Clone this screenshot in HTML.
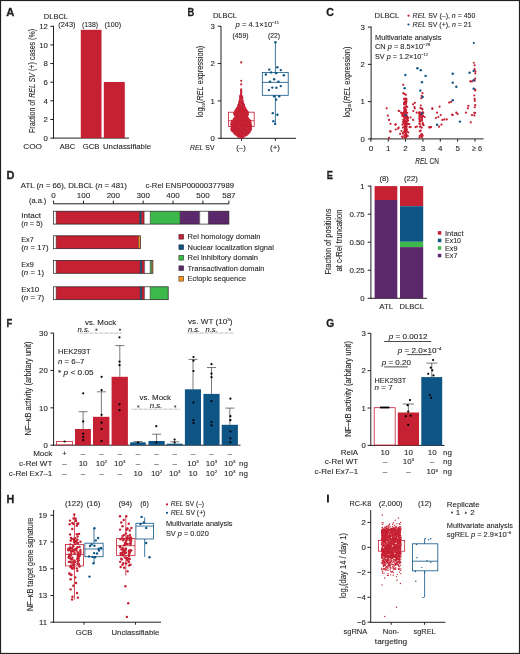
<!DOCTYPE html>
<html><head><meta charset="utf-8"><style>
html,body{margin:0;padding:0;background:#fff;}
svg{display:block;will-change:transform;font-family:"Liberation Sans",sans-serif;font-size:8.0px;}
text{stroke:#231f20;stroke-width:0.1px;}
</style></head><body>
<svg width="520" height="654" viewBox="0 0 520 654" fill="#231f20">
<rect x="0" y="0" width="520" height="654" fill="#fff"/>
<text transform="translate(6.21 16.10) scale(1.110 1)" font-size="10.1" font-weight="bold" style="stroke-width:0.3px">A</text>
<text x="43.80" y="18.50" textLength="24.20" lengthAdjust="spacingAndGlyphs">DLBCL</text>
<text x="58.20" y="27.20" textLength="17.30" lengthAdjust="spacingAndGlyphs">(243)</text>
<text x="82.00" y="27.20" textLength="16.00" lengthAdjust="spacingAndGlyphs">(138)</text>
<text x="104.50" y="27.20" textLength="16.60" lengthAdjust="spacingAndGlyphs">(100)</text>
<line x1="53.50" y1="25.80" x2="53.50" y2="138.60" stroke="#231f20" stroke-width="1.0"/>
<line x1="50.30" y1="138.10" x2="53.50" y2="138.10" stroke="#231f20" stroke-width="1.0"/>
<text x="47.90" y="140.80" font-size="7.8" text-anchor="end">0</text>
<line x1="50.30" y1="119.47" x2="53.50" y2="119.47" stroke="#231f20" stroke-width="1.0"/>
<text x="47.90" y="122.17" font-size="7.8" text-anchor="end">2</text>
<line x1="50.30" y1="100.83" x2="53.50" y2="100.83" stroke="#231f20" stroke-width="1.0"/>
<text x="47.90" y="103.53" font-size="7.8" text-anchor="end">4</text>
<line x1="50.30" y1="82.20" x2="53.50" y2="82.20" stroke="#231f20" stroke-width="1.0"/>
<text x="47.90" y="84.90" font-size="7.8" text-anchor="end">6</text>
<line x1="50.30" y1="63.56" x2="53.50" y2="63.56" stroke="#231f20" stroke-width="1.0"/>
<text x="47.90" y="66.26" font-size="7.8" text-anchor="end">8</text>
<line x1="50.30" y1="44.93" x2="53.50" y2="44.93" stroke="#231f20" stroke-width="1.0"/>
<text x="47.90" y="47.63" font-size="7.8" text-anchor="end">10</text>
<line x1="50.30" y1="26.30" x2="53.50" y2="26.30" stroke="#231f20" stroke-width="1.0"/>
<text x="47.90" y="29.00" font-size="7.8" text-anchor="end">12</text>
<line x1="53.00" y1="138.10" x2="129.00" y2="138.10" stroke="#231f20" stroke-width="1.0"/>
<rect x="80.80" y="29.80" width="20.70" height="108.30" fill="#c62033"/>
<rect x="103.80" y="82.00" width="21.00" height="56.10" fill="#c62033"/>
<text x="23.20" y="149.20" textLength="18.80" lengthAdjust="spacingAndGlyphs">COO</text>
<text x="59.80" y="149.20" textLength="15.40" lengthAdjust="spacingAndGlyphs">ABC</text>
<text x="82.70" y="149.20" textLength="16.70" lengthAdjust="spacingAndGlyphs">GCB</text>
<text x="103.00" y="149.20" textLength="48.00" lengthAdjust="spacingAndGlyphs">Unclassifiable</text>
<text x="35.30" y="81.00" font-size="8.6" text-anchor="middle" textLength="104.00" lengthAdjust="spacingAndGlyphs" transform="rotate(-90 35.30 81.00)">Fraction of <tspan font-style="italic">REL SV</tspan> (+) cases (%)</text>
<text transform="translate(187.60 16.10) scale(0.925 1)" font-size="10.1" font-weight="bold" style="stroke-width:0.3px">B</text>
<text x="213.00" y="17.80" textLength="24.00" lengthAdjust="spacingAndGlyphs">DLBCL</text>
<text x="235.50" y="27.00" textLength="43.50" lengthAdjust="spacingAndGlyphs"><tspan font-style="italic">p</tspan> = 4.1×10<tspan dy="-2.9" font-size="4.4">−11</tspan></text>
<text x="232.50" y="38.10" textLength="16.00" lengthAdjust="spacingAndGlyphs">(459)</text>
<text x="268.00" y="38.10" textLength="12.00" lengthAdjust="spacingAndGlyphs">(22)</text>
<line x1="221.00" y1="26.00" x2="221.00" y2="138.80" stroke="#231f20" stroke-width="1.0"/>
<line x1="217.80" y1="138.30" x2="221.00" y2="138.30" stroke="#231f20" stroke-width="1.0"/>
<text x="214.90" y="141.00" font-size="7.8" text-anchor="end">0</text>
<line x1="217.80" y1="100.93" x2="221.00" y2="100.93" stroke="#231f20" stroke-width="1.0"/>
<text x="214.90" y="103.63" font-size="7.8" text-anchor="end">1</text>
<line x1="217.80" y1="63.56" x2="221.00" y2="63.56" stroke="#231f20" stroke-width="1.0"/>
<text x="214.90" y="66.26" font-size="7.8" text-anchor="end">2</text>
<line x1="217.80" y1="26.19" x2="221.00" y2="26.19" stroke="#231f20" stroke-width="1.0"/>
<text x="214.90" y="28.89" font-size="7.8" text-anchor="end">3</text>
<line x1="220.50" y1="138.30" x2="296.00" y2="138.30" stroke="#231f20" stroke-width="1.0"/>
<line x1="241.50" y1="138.30" x2="241.50" y2="140.80" stroke="#231f20" stroke-width="1.0"/>
<line x1="275.40" y1="138.30" x2="275.40" y2="140.80" stroke="#231f20" stroke-width="1.0"/>
<text x="203.10" y="81.60" font-size="8.6" text-anchor="middle" textLength="71.60" lengthAdjust="spacingAndGlyphs" transform="rotate(-90 203.10 81.60)">log<tspan dy="1.7" font-size="4.4">10</tspan><tspan dy="-1.7">(<tspan font-style="italic">REL</tspan> expression)</text>
<text x="190.00" y="150.20" textLength="24.60" lengthAdjust="spacingAndGlyphs"><tspan font-style="italic">REL</tspan> SV</text>
<text x="241.00" y="150.20" text-anchor="middle" textLength="9.40" lengthAdjust="spacingAndGlyphs">(–)</text>
<text x="275.00" y="150.20" text-anchor="middle" textLength="10.00" lengthAdjust="spacingAndGlyphs">(+)</text>
<rect x="228.50" y="112.20" width="25.70" height="14.30" fill="none" stroke="#c62033" stroke-width="0.8"/>
<line x1="228.50" y1="120.70" x2="254.20" y2="120.70" stroke="#c62033" stroke-width="0.8"/>
<circle cx="241.09" cy="90.79" r="1.1" fill="#c62033"/>
<circle cx="241.29" cy="91.74" r="1.1" fill="#c62033"/>
<circle cx="241.22" cy="92.92" r="1.1" fill="#c62033"/>
<circle cx="240.93" cy="94.00" r="1.1" fill="#c62033"/>
<circle cx="240.92" cy="94.96" r="1.1" fill="#c62033"/>
<circle cx="240.24" cy="95.75" r="1.1" fill="#c62033"/>
<circle cx="241.85" cy="96.20" r="1.1" fill="#c62033"/>
<circle cx="240.17" cy="96.83" r="1.1" fill="#c62033"/>
<circle cx="242.08" cy="97.27" r="1.1" fill="#c62033"/>
<circle cx="240.30" cy="97.94" r="1.1" fill="#c62033"/>
<circle cx="242.43" cy="97.73" r="1.1" fill="#c62033"/>
<circle cx="240.32" cy="98.87" r="1.1" fill="#c62033"/>
<circle cx="242.08" cy="98.77" r="1.1" fill="#c62033"/>
<circle cx="239.84" cy="100.19" r="1.1" fill="#c62033"/>
<circle cx="242.26" cy="100.05" r="1.1" fill="#c62033"/>
<circle cx="239.89" cy="100.92" r="1.1" fill="#c62033"/>
<circle cx="242.62" cy="100.74" r="1.1" fill="#c62033"/>
<circle cx="239.33" cy="101.82" r="1.1" fill="#c62033"/>
<circle cx="241.31" cy="101.96" r="1.1" fill="#c62033"/>
<circle cx="242.69" cy="102.05" r="1.1" fill="#c62033"/>
<circle cx="239.23" cy="102.88" r="1.1" fill="#c62033"/>
<circle cx="241.38" cy="103.12" r="1.1" fill="#c62033"/>
<circle cx="242.99" cy="103.04" r="1.1" fill="#c62033"/>
<circle cx="238.93" cy="104.23" r="1.1" fill="#c62033"/>
<circle cx="240.58" cy="103.87" r="1.1" fill="#c62033"/>
<circle cx="242.25" cy="103.77" r="1.1" fill="#c62033"/>
<circle cx="243.43" cy="104.15" r="1.1" fill="#c62033"/>
<circle cx="238.37" cy="104.99" r="1.1" fill="#c62033"/>
<circle cx="240.05" cy="105.10" r="1.1" fill="#c62033"/>
<circle cx="242.23" cy="105.04" r="1.1" fill="#c62033"/>
<circle cx="244.05" cy="104.89" r="1.1" fill="#c62033"/>
<circle cx="238.35" cy="106.06" r="1.1" fill="#c62033"/>
<circle cx="239.77" cy="105.97" r="1.1" fill="#c62033"/>
<circle cx="241.40" cy="106.27" r="1.1" fill="#c62033"/>
<circle cx="242.67" cy="106.10" r="1.1" fill="#c62033"/>
<circle cx="243.90" cy="106.12" r="1.1" fill="#c62033"/>
<circle cx="237.89" cy="107.30" r="1.1" fill="#c62033"/>
<circle cx="239.69" cy="106.87" r="1.1" fill="#c62033"/>
<circle cx="241.13" cy="107.10" r="1.1" fill="#c62033"/>
<circle cx="242.61" cy="106.98" r="1.1" fill="#c62033"/>
<circle cx="244.40" cy="106.77" r="1.1" fill="#c62033"/>
<circle cx="237.04" cy="108.16" r="1.1" fill="#c62033"/>
<circle cx="238.64" cy="107.85" r="1.1" fill="#c62033"/>
<circle cx="240.35" cy="108.22" r="1.1" fill="#c62033"/>
<circle cx="241.73" cy="107.97" r="1.1" fill="#c62033"/>
<circle cx="243.57" cy="108.23" r="1.1" fill="#c62033"/>
<circle cx="245.29" cy="108.22" r="1.1" fill="#c62033"/>
<circle cx="236.67" cy="108.95" r="1.1" fill="#c62033"/>
<circle cx="238.18" cy="109.23" r="1.1" fill="#c62033"/>
<circle cx="240.01" cy="108.79" r="1.1" fill="#c62033"/>
<circle cx="241.01" cy="108.84" r="1.1" fill="#c62033"/>
<circle cx="242.51" cy="108.99" r="1.1" fill="#c62033"/>
<circle cx="244.19" cy="108.86" r="1.1" fill="#c62033"/>
<circle cx="245.30" cy="108.95" r="1.1" fill="#c62033"/>
<circle cx="236.04" cy="110.04" r="1.1" fill="#c62033"/>
<circle cx="237.84" cy="110.11" r="1.1" fill="#c62033"/>
<circle cx="239.03" cy="110.07" r="1.1" fill="#c62033"/>
<circle cx="240.58" cy="109.73" r="1.1" fill="#c62033"/>
<circle cx="242.17" cy="110.17" r="1.1" fill="#c62033"/>
<circle cx="243.60" cy="110.18" r="1.1" fill="#c62033"/>
<circle cx="244.76" cy="109.94" r="1.1" fill="#c62033"/>
<circle cx="246.04" cy="110.08" r="1.1" fill="#c62033"/>
<circle cx="235.18" cy="110.74" r="1.1" fill="#c62033"/>
<circle cx="236.71" cy="110.80" r="1.1" fill="#c62033"/>
<circle cx="238.22" cy="110.73" r="1.1" fill="#c62033"/>
<circle cx="239.46" cy="110.79" r="1.1" fill="#c62033"/>
<circle cx="240.96" cy="110.92" r="1.1" fill="#c62033"/>
<circle cx="242.36" cy="111.22" r="1.1" fill="#c62033"/>
<circle cx="244.15" cy="110.79" r="1.1" fill="#c62033"/>
<circle cx="245.37" cy="110.91" r="1.1" fill="#c62033"/>
<circle cx="246.88" cy="110.77" r="1.1" fill="#c62033"/>
<circle cx="235.06" cy="112.30" r="1.1" fill="#c62033"/>
<circle cx="236.24" cy="111.99" r="1.1" fill="#c62033"/>
<circle cx="237.42" cy="111.76" r="1.1" fill="#c62033"/>
<circle cx="238.99" cy="111.86" r="1.1" fill="#c62033"/>
<circle cx="240.69" cy="111.80" r="1.1" fill="#c62033"/>
<circle cx="241.62" cy="112.27" r="1.1" fill="#c62033"/>
<circle cx="243.33" cy="111.79" r="1.1" fill="#c62033"/>
<circle cx="244.75" cy="111.72" r="1.1" fill="#c62033"/>
<circle cx="246.16" cy="112.29" r="1.1" fill="#c62033"/>
<circle cx="247.77" cy="112.12" r="1.1" fill="#c62033"/>
<circle cx="234.21" cy="112.92" r="1.1" fill="#c62033"/>
<circle cx="235.67" cy="113.16" r="1.1" fill="#c62033"/>
<circle cx="237.41" cy="113.17" r="1.1" fill="#c62033"/>
<circle cx="238.81" cy="112.83" r="1.1" fill="#c62033"/>
<circle cx="240.63" cy="113.29" r="1.1" fill="#c62033"/>
<circle cx="242.17" cy="113.18" r="1.1" fill="#c62033"/>
<circle cx="243.67" cy="113.14" r="1.1" fill="#c62033"/>
<circle cx="244.84" cy="113.01" r="1.1" fill="#c62033"/>
<circle cx="246.44" cy="112.72" r="1.1" fill="#c62033"/>
<circle cx="247.77" cy="112.87" r="1.1" fill="#c62033"/>
<circle cx="234.12" cy="114.12" r="1.1" fill="#c62033"/>
<circle cx="236.08" cy="113.97" r="1.1" fill="#c62033"/>
<circle cx="237.61" cy="114.29" r="1.1" fill="#c62033"/>
<circle cx="239.16" cy="113.92" r="1.1" fill="#c62033"/>
<circle cx="240.26" cy="113.84" r="1.1" fill="#c62033"/>
<circle cx="241.79" cy="113.82" r="1.1" fill="#c62033"/>
<circle cx="243.59" cy="114.24" r="1.1" fill="#c62033"/>
<circle cx="245.26" cy="113.99" r="1.1" fill="#c62033"/>
<circle cx="246.68" cy="114.18" r="1.1" fill="#c62033"/>
<circle cx="247.88" cy="114.10" r="1.1" fill="#c62033"/>
<circle cx="234.85" cy="115.17" r="1.1" fill="#c62033"/>
<circle cx="236.22" cy="114.99" r="1.1" fill="#c62033"/>
<circle cx="237.34" cy="115.17" r="1.1" fill="#c62033"/>
<circle cx="238.90" cy="115.18" r="1.1" fill="#c62033"/>
<circle cx="240.75" cy="114.94" r="1.1" fill="#c62033"/>
<circle cx="241.87" cy="115.27" r="1.1" fill="#c62033"/>
<circle cx="243.53" cy="114.80" r="1.1" fill="#c62033"/>
<circle cx="244.64" cy="114.79" r="1.1" fill="#c62033"/>
<circle cx="246.58" cy="115.18" r="1.1" fill="#c62033"/>
<circle cx="247.59" cy="115.20" r="1.1" fill="#c62033"/>
<circle cx="235.54" cy="116.09" r="1.1" fill="#c62033"/>
<circle cx="236.65" cy="116.03" r="1.1" fill="#c62033"/>
<circle cx="238.00" cy="115.71" r="1.1" fill="#c62033"/>
<circle cx="240.00" cy="116.09" r="1.1" fill="#c62033"/>
<circle cx="241.22" cy="116.26" r="1.1" fill="#c62033"/>
<circle cx="242.65" cy="116.22" r="1.1" fill="#c62033"/>
<circle cx="244.37" cy="115.83" r="1.1" fill="#c62033"/>
<circle cx="245.51" cy="115.88" r="1.1" fill="#c62033"/>
<circle cx="246.99" cy="116.05" r="1.1" fill="#c62033"/>
<circle cx="235.76" cy="116.95" r="1.1" fill="#c62033"/>
<circle cx="237.19" cy="117.25" r="1.1" fill="#c62033"/>
<circle cx="238.84" cy="116.97" r="1.1" fill="#c62033"/>
<circle cx="240.49" cy="117.24" r="1.1" fill="#c62033"/>
<circle cx="241.91" cy="117.25" r="1.1" fill="#c62033"/>
<circle cx="243.47" cy="117.02" r="1.1" fill="#c62033"/>
<circle cx="245.00" cy="116.71" r="1.1" fill="#c62033"/>
<circle cx="246.46" cy="116.81" r="1.1" fill="#c62033"/>
<circle cx="234.55" cy="118.18" r="1.1" fill="#c62033"/>
<circle cx="236.06" cy="117.98" r="1.1" fill="#c62033"/>
<circle cx="237.81" cy="118.03" r="1.1" fill="#c62033"/>
<circle cx="238.98" cy="118.01" r="1.1" fill="#c62033"/>
<circle cx="240.53" cy="118.17" r="1.1" fill="#c62033"/>
<circle cx="241.67" cy="118.04" r="1.1" fill="#c62033"/>
<circle cx="243.17" cy="117.87" r="1.1" fill="#c62033"/>
<circle cx="244.89" cy="118.00" r="1.1" fill="#c62033"/>
<circle cx="246.18" cy="118.16" r="1.1" fill="#c62033"/>
<circle cx="247.80" cy="117.97" r="1.1" fill="#c62033"/>
<circle cx="233.87" cy="119.00" r="1.1" fill="#c62033"/>
<circle cx="235.29" cy="119.12" r="1.1" fill="#c62033"/>
<circle cx="236.73" cy="119.02" r="1.1" fill="#c62033"/>
<circle cx="238.23" cy="119.26" r="1.1" fill="#c62033"/>
<circle cx="239.84" cy="119.23" r="1.1" fill="#c62033"/>
<circle cx="241.47" cy="118.86" r="1.1" fill="#c62033"/>
<circle cx="242.72" cy="119.27" r="1.1" fill="#c62033"/>
<circle cx="244.36" cy="118.78" r="1.1" fill="#c62033"/>
<circle cx="245.41" cy="118.97" r="1.1" fill="#c62033"/>
<circle cx="246.86" cy="118.84" r="1.1" fill="#c62033"/>
<circle cx="248.34" cy="119.10" r="1.1" fill="#c62033"/>
<circle cx="233.22" cy="120.24" r="1.1" fill="#c62033"/>
<circle cx="234.32" cy="120.13" r="1.1" fill="#c62033"/>
<circle cx="236.11" cy="119.79" r="1.1" fill="#c62033"/>
<circle cx="237.73" cy="120.28" r="1.1" fill="#c62033"/>
<circle cx="238.81" cy="120.27" r="1.1" fill="#c62033"/>
<circle cx="240.40" cy="119.99" r="1.1" fill="#c62033"/>
<circle cx="242.23" cy="120.20" r="1.1" fill="#c62033"/>
<circle cx="243.22" cy="119.96" r="1.1" fill="#c62033"/>
<circle cx="244.91" cy="119.90" r="1.1" fill="#c62033"/>
<circle cx="246.20" cy="119.89" r="1.1" fill="#c62033"/>
<circle cx="248.00" cy="119.71" r="1.1" fill="#c62033"/>
<circle cx="249.38" cy="119.96" r="1.1" fill="#c62033"/>
<circle cx="232.01" cy="120.90" r="1.1" fill="#c62033"/>
<circle cx="233.86" cy="121.01" r="1.1" fill="#c62033"/>
<circle cx="235.01" cy="121.29" r="1.1" fill="#c62033"/>
<circle cx="236.92" cy="121.28" r="1.1" fill="#c62033"/>
<circle cx="238.00" cy="120.86" r="1.1" fill="#c62033"/>
<circle cx="239.44" cy="121.17" r="1.1" fill="#c62033"/>
<circle cx="241.06" cy="120.78" r="1.1" fill="#c62033"/>
<circle cx="242.64" cy="121.25" r="1.1" fill="#c62033"/>
<circle cx="244.36" cy="120.86" r="1.1" fill="#c62033"/>
<circle cx="245.44" cy="121.25" r="1.1" fill="#c62033"/>
<circle cx="247.18" cy="121.12" r="1.1" fill="#c62033"/>
<circle cx="248.37" cy="120.73" r="1.1" fill="#c62033"/>
<circle cx="250.21" cy="120.96" r="1.1" fill="#c62033"/>
<circle cx="231.81" cy="122.26" r="1.1" fill="#c62033"/>
<circle cx="233.55" cy="122.18" r="1.1" fill="#c62033"/>
<circle cx="234.63" cy="122.21" r="1.1" fill="#c62033"/>
<circle cx="236.02" cy="122.22" r="1.1" fill="#c62033"/>
<circle cx="237.66" cy="121.90" r="1.1" fill="#c62033"/>
<circle cx="239.12" cy="122.26" r="1.1" fill="#c62033"/>
<circle cx="240.36" cy="121.78" r="1.1" fill="#c62033"/>
<circle cx="241.92" cy="121.84" r="1.1" fill="#c62033"/>
<circle cx="243.07" cy="121.80" r="1.1" fill="#c62033"/>
<circle cx="244.44" cy="121.82" r="1.1" fill="#c62033"/>
<circle cx="246.01" cy="121.88" r="1.1" fill="#c62033"/>
<circle cx="247.68" cy="121.87" r="1.1" fill="#c62033"/>
<circle cx="248.93" cy="121.81" r="1.1" fill="#c62033"/>
<circle cx="250.24" cy="121.71" r="1.1" fill="#c62033"/>
<circle cx="231.68" cy="122.71" r="1.1" fill="#c62033"/>
<circle cx="233.41" cy="123.03" r="1.1" fill="#c62033"/>
<circle cx="234.53" cy="122.98" r="1.1" fill="#c62033"/>
<circle cx="236.42" cy="122.76" r="1.1" fill="#c62033"/>
<circle cx="237.79" cy="122.96" r="1.1" fill="#c62033"/>
<circle cx="239.04" cy="123.20" r="1.1" fill="#c62033"/>
<circle cx="240.42" cy="123.00" r="1.1" fill="#c62033"/>
<circle cx="242.03" cy="123.29" r="1.1" fill="#c62033"/>
<circle cx="243.27" cy="123.20" r="1.1" fill="#c62033"/>
<circle cx="244.93" cy="123.08" r="1.1" fill="#c62033"/>
<circle cx="246.19" cy="122.91" r="1.1" fill="#c62033"/>
<circle cx="247.42" cy="122.78" r="1.1" fill="#c62033"/>
<circle cx="248.87" cy="123.14" r="1.1" fill="#c62033"/>
<circle cx="250.42" cy="122.80" r="1.1" fill="#c62033"/>
<circle cx="231.35" cy="124.20" r="1.1" fill="#c62033"/>
<circle cx="233.30" cy="124.10" r="1.1" fill="#c62033"/>
<circle cx="234.42" cy="123.85" r="1.1" fill="#c62033"/>
<circle cx="235.91" cy="123.98" r="1.1" fill="#c62033"/>
<circle cx="237.30" cy="123.97" r="1.1" fill="#c62033"/>
<circle cx="238.84" cy="124.28" r="1.1" fill="#c62033"/>
<circle cx="240.75" cy="124.03" r="1.1" fill="#c62033"/>
<circle cx="241.79" cy="124.28" r="1.1" fill="#c62033"/>
<circle cx="243.30" cy="123.91" r="1.1" fill="#c62033"/>
<circle cx="244.59" cy="123.93" r="1.1" fill="#c62033"/>
<circle cx="246.35" cy="124.00" r="1.1" fill="#c62033"/>
<circle cx="247.67" cy="124.00" r="1.1" fill="#c62033"/>
<circle cx="249.03" cy="123.86" r="1.1" fill="#c62033"/>
<circle cx="250.55" cy="123.94" r="1.1" fill="#c62033"/>
<circle cx="231.33" cy="124.71" r="1.1" fill="#c62033"/>
<circle cx="232.96" cy="124.84" r="1.1" fill="#c62033"/>
<circle cx="234.61" cy="125.02" r="1.1" fill="#c62033"/>
<circle cx="236.18" cy="125.09" r="1.1" fill="#c62033"/>
<circle cx="237.64" cy="125.23" r="1.1" fill="#c62033"/>
<circle cx="238.92" cy="124.90" r="1.1" fill="#c62033"/>
<circle cx="240.75" cy="124.79" r="1.1" fill="#c62033"/>
<circle cx="242.07" cy="125.09" r="1.1" fill="#c62033"/>
<circle cx="243.14" cy="125.20" r="1.1" fill="#c62033"/>
<circle cx="245.13" cy="125.08" r="1.1" fill="#c62033"/>
<circle cx="246.51" cy="125.19" r="1.1" fill="#c62033"/>
<circle cx="247.63" cy="125.01" r="1.1" fill="#c62033"/>
<circle cx="249.33" cy="125.20" r="1.1" fill="#c62033"/>
<circle cx="250.98" cy="125.20" r="1.1" fill="#c62033"/>
<circle cx="231.65" cy="126.24" r="1.1" fill="#c62033"/>
<circle cx="233.19" cy="126.12" r="1.1" fill="#c62033"/>
<circle cx="234.39" cy="125.72" r="1.1" fill="#c62033"/>
<circle cx="235.81" cy="125.92" r="1.1" fill="#c62033"/>
<circle cx="237.27" cy="126.20" r="1.1" fill="#c62033"/>
<circle cx="239.02" cy="126.08" r="1.1" fill="#c62033"/>
<circle cx="240.54" cy="126.11" r="1.1" fill="#c62033"/>
<circle cx="241.93" cy="125.70" r="1.1" fill="#c62033"/>
<circle cx="243.59" cy="126.15" r="1.1" fill="#c62033"/>
<circle cx="244.89" cy="126.02" r="1.1" fill="#c62033"/>
<circle cx="246.46" cy="125.74" r="1.1" fill="#c62033"/>
<circle cx="247.99" cy="125.85" r="1.1" fill="#c62033"/>
<circle cx="249.07" cy="125.86" r="1.1" fill="#c62033"/>
<circle cx="250.94" cy="125.82" r="1.1" fill="#c62033"/>
<circle cx="231.74" cy="127.29" r="1.1" fill="#c62033"/>
<circle cx="233.07" cy="126.93" r="1.1" fill="#c62033"/>
<circle cx="234.54" cy="127.11" r="1.1" fill="#c62033"/>
<circle cx="236.19" cy="127.07" r="1.1" fill="#c62033"/>
<circle cx="237.59" cy="126.75" r="1.1" fill="#c62033"/>
<circle cx="238.77" cy="126.85" r="1.1" fill="#c62033"/>
<circle cx="240.61" cy="126.88" r="1.1" fill="#c62033"/>
<circle cx="241.98" cy="126.71" r="1.1" fill="#c62033"/>
<circle cx="243.15" cy="126.86" r="1.1" fill="#c62033"/>
<circle cx="245.00" cy="127.12" r="1.1" fill="#c62033"/>
<circle cx="246.47" cy="126.87" r="1.1" fill="#c62033"/>
<circle cx="247.86" cy="126.98" r="1.1" fill="#c62033"/>
<circle cx="249.30" cy="126.77" r="1.1" fill="#c62033"/>
<circle cx="251.04" cy="126.82" r="1.1" fill="#c62033"/>
<circle cx="231.89" cy="128.26" r="1.1" fill="#c62033"/>
<circle cx="232.79" cy="127.98" r="1.1" fill="#c62033"/>
<circle cx="234.75" cy="128.28" r="1.1" fill="#c62033"/>
<circle cx="236.00" cy="127.86" r="1.1" fill="#c62033"/>
<circle cx="237.33" cy="128.27" r="1.1" fill="#c62033"/>
<circle cx="238.81" cy="128.05" r="1.1" fill="#c62033"/>
<circle cx="240.25" cy="128.01" r="1.1" fill="#c62033"/>
<circle cx="242.21" cy="127.78" r="1.1" fill="#c62033"/>
<circle cx="243.61" cy="128.01" r="1.1" fill="#c62033"/>
<circle cx="245.12" cy="128.12" r="1.1" fill="#c62033"/>
<circle cx="246.21" cy="128.24" r="1.1" fill="#c62033"/>
<circle cx="247.84" cy="127.71" r="1.1" fill="#c62033"/>
<circle cx="249.03" cy="128.00" r="1.1" fill="#c62033"/>
<circle cx="250.77" cy="127.88" r="1.1" fill="#c62033"/>
<circle cx="231.38" cy="128.91" r="1.1" fill="#c62033"/>
<circle cx="232.97" cy="129.20" r="1.1" fill="#c62033"/>
<circle cx="234.25" cy="129.15" r="1.1" fill="#c62033"/>
<circle cx="236.23" cy="128.77" r="1.1" fill="#c62033"/>
<circle cx="237.76" cy="129.13" r="1.1" fill="#c62033"/>
<circle cx="239.23" cy="128.87" r="1.1" fill="#c62033"/>
<circle cx="240.38" cy="128.94" r="1.1" fill="#c62033"/>
<circle cx="242.24" cy="129.05" r="1.1" fill="#c62033"/>
<circle cx="243.33" cy="128.96" r="1.1" fill="#c62033"/>
<circle cx="244.76" cy="128.73" r="1.1" fill="#c62033"/>
<circle cx="246.13" cy="129.20" r="1.1" fill="#c62033"/>
<circle cx="247.72" cy="129.26" r="1.1" fill="#c62033"/>
<circle cx="249.17" cy="128.86" r="1.1" fill="#c62033"/>
<circle cx="250.81" cy="128.81" r="1.1" fill="#c62033"/>
<circle cx="231.52" cy="130.27" r="1.1" fill="#c62033"/>
<circle cx="233.31" cy="130.19" r="1.1" fill="#c62033"/>
<circle cx="234.63" cy="130.25" r="1.1" fill="#c62033"/>
<circle cx="236.30" cy="130.03" r="1.1" fill="#c62033"/>
<circle cx="237.64" cy="129.73" r="1.1" fill="#c62033"/>
<circle cx="239.12" cy="129.97" r="1.1" fill="#c62033"/>
<circle cx="240.61" cy="130.09" r="1.1" fill="#c62033"/>
<circle cx="241.81" cy="129.73" r="1.1" fill="#c62033"/>
<circle cx="243.67" cy="129.78" r="1.1" fill="#c62033"/>
<circle cx="244.88" cy="129.91" r="1.1" fill="#c62033"/>
<circle cx="246.25" cy="130.14" r="1.1" fill="#c62033"/>
<circle cx="248.13" cy="129.86" r="1.1" fill="#c62033"/>
<circle cx="249.42" cy="129.88" r="1.1" fill="#c62033"/>
<circle cx="250.83" cy="129.94" r="1.1" fill="#c62033"/>
<circle cx="232.08" cy="130.80" r="1.1" fill="#c62033"/>
<circle cx="233.59" cy="131.24" r="1.1" fill="#c62033"/>
<circle cx="235.25" cy="130.83" r="1.1" fill="#c62033"/>
<circle cx="236.98" cy="131.30" r="1.1" fill="#c62033"/>
<circle cx="238.20" cy="130.78" r="1.1" fill="#c62033"/>
<circle cx="239.53" cy="130.75" r="1.1" fill="#c62033"/>
<circle cx="241.11" cy="130.75" r="1.1" fill="#c62033"/>
<circle cx="242.53" cy="130.86" r="1.1" fill="#c62033"/>
<circle cx="244.22" cy="131.23" r="1.1" fill="#c62033"/>
<circle cx="245.81" cy="130.95" r="1.1" fill="#c62033"/>
<circle cx="247.09" cy="131.01" r="1.1" fill="#c62033"/>
<circle cx="248.56" cy="130.90" r="1.1" fill="#c62033"/>
<circle cx="249.86" cy="130.87" r="1.1" fill="#c62033"/>
<circle cx="233.24" cy="131.78" r="1.1" fill="#c62033"/>
<circle cx="234.46" cy="132.08" r="1.1" fill="#c62033"/>
<circle cx="236.17" cy="131.83" r="1.1" fill="#c62033"/>
<circle cx="237.32" cy="131.85" r="1.1" fill="#c62033"/>
<circle cx="238.89" cy="131.97" r="1.1" fill="#c62033"/>
<circle cx="240.72" cy="132.21" r="1.1" fill="#c62033"/>
<circle cx="242.17" cy="131.71" r="1.1" fill="#c62033"/>
<circle cx="243.17" cy="132.13" r="1.1" fill="#c62033"/>
<circle cx="245.18" cy="131.98" r="1.1" fill="#c62033"/>
<circle cx="246.50" cy="131.70" r="1.1" fill="#c62033"/>
<circle cx="247.88" cy="132.26" r="1.1" fill="#c62033"/>
<circle cx="249.64" cy="132.21" r="1.1" fill="#c62033"/>
<circle cx="234.14" cy="132.85" r="1.1" fill="#c62033"/>
<circle cx="235.09" cy="132.79" r="1.1" fill="#c62033"/>
<circle cx="236.81" cy="133.11" r="1.1" fill="#c62033"/>
<circle cx="238.53" cy="133.13" r="1.1" fill="#c62033"/>
<circle cx="239.82" cy="133.16" r="1.1" fill="#c62033"/>
<circle cx="241.17" cy="133.03" r="1.1" fill="#c62033"/>
<circle cx="242.39" cy="133.17" r="1.1" fill="#c62033"/>
<circle cx="243.98" cy="133.25" r="1.1" fill="#c62033"/>
<circle cx="245.69" cy="132.88" r="1.1" fill="#c62033"/>
<circle cx="246.85" cy="132.85" r="1.1" fill="#c62033"/>
<circle cx="248.62" cy="133.12" r="1.1" fill="#c62033"/>
<circle cx="234.75" cy="133.74" r="1.1" fill="#c62033"/>
<circle cx="236.55" cy="134.05" r="1.1" fill="#c62033"/>
<circle cx="238.02" cy="133.83" r="1.1" fill="#c62033"/>
<circle cx="239.71" cy="133.71" r="1.1" fill="#c62033"/>
<circle cx="241.08" cy="133.98" r="1.1" fill="#c62033"/>
<circle cx="243.03" cy="134.09" r="1.1" fill="#c62033"/>
<circle cx="244.54" cy="133.99" r="1.1" fill="#c62033"/>
<circle cx="245.71" cy="133.85" r="1.1" fill="#c62033"/>
<circle cx="247.70" cy="134.12" r="1.1" fill="#c62033"/>
<circle cx="235.98" cy="134.71" r="1.1" fill="#c62033"/>
<circle cx="237.56" cy="135.10" r="1.1" fill="#c62033"/>
<circle cx="238.97" cy="134.85" r="1.1" fill="#c62033"/>
<circle cx="240.57" cy="135.26" r="1.1" fill="#c62033"/>
<circle cx="241.76" cy="134.72" r="1.1" fill="#c62033"/>
<circle cx="243.29" cy="134.95" r="1.1" fill="#c62033"/>
<circle cx="244.95" cy="134.82" r="1.1" fill="#c62033"/>
<circle cx="246.48" cy="135.14" r="1.1" fill="#c62033"/>
<circle cx="237.50" cy="135.82" r="1.1" fill="#c62033"/>
<circle cx="239.26" cy="135.89" r="1.1" fill="#c62033"/>
<circle cx="240.65" cy="135.84" r="1.1" fill="#c62033"/>
<circle cx="241.77" cy="136.16" r="1.1" fill="#c62033"/>
<circle cx="243.30" cy="136.27" r="1.1" fill="#c62033"/>
<circle cx="244.90" cy="135.81" r="1.1" fill="#c62033"/>
<circle cx="238.73" cy="136.95" r="1.1" fill="#c62033"/>
<circle cx="240.53" cy="137.27" r="1.1" fill="#c62033"/>
<circle cx="241.75" cy="136.94" r="1.1" fill="#c62033"/>
<circle cx="243.33" cy="137.28" r="1.1" fill="#c62033"/>
<circle cx="240.99" cy="137.73" r="1.1" fill="#c62033"/>
<circle cx="241.20" cy="62.40" r="1.05" fill="#c62033"/>
<circle cx="241.20" cy="80.80" r="1.05" fill="#c62033"/>
<circle cx="241.20" cy="84.40" r="1.05" fill="#c62033"/>
<circle cx="241.20" cy="89.40" r="1.05" fill="#c62033"/>
<rect x="262.30" y="72.40" width="25.90" height="22.90" fill="none" stroke="#0e5485" stroke-width="0.8"/>
<line x1="262.30" y1="82.40" x2="288.20" y2="82.40" stroke="#0e5485" stroke-width="0.8"/>
<line x1="275.40" y1="42.20" x2="275.40" y2="72.40" stroke="#0e5485" stroke-width="0.8"/>
<line x1="275.40" y1="95.30" x2="275.40" y2="124.20" stroke="#0e5485" stroke-width="0.8"/>
<circle cx="269.23" cy="69.62" r="1.2" fill="#0e5485"/>
<circle cx="277.38" cy="67.31" r="1.2" fill="#0e5485"/>
<circle cx="280.77" cy="70.08" r="1.2" fill="#0e5485"/>
<circle cx="265.85" cy="74.54" r="1.2" fill="#0e5485"/>
<circle cx="271.08" cy="72.38" r="1.2" fill="#0e5485"/>
<circle cx="276.15" cy="73.15" r="1.2" fill="#0e5485"/>
<circle cx="283.85" cy="75.31" r="1.2" fill="#0e5485"/>
<circle cx="274.15" cy="79.31" r="1.2" fill="#0e5485"/>
<circle cx="270.00" cy="81.62" r="1.2" fill="#0e5485"/>
<circle cx="278.46" cy="81.62" r="1.2" fill="#0e5485"/>
<circle cx="272.31" cy="87.62" r="1.2" fill="#0e5485"/>
<circle cx="276.46" cy="87.77" r="1.2" fill="#0e5485"/>
<circle cx="280.77" cy="86.08" r="1.2" fill="#0e5485"/>
<circle cx="268.92" cy="90.08" r="1.2" fill="#0e5485"/>
<circle cx="274.15" cy="96.23" r="1.2" fill="#0e5485"/>
<circle cx="279.23" cy="96.23" r="1.2" fill="#0e5485"/>
<circle cx="276.15" cy="99.62" r="1.2" fill="#0e5485"/>
<circle cx="272.77" cy="113.15" r="1.2" fill="#0e5485"/>
<circle cx="277.38" cy="114.69" r="1.2" fill="#0e5485"/>
<circle cx="273.38" cy="121.15" r="1.2" fill="#0e5485"/>
<circle cx="275.08" cy="123.92" r="1.2" fill="#0e5485"/>
<circle cx="275.40" cy="42.20" r="1.2" fill="#0e5485"/>
<text transform="translate(326.33 16.00) scale(1.051 1)" font-size="10.1" font-weight="bold" style="stroke-width:0.3px">C</text>
<text x="374.60" y="18.20" textLength="24.80" lengthAdjust="spacingAndGlyphs">DLBCL</text>
<circle cx="408.50" cy="15.70" r="1.1" fill="#c62033"/>
<text x="412.60" y="18.20" textLength="62.80" lengthAdjust="spacingAndGlyphs"><tspan font-style="italic">REL</tspan> SV (–), <tspan font-style="italic">n</tspan> = 450</text>
<circle cx="408.50" cy="24.50" r="1.1" fill="#0e5485"/>
<text x="412.60" y="27.00" textLength="59.00" lengthAdjust="spacingAndGlyphs"><tspan font-style="italic">REL</tspan> SV (+), <tspan font-style="italic">n</tspan> = 21</text>
<line x1="371.10" y1="26.50" x2="371.10" y2="139.40" stroke="#231f20" stroke-width="1.0"/>
<line x1="367.90" y1="138.90" x2="371.10" y2="138.90" stroke="#231f20" stroke-width="1.0"/>
<text x="364.90" y="141.60" font-size="7.8" text-anchor="end">0</text>
<line x1="367.90" y1="101.63" x2="371.10" y2="101.63" stroke="#231f20" stroke-width="1.0"/>
<text x="364.90" y="104.33" font-size="7.8" text-anchor="end">1</text>
<line x1="367.90" y1="64.36" x2="371.10" y2="64.36" stroke="#231f20" stroke-width="1.0"/>
<text x="364.90" y="67.06" font-size="7.8" text-anchor="end">2</text>
<line x1="367.90" y1="27.09" x2="371.10" y2="27.09" stroke="#231f20" stroke-width="1.0"/>
<text x="364.90" y="29.79" font-size="7.8" text-anchor="end">3</text>
<line x1="370.60" y1="138.90" x2="483.50" y2="138.90" stroke="#231f20" stroke-width="1.0"/>
<line x1="370.90" y1="138.90" x2="370.90" y2="141.70" stroke="#231f20" stroke-width="1.0"/>
<text x="370.90" y="150.90" text-anchor="middle">0</text>
<line x1="388.25" y1="138.90" x2="388.25" y2="141.70" stroke="#231f20" stroke-width="1.0"/>
<text x="388.25" y="150.90" text-anchor="middle">1</text>
<line x1="405.60" y1="138.90" x2="405.60" y2="141.70" stroke="#231f20" stroke-width="1.0"/>
<text x="405.60" y="150.90" text-anchor="middle">2</text>
<line x1="422.95" y1="138.90" x2="422.95" y2="141.70" stroke="#231f20" stroke-width="1.0"/>
<text x="422.95" y="150.90" text-anchor="middle">3</text>
<line x1="440.30" y1="138.90" x2="440.30" y2="141.70" stroke="#231f20" stroke-width="1.0"/>
<text x="440.30" y="150.90" text-anchor="middle">4</text>
<line x1="457.65" y1="138.90" x2="457.65" y2="141.70" stroke="#231f20" stroke-width="1.0"/>
<text x="457.65" y="150.90" text-anchor="middle">5</text>
<line x1="475.00" y1="138.90" x2="475.00" y2="141.70" stroke="#231f20" stroke-width="1.0"/>
<text x="477.00" y="150.90" text-anchor="middle" textLength="10.00" lengthAdjust="spacingAndGlyphs">≥ 6</text>
<text x="427.10" y="164.10" font-size="8.6" text-anchor="middle" textLength="23.60" lengthAdjust="spacingAndGlyphs"><tspan font-style="italic">REL</tspan> CN</text>
<text x="375.00" y="40.10" textLength="66.40" lengthAdjust="spacingAndGlyphs">Multivariate analysis</text>
<text x="375.00" y="49.30" textLength="55.00" lengthAdjust="spacingAndGlyphs">CN <tspan font-style="italic">p</tspan> = 8.5×10<tspan dy="-2.9" font-size="4.4">−29</tspan></text>
<text x="375.00" y="59.10" textLength="53.00" lengthAdjust="spacingAndGlyphs">SV <tspan font-style="italic">p</tspan> = 1.2×10<tspan dy="-2.9" font-size="4.4">−12</tspan></text>
<text x="349.80" y="82.10" font-size="8.6" text-anchor="middle" textLength="71.00" lengthAdjust="spacingAndGlyphs" transform="rotate(-90 349.80 82.10)">log<tspan dy="1.7" font-size="4.4">10</tspan><tspan dy="-1.7">(<tspan font-style="italic">REL</tspan> expression)</text>
<circle cx="404.14" cy="103.42" r="1.1" fill="#c62033"/>
<circle cx="406.16" cy="109.54" r="1.1" fill="#c62033"/>
<circle cx="405.76" cy="110.97" r="1.1" fill="#c62033"/>
<circle cx="406.24" cy="102.62" r="1.1" fill="#c62033"/>
<circle cx="404.45" cy="110.20" r="1.1" fill="#c62033"/>
<circle cx="405.79" cy="98.90" r="1.1" fill="#c62033"/>
<circle cx="405.59" cy="103.23" r="1.1" fill="#c62033"/>
<circle cx="404.90" cy="102.65" r="1.1" fill="#c62033"/>
<circle cx="404.41" cy="98.54" r="1.1" fill="#c62033"/>
<circle cx="404.67" cy="102.89" r="1.1" fill="#c62033"/>
<circle cx="406.29" cy="100.05" r="1.1" fill="#c62033"/>
<circle cx="406.31" cy="101.09" r="1.1" fill="#c62033"/>
<circle cx="404.86" cy="108.77" r="1.1" fill="#c62033"/>
<circle cx="405.97" cy="103.91" r="1.1" fill="#c62033"/>
<circle cx="404.12" cy="104.42" r="1.1" fill="#c62033"/>
<circle cx="404.89" cy="109.99" r="1.1" fill="#c62033"/>
<circle cx="404.46" cy="103.05" r="1.1" fill="#c62033"/>
<circle cx="406.15" cy="98.88" r="1.1" fill="#c62033"/>
<circle cx="404.99" cy="108.65" r="1.1" fill="#c62033"/>
<circle cx="405.84" cy="99.01" r="1.1" fill="#c62033"/>
<circle cx="404.08" cy="99.28" r="1.1" fill="#c62033"/>
<circle cx="406.21" cy="101.71" r="1.1" fill="#c62033"/>
<circle cx="405.79" cy="109.73" r="1.1" fill="#c62033"/>
<circle cx="404.81" cy="101.90" r="1.1" fill="#c62033"/>
<circle cx="406.30" cy="106.21" r="1.1" fill="#c62033"/>
<circle cx="404.63" cy="107.46" r="1.1" fill="#c62033"/>
<circle cx="404.76" cy="101.95" r="1.1" fill="#c62033"/>
<circle cx="404.01" cy="107.95" r="1.1" fill="#c62033"/>
<circle cx="406.20" cy="106.42" r="1.1" fill="#c62033"/>
<circle cx="406.26" cy="98.80" r="1.1" fill="#c62033"/>
<circle cx="405.35" cy="136.55" r="1.1" fill="#c62033"/>
<circle cx="406.67" cy="136.47" r="1.1" fill="#c62033"/>
<circle cx="404.45" cy="122.48" r="1.1" fill="#c62033"/>
<circle cx="405.85" cy="124.18" r="1.1" fill="#c62033"/>
<circle cx="405.94" cy="132.43" r="1.1" fill="#c62033"/>
<circle cx="404.84" cy="130.72" r="1.1" fill="#c62033"/>
<circle cx="406.19" cy="127.21" r="1.1" fill="#c62033"/>
<circle cx="403.19" cy="119.75" r="1.1" fill="#c62033"/>
<circle cx="404.68" cy="131.89" r="1.1" fill="#c62033"/>
<circle cx="406.32" cy="113.11" r="1.1" fill="#c62033"/>
<circle cx="405.91" cy="117.60" r="1.1" fill="#c62033"/>
<circle cx="407.26" cy="112.73" r="1.1" fill="#c62033"/>
<circle cx="406.81" cy="119.70" r="1.1" fill="#c62033"/>
<circle cx="405.55" cy="137.17" r="1.1" fill="#c62033"/>
<circle cx="408.00" cy="118.07" r="1.1" fill="#c62033"/>
<circle cx="402.62" cy="113.25" r="1.1" fill="#c62033"/>
<circle cx="406.46" cy="129.95" r="1.1" fill="#c62033"/>
<circle cx="406.07" cy="122.93" r="1.1" fill="#c62033"/>
<circle cx="405.33" cy="127.56" r="1.1" fill="#c62033"/>
<circle cx="406.54" cy="129.00" r="1.1" fill="#c62033"/>
<circle cx="405.17" cy="128.74" r="1.1" fill="#c62033"/>
<circle cx="402.68" cy="114.24" r="1.1" fill="#c62033"/>
<circle cx="405.79" cy="126.14" r="1.1" fill="#c62033"/>
<circle cx="404.29" cy="120.96" r="1.1" fill="#c62033"/>
<circle cx="405.14" cy="117.61" r="1.1" fill="#c62033"/>
<circle cx="404.34" cy="117.55" r="1.1" fill="#c62033"/>
<circle cx="406.74" cy="126.44" r="1.1" fill="#c62033"/>
<circle cx="407.42" cy="119.71" r="1.1" fill="#c62033"/>
<circle cx="402.40" cy="124.55" r="1.1" fill="#c62033"/>
<circle cx="407.67" cy="117.18" r="1.1" fill="#c62033"/>
<circle cx="405.88" cy="137.46" r="1.1" fill="#c62033"/>
<circle cx="403.43" cy="113.73" r="1.1" fill="#c62033"/>
<circle cx="402.83" cy="133.44" r="1.1" fill="#c62033"/>
<circle cx="405.58" cy="135.41" r="1.1" fill="#c62033"/>
<circle cx="406.25" cy="114.18" r="1.1" fill="#c62033"/>
<circle cx="405.47" cy="116.06" r="1.1" fill="#c62033"/>
<circle cx="406.90" cy="135.84" r="1.1" fill="#c62033"/>
<circle cx="404.91" cy="120.94" r="1.1" fill="#c62033"/>
<circle cx="406.15" cy="117.94" r="1.1" fill="#c62033"/>
<circle cx="404.14" cy="131.77" r="1.1" fill="#c62033"/>
<circle cx="405.78" cy="126.92" r="1.1" fill="#c62033"/>
<circle cx="404.99" cy="127.55" r="1.1" fill="#c62033"/>
<circle cx="405.45" cy="114.77" r="1.1" fill="#c62033"/>
<circle cx="406.42" cy="116.45" r="1.1" fill="#c62033"/>
<circle cx="405.15" cy="128.40" r="1.1" fill="#c62033"/>
<circle cx="406.96" cy="116.43" r="1.1" fill="#c62033"/>
<circle cx="406.35" cy="129.11" r="1.1" fill="#c62033"/>
<circle cx="405.28" cy="115.94" r="1.1" fill="#c62033"/>
<circle cx="404.87" cy="132.23" r="1.1" fill="#c62033"/>
<circle cx="406.01" cy="125.63" r="1.1" fill="#c62033"/>
<circle cx="405.75" cy="121.55" r="1.1" fill="#c62033"/>
<circle cx="405.43" cy="125.69" r="1.1" fill="#c62033"/>
<circle cx="404.84" cy="115.37" r="1.1" fill="#c62033"/>
<circle cx="404.76" cy="129.57" r="1.1" fill="#c62033"/>
<circle cx="404.30" cy="119.21" r="1.1" fill="#c62033"/>
<circle cx="405.77" cy="136.45" r="1.1" fill="#c62033"/>
<circle cx="404.56" cy="120.54" r="1.1" fill="#c62033"/>
<circle cx="406.75" cy="122.12" r="1.1" fill="#c62033"/>
<circle cx="408.00" cy="120.71" r="1.1" fill="#c62033"/>
<circle cx="402.40" cy="116.27" r="1.1" fill="#c62033"/>
<circle cx="405.08" cy="111.16" r="1.1" fill="#c62033"/>
<circle cx="404.33" cy="135.07" r="1.1" fill="#c62033"/>
<circle cx="403.06" cy="121.85" r="1.1" fill="#c62033"/>
<circle cx="406.31" cy="134.57" r="1.1" fill="#c62033"/>
<circle cx="404.45" cy="111.40" r="1.1" fill="#c62033"/>
<circle cx="405.39" cy="125.73" r="1.1" fill="#c62033"/>
<circle cx="403.39" cy="113.38" r="1.1" fill="#c62033"/>
<circle cx="403.00" cy="127.61" r="1.1" fill="#c62033"/>
<circle cx="404.14" cy="114.90" r="1.1" fill="#c62033"/>
<circle cx="406.32" cy="118.56" r="1.1" fill="#c62033"/>
<circle cx="402.40" cy="113.90" r="1.1" fill="#c62033"/>
<circle cx="404.81" cy="124.10" r="1.1" fill="#c62033"/>
<circle cx="406.35" cy="116.27" r="1.1" fill="#c62033"/>
<circle cx="402.40" cy="114.38" r="1.1" fill="#c62033"/>
<circle cx="408.00" cy="123.89" r="1.1" fill="#c62033"/>
<circle cx="403.96" cy="112.43" r="1.1" fill="#c62033"/>
<circle cx="406.35" cy="135.14" r="1.1" fill="#c62033"/>
<circle cx="404.62" cy="127.56" r="1.1" fill="#c62033"/>
<circle cx="405.55" cy="131.98" r="1.1" fill="#c62033"/>
<circle cx="404.51" cy="116.93" r="1.1" fill="#c62033"/>
<circle cx="403.12" cy="133.14" r="1.1" fill="#c62033"/>
<circle cx="406.62" cy="115.89" r="1.1" fill="#c62033"/>
<circle cx="405.46" cy="124.83" r="1.1" fill="#c62033"/>
<circle cx="406.49" cy="121.24" r="1.1" fill="#c62033"/>
<circle cx="405.90" cy="130.35" r="1.1" fill="#c62033"/>
<circle cx="405.88" cy="134.96" r="1.1" fill="#c62033"/>
<circle cx="406.82" cy="131.22" r="1.1" fill="#c62033"/>
<circle cx="405.63" cy="112.02" r="1.1" fill="#c62033"/>
<circle cx="405.54" cy="127.01" r="1.1" fill="#c62033"/>
<circle cx="404.65" cy="125.69" r="1.1" fill="#c62033"/>
<circle cx="404.42" cy="122.22" r="1.1" fill="#c62033"/>
<circle cx="404.40" cy="126.56" r="1.1" fill="#c62033"/>
<circle cx="403.50" cy="122.93" r="1.1" fill="#c62033"/>
<circle cx="406.06" cy="122.70" r="1.1" fill="#c62033"/>
<circle cx="406.99" cy="124.07" r="1.1" fill="#c62033"/>
<circle cx="405.46" cy="117.28" r="1.1" fill="#c62033"/>
<circle cx="405.39" cy="123.24" r="1.1" fill="#c62033"/>
<circle cx="402.95" cy="115.79" r="1.1" fill="#c62033"/>
<circle cx="404.59" cy="114.43" r="1.1" fill="#c62033"/>
<circle cx="405.30" cy="122.50" r="1.1" fill="#c62033"/>
<circle cx="406.38" cy="124.62" r="1.1" fill="#c62033"/>
<circle cx="405.97" cy="112.09" r="1.1" fill="#c62033"/>
<circle cx="404.85" cy="130.58" r="1.1" fill="#c62033"/>
<circle cx="404.79" cy="131.76" r="1.1" fill="#c62033"/>
<circle cx="404.77" cy="124.45" r="1.1" fill="#c62033"/>
<circle cx="405.17" cy="121.09" r="1.1" fill="#c62033"/>
<circle cx="405.87" cy="133.88" r="1.1" fill="#c62033"/>
<circle cx="404.99" cy="137.60" r="1.1" fill="#c62033"/>
<circle cx="404.93" cy="116.17" r="1.1" fill="#c62033"/>
<circle cx="402.83" cy="137.21" r="1.1" fill="#c62033"/>
<circle cx="403.20" cy="84.80" r="1.1" fill="#c62033"/>
<circle cx="403.30" cy="93.20" r="1.1" fill="#c62033"/>
<circle cx="404.60" cy="94.00" r="1.1" fill="#c62033"/>
<circle cx="405.80" cy="94.80" r="1.1" fill="#c62033"/>
<circle cx="399.30" cy="111.00" r="1.1" fill="#c62033"/>
<circle cx="407.30" cy="107.00" r="1.1" fill="#c62033"/>
<circle cx="410.70" cy="127.10" r="1.1" fill="#c62033"/>
<circle cx="409.20" cy="124.20" r="1.1" fill="#c62033"/>
<circle cx="400.10" cy="133.80" r="1.1" fill="#c62033"/>
<circle cx="408.30" cy="132.40" r="1.1" fill="#c62033"/>
<circle cx="401.50" cy="131.00" r="1.1" fill="#c62033"/>
<circle cx="407.80" cy="136.00" r="1.1" fill="#c62033"/>
<circle cx="402.00" cy="136.50" r="1.1" fill="#c62033"/>
<circle cx="421.26" cy="136.41" r="1.1" fill="#c62033"/>
<circle cx="423.21" cy="112.90" r="1.1" fill="#c62033"/>
<circle cx="422.63" cy="135.64" r="1.1" fill="#c62033"/>
<circle cx="419.30" cy="118.42" r="1.1" fill="#c62033"/>
<circle cx="422.48" cy="112.72" r="1.1" fill="#c62033"/>
<circle cx="423.12" cy="116.17" r="1.1" fill="#c62033"/>
<circle cx="422.75" cy="112.26" r="1.1" fill="#c62033"/>
<circle cx="421.31" cy="135.32" r="1.1" fill="#c62033"/>
<circle cx="419.96" cy="115.81" r="1.1" fill="#c62033"/>
<circle cx="421.33" cy="117.48" r="1.1" fill="#c62033"/>
<circle cx="419.17" cy="113.41" r="1.1" fill="#c62033"/>
<circle cx="419.74" cy="135.81" r="1.1" fill="#c62033"/>
<circle cx="422.13" cy="134.59" r="1.1" fill="#c62033"/>
<circle cx="419.78" cy="131.31" r="1.1" fill="#c62033"/>
<circle cx="419.53" cy="123.76" r="1.1" fill="#c62033"/>
<circle cx="421.93" cy="118.69" r="1.1" fill="#c62033"/>
<circle cx="423.02" cy="124.49" r="1.1" fill="#c62033"/>
<circle cx="421.67" cy="134.21" r="1.1" fill="#c62033"/>
<circle cx="419.48" cy="137.49" r="1.1" fill="#c62033"/>
<circle cx="421.90" cy="119.71" r="1.1" fill="#c62033"/>
<circle cx="422.67" cy="115.86" r="1.1" fill="#c62033"/>
<circle cx="423.56" cy="125.15" r="1.1" fill="#c62033"/>
<circle cx="420.66" cy="130.71" r="1.1" fill="#c62033"/>
<circle cx="421.03" cy="113.25" r="1.1" fill="#c62033"/>
<circle cx="422.42" cy="109.43" r="1.1" fill="#c62033"/>
<circle cx="422.77" cy="115.53" r="1.1" fill="#c62033"/>
<circle cx="421.94" cy="137.23" r="1.1" fill="#c62033"/>
<circle cx="421.70" cy="127.71" r="1.1" fill="#c62033"/>
<circle cx="420.44" cy="108.05" r="1.1" fill="#c62033"/>
<circle cx="419.16" cy="112.44" r="1.1" fill="#c62033"/>
<circle cx="421.83" cy="120.84" r="1.1" fill="#c62033"/>
<circle cx="421.36" cy="134.60" r="1.1" fill="#c62033"/>
<circle cx="419.61" cy="114.75" r="1.1" fill="#c62033"/>
<circle cx="422.00" cy="108.66" r="1.1" fill="#c62033"/>
<circle cx="419.51" cy="116.39" r="1.1" fill="#c62033"/>
<circle cx="419.88" cy="116.43" r="1.1" fill="#c62033"/>
<circle cx="420.31" cy="120.50" r="1.1" fill="#c62033"/>
<circle cx="421.62" cy="113.68" r="1.1" fill="#c62033"/>
<circle cx="421.75" cy="118.55" r="1.1" fill="#c62033"/>
<circle cx="419.99" cy="126.86" r="1.1" fill="#c62033"/>
<circle cx="420.38" cy="112.69" r="1.1" fill="#c62033"/>
<circle cx="419.84" cy="121.49" r="1.1" fill="#c62033"/>
<circle cx="422.64" cy="124.08" r="1.1" fill="#c62033"/>
<circle cx="420.95" cy="114.76" r="1.1" fill="#c62033"/>
<circle cx="419.54" cy="121.61" r="1.1" fill="#c62033"/>
<circle cx="421.52" cy="116.31" r="1.1" fill="#c62033"/>
<circle cx="421.82" cy="117.99" r="1.1" fill="#c62033"/>
<circle cx="422.87" cy="123.20" r="1.1" fill="#c62033"/>
<circle cx="420.39" cy="126.26" r="1.1" fill="#c62033"/>
<circle cx="419.66" cy="119.57" r="1.1" fill="#c62033"/>
<circle cx="420.96" cy="114.28" r="1.1" fill="#c62033"/>
<circle cx="419.71" cy="124.02" r="1.1" fill="#c62033"/>
<circle cx="422.50" cy="93.00" r="1.1" fill="#c62033"/>
<circle cx="421.70" cy="95.90" r="1.1" fill="#c62033"/>
<circle cx="421.25" cy="98.30" r="1.1" fill="#c62033"/>
<circle cx="420.80" cy="105.50" r="1.1" fill="#c62033"/>
<circle cx="424.60" cy="117.00" r="1.1" fill="#c62033"/>
<circle cx="414.80" cy="102.80" r="1.1" fill="#c62033"/>
<circle cx="414.50" cy="107.10" r="1.1" fill="#c62033"/>
<circle cx="413.30" cy="111.00" r="1.1" fill="#c62033"/>
<circle cx="416.90" cy="126.60" r="1.1" fill="#c62033"/>
<circle cx="429.40" cy="127.60" r="1.1" fill="#c62033"/>
<circle cx="430.40" cy="127.10" r="1.1" fill="#c62033"/>
<circle cx="432.30" cy="108.80" r="1.1" fill="#c62033"/>
<circle cx="395.30" cy="124.70" r="1.1" fill="#c62033"/>
<circle cx="390.50" cy="123.80" r="1.1" fill="#c62033"/>
<circle cx="390.50" cy="131.40" r="1.1" fill="#c62033"/>
<circle cx="395.80" cy="129.50" r="1.1" fill="#c62033"/>
<circle cx="398.20" cy="128.60" r="1.1" fill="#c62033"/>
<circle cx="474.31" cy="95.50" r="1.1" fill="#c62033"/>
<circle cx="475.43" cy="71.39" r="1.1" fill="#c62033"/>
<circle cx="474.54" cy="98.88" r="1.1" fill="#c62033"/>
<circle cx="474.91" cy="100.85" r="1.1" fill="#c62033"/>
<circle cx="475.28" cy="73.30" r="1.1" fill="#c62033"/>
<circle cx="474.67" cy="80.72" r="1.1" fill="#c62033"/>
<circle cx="474.36" cy="115.47" r="1.1" fill="#c62033"/>
<circle cx="475.24" cy="105.21" r="1.1" fill="#c62033"/>
<circle cx="474.31" cy="112.82" r="1.1" fill="#c62033"/>
<circle cx="475.19" cy="90.45" r="1.1" fill="#c62033"/>
<circle cx="475.19" cy="89.70" r="1.1" fill="#c62033"/>
<circle cx="474.57" cy="69.21" r="1.1" fill="#c62033"/>
<circle cx="474.58" cy="65.29" r="1.1" fill="#c62033"/>
<circle cx="474.70" cy="107.23" r="1.1" fill="#c62033"/>
<circle cx="475.13" cy="112.87" r="1.1" fill="#c62033"/>
<circle cx="475.15" cy="78.69" r="1.1" fill="#c62033"/>
<circle cx="386.63" cy="108.37" r="1.1" fill="#c62033"/>
<circle cx="387.84" cy="115.58" r="1.1" fill="#c62033"/>
<circle cx="389.04" cy="119.90" r="1.1" fill="#c62033"/>
<circle cx="390.24" cy="131.44" r="1.1" fill="#c62033"/>
<circle cx="389.04" cy="137.93" r="1.1" fill="#c62033"/>
<circle cx="395.77" cy="124.23" r="1.1" fill="#c62033"/>
<circle cx="398.65" cy="127.60" r="1.1" fill="#c62033"/>
<circle cx="398.65" cy="110.77" r="1.1" fill="#c62033"/>
<circle cx="401.06" cy="112.69" r="1.1" fill="#c62033"/>
<circle cx="409.47" cy="127.12" r="1.1" fill="#c62033"/>
<circle cx="413.08" cy="104.28" r="1.1" fill="#c62033"/>
<circle cx="414.76" cy="108.37" r="1.1" fill="#c62033"/>
<circle cx="413.08" cy="119.90" r="1.1" fill="#c62033"/>
<circle cx="415.48" cy="127.12" r="1.1" fill="#c62033"/>
<circle cx="410.67" cy="117.50" r="1.1" fill="#c62033"/>
<circle cx="416.68" cy="112.69" r="1.1" fill="#c62033"/>
<circle cx="429.42" cy="127.12" r="1.1" fill="#c62033"/>
<circle cx="431.11" cy="127.12" r="1.1" fill="#c62033"/>
<circle cx="432.31" cy="108.37" r="1.1" fill="#c62033"/>
<circle cx="435.91" cy="117.98" r="1.1" fill="#c62033"/>
<circle cx="437.12" cy="112.69" r="1.1" fill="#c62033"/>
<circle cx="438.32" cy="117.02" r="1.1" fill="#c62033"/>
<circle cx="439.52" cy="106.68" r="1.1" fill="#c62033"/>
<circle cx="440.72" cy="115.10" r="1.1" fill="#c62033"/>
<circle cx="441.44" cy="124.71" r="1.1" fill="#c62033"/>
<circle cx="442.40" cy="119.90" r="1.1" fill="#c62033"/>
<circle cx="439.04" cy="126.63" r="1.1" fill="#c62033"/>
<circle cx="444.33" cy="119.42" r="1.1" fill="#c62033"/>
<circle cx="446.73" cy="119.42" r="1.1" fill="#c62033"/>
<circle cx="449.13" cy="102.60" r="1.1" fill="#c62033"/>
<circle cx="451.06" cy="101.88" r="1.1" fill="#c62033"/>
<circle cx="452.02" cy="114.62" r="1.1" fill="#c62033"/>
<circle cx="456.35" cy="112.69" r="1.1" fill="#c62033"/>
<circle cx="457.55" cy="113.89" r="1.1" fill="#c62033"/>
<circle cx="452.74" cy="115.10" r="1.1" fill="#c62033"/>
<circle cx="465.96" cy="112.69" r="1.1" fill="#c62033"/>
<circle cx="467.88" cy="108.37" r="1.1" fill="#c62033"/>
<circle cx="470.77" cy="122.31" r="1.1" fill="#c62033"/>
<circle cx="471.97" cy="115.10" r="1.1" fill="#c62033"/>
<circle cx="468.37" cy="105.96" r="1.1" fill="#c62033"/>
<circle cx="470.29" cy="81.44" r="1.1" fill="#c62033"/>
<circle cx="471.97" cy="81.44" r="1.1" fill="#c62033"/>
<circle cx="405.38" cy="74.95" r="1.2" fill="#0e5485"/>
<circle cx="417.40" cy="68.22" r="1.2" fill="#0e5485"/>
<circle cx="420.77" cy="70.14" r="1.2" fill="#0e5485"/>
<circle cx="425.58" cy="75.91" r="1.2" fill="#0e5485"/>
<circle cx="421.97" cy="82.16" r="1.2" fill="#0e5485"/>
<circle cx="404.66" cy="88.17" r="1.2" fill="#0e5485"/>
<circle cx="420.29" cy="90.58" r="1.2" fill="#0e5485"/>
<circle cx="422.69" cy="97.07" r="1.2" fill="#0e5485"/>
<circle cx="421.97" cy="113.41" r="1.2" fill="#0e5485"/>
<circle cx="405.87" cy="115.10" r="1.2" fill="#0e5485"/>
<circle cx="452.74" cy="73.75" r="1.2" fill="#0e5485"/>
<circle cx="452.74" cy="82.64" r="1.2" fill="#0e5485"/>
<circle cx="456.35" cy="86.73" r="1.2" fill="#0e5485"/>
<circle cx="452.74" cy="100.19" r="1.2" fill="#0e5485"/>
<circle cx="437.12" cy="124.71" r="1.2" fill="#0e5485"/>
<circle cx="459.95" cy="121.59" r="1.2" fill="#0e5485"/>
<circle cx="469.57" cy="72.79" r="1.2" fill="#0e5485"/>
<circle cx="473.65" cy="70.87" r="1.2" fill="#0e5485"/>
<circle cx="473.65" cy="80.24" r="1.2" fill="#0e5485"/>
<circle cx="473.65" cy="88.65" r="1.2" fill="#0e5485"/>
<circle cx="473.80" cy="43.10" r="1.05" fill="#0e5485"/>
<circle cx="473.80" cy="62.80" r="1.0" fill="#c62033"/>
<text transform="translate(6.48 179.00) scale(1.087 1)" font-size="10.1" font-weight="bold" style="stroke-width:0.3px">D</text>
<text x="20.80" y="188.30" textLength="106.20" lengthAdjust="spacingAndGlyphs">ATL (<tspan font-style="italic">n</tspan> = 66), DLBCL (<tspan font-style="italic">n</tspan> = 481)</text>
<text x="145.40" y="188.30" textLength="88.60" lengthAdjust="spacingAndGlyphs">c-Rel ENSP00000377989</text>
<text x="29.00" y="203.00" textLength="17.30" lengthAdjust="spacingAndGlyphs">(a.a.)</text>
<line x1="53.60" y1="203.80" x2="228.90" y2="203.80" stroke="#231f20" stroke-width="1.0"/>
<line x1="53.60" y1="203.80" x2="53.60" y2="200.60" stroke="#231f20" stroke-width="1.0"/>
<text x="53.60" y="198.20" text-anchor="middle">0</text>
<line x1="83.46" y1="203.80" x2="83.46" y2="200.60" stroke="#231f20" stroke-width="1.0"/>
<text x="83.46" y="198.20" text-anchor="middle">100</text>
<line x1="113.33" y1="203.80" x2="113.33" y2="200.60" stroke="#231f20" stroke-width="1.0"/>
<text x="113.33" y="198.20" text-anchor="middle">200</text>
<line x1="143.19" y1="203.80" x2="143.19" y2="200.60" stroke="#231f20" stroke-width="1.0"/>
<text x="143.19" y="198.20" text-anchor="middle">300</text>
<line x1="173.05" y1="203.80" x2="173.05" y2="200.60" stroke="#231f20" stroke-width="1.0"/>
<text x="173.05" y="198.20" text-anchor="middle">400</text>
<line x1="202.92" y1="203.80" x2="202.92" y2="200.60" stroke="#231f20" stroke-width="1.0"/>
<text x="202.92" y="198.20" text-anchor="middle">500</text>
<line x1="228.90" y1="203.80" x2="228.90" y2="200.60" stroke="#231f20" stroke-width="1.0"/>
<text x="228.90" y="198.20" text-anchor="middle">587</text>
<rect x="53.60" y="211.20" width="2.60" height="12.90" fill="#fff"/>
<rect x="56.20" y="211.20" width="83.40" height="12.90" fill="#c62033"/>
<rect x="139.60" y="211.20" width="1.70" height="12.90" fill="#0e5485"/>
<rect x="141.30" y="211.20" width="2.90" height="12.90" fill="#c62033"/>
<rect x="144.20" y="211.20" width="6.10" height="12.90" fill="#fff"/>
<rect x="150.30" y="211.20" width="29.80" height="12.90" fill="#3db84b"/>
<rect x="180.10" y="211.20" width="19.60" height="12.90" fill="#5c286c"/>
<rect x="199.70" y="211.20" width="8.70" height="12.90" fill="#fff"/>
<rect x="208.40" y="211.20" width="20.50" height="12.90" fill="#5c286c"/>
<line x1="56.20" y1="211.20" x2="56.20" y2="224.10" stroke="#231f20" stroke-width="0.5"/>
<line x1="139.60" y1="211.20" x2="139.60" y2="224.10" stroke="#231f20" stroke-width="0.5"/>
<line x1="141.30" y1="211.20" x2="141.30" y2="224.10" stroke="#231f20" stroke-width="0.5"/>
<line x1="144.20" y1="211.20" x2="144.20" y2="224.10" stroke="#231f20" stroke-width="0.5"/>
<line x1="150.30" y1="211.20" x2="150.30" y2="224.10" stroke="#231f20" stroke-width="0.5"/>
<line x1="180.10" y1="211.20" x2="180.10" y2="224.10" stroke="#231f20" stroke-width="0.5"/>
<line x1="199.70" y1="211.20" x2="199.70" y2="224.10" stroke="#231f20" stroke-width="0.5"/>
<line x1="208.40" y1="211.20" x2="208.40" y2="224.10" stroke="#231f20" stroke-width="0.5"/>
<rect x="53.60" y="211.20" width="175.30" height="12.90" fill="none" stroke="#231f20" stroke-width="0.7"/>
<rect x="53.60" y="235.80" width="2.60" height="12.90" fill="#fff"/>
<rect x="56.20" y="235.80" width="82.30" height="12.90" fill="#c62033"/>
<rect x="138.50" y="235.80" width="2.00" height="12.90" fill="#f7941d"/>
<line x1="56.20" y1="235.80" x2="56.20" y2="248.70" stroke="#231f20" stroke-width="0.5"/>
<line x1="138.50" y1="235.80" x2="138.50" y2="248.70" stroke="#231f20" stroke-width="0.5"/>
<rect x="53.60" y="235.80" width="86.90" height="12.90" fill="none" stroke="#231f20" stroke-width="0.7"/>
<rect x="53.60" y="260.40" width="2.60" height="12.90" fill="#fff"/>
<rect x="56.20" y="260.40" width="84.00" height="12.90" fill="#c62033"/>
<rect x="140.20" y="260.40" width="1.70" height="12.90" fill="#0e5485"/>
<rect x="141.90" y="260.40" width="2.70" height="12.90" fill="#c62033"/>
<rect x="144.60" y="260.40" width="5.60" height="12.90" fill="#fff"/>
<rect x="150.20" y="260.40" width="1.50" height="12.90" fill="#3db84b"/>
<rect x="151.70" y="260.40" width="1.20" height="12.90" fill="#f7941d"/>
<line x1="56.20" y1="260.40" x2="56.20" y2="273.30" stroke="#231f20" stroke-width="0.5"/>
<line x1="140.20" y1="260.40" x2="140.20" y2="273.30" stroke="#231f20" stroke-width="0.5"/>
<line x1="141.90" y1="260.40" x2="141.90" y2="273.30" stroke="#231f20" stroke-width="0.5"/>
<line x1="144.60" y1="260.40" x2="144.60" y2="273.30" stroke="#231f20" stroke-width="0.5"/>
<line x1="150.20" y1="260.40" x2="150.20" y2="273.30" stroke="#231f20" stroke-width="0.5"/>
<line x1="151.70" y1="260.40" x2="151.70" y2="273.30" stroke="#231f20" stroke-width="0.5"/>
<rect x="53.60" y="260.40" width="99.30" height="12.90" fill="none" stroke="#231f20" stroke-width="0.7"/>
<rect x="53.60" y="286.80" width="2.60" height="12.90" fill="#fff"/>
<rect x="56.20" y="286.80" width="84.00" height="12.90" fill="#c62033"/>
<rect x="140.20" y="286.80" width="1.70" height="12.90" fill="#0e5485"/>
<rect x="141.90" y="286.80" width="2.70" height="12.90" fill="#c62033"/>
<rect x="144.60" y="286.80" width="5.60" height="12.90" fill="#fff"/>
<rect x="150.20" y="286.80" width="18.00" height="12.90" fill="#3db84b"/>
<line x1="56.20" y1="286.80" x2="56.20" y2="299.70" stroke="#231f20" stroke-width="0.5"/>
<line x1="140.20" y1="286.80" x2="140.20" y2="299.70" stroke="#231f20" stroke-width="0.5"/>
<line x1="141.90" y1="286.80" x2="141.90" y2="299.70" stroke="#231f20" stroke-width="0.5"/>
<line x1="144.60" y1="286.80" x2="144.60" y2="299.70" stroke="#231f20" stroke-width="0.5"/>
<line x1="150.20" y1="286.80" x2="150.20" y2="299.70" stroke="#231f20" stroke-width="0.5"/>
<rect x="53.60" y="286.80" width="114.60" height="12.90" fill="none" stroke="#231f20" stroke-width="0.7"/>
<text x="21.20" y="217.70" textLength="19.90" lengthAdjust="spacingAndGlyphs">Intact</text>
<text x="21.20" y="225.80" textLength="21.60" lengthAdjust="spacingAndGlyphs">(<tspan font-style="italic">n</tspan> = 5)</text>
<text x="21.20" y="242.10" textLength="12.60" lengthAdjust="spacingAndGlyphs">Ex7</text>
<text x="21.20" y="250.20" textLength="27.40" lengthAdjust="spacingAndGlyphs">(<tspan font-style="italic">n</tspan> = 17)</text>
<text x="21.20" y="266.70" textLength="12.60" lengthAdjust="spacingAndGlyphs">Ex9</text>
<text x="21.20" y="274.80" textLength="23.00" lengthAdjust="spacingAndGlyphs">(<tspan font-style="italic">n</tspan> = 1)</text>
<text x="21.20" y="291.70" textLength="18.00" lengthAdjust="spacingAndGlyphs">Ex10</text>
<text x="21.20" y="299.80" textLength="23.00" lengthAdjust="spacingAndGlyphs">(<tspan font-style="italic">n</tspan> = 7)</text>
<rect x="178.90" y="234.35" width="4.80" height="4.80" fill="#c62033" stroke="#231f20" stroke-width="0.5"/>
<text x="187.50" y="239.35" textLength="73.00" lengthAdjust="spacingAndGlyphs">Rel homology domain</text>
<rect x="178.90" y="244.85" width="4.80" height="4.80" fill="#0e5485" stroke="#231f20" stroke-width="0.5"/>
<text x="187.50" y="249.85" textLength="86.30" lengthAdjust="spacingAndGlyphs">Nuclear localization signal</text>
<rect x="178.90" y="255.35" width="4.80" height="4.80" fill="#3db84b" stroke="#231f20" stroke-width="0.5"/>
<text x="187.50" y="260.35" textLength="70.50" lengthAdjust="spacingAndGlyphs">Rel inhibitory domain</text>
<rect x="178.90" y="265.85" width="4.80" height="4.80" fill="#5c286c" stroke="#231f20" stroke-width="0.5"/>
<text x="187.50" y="270.85" textLength="77.00" lengthAdjust="spacingAndGlyphs">Transactivation domain</text>
<rect x="178.90" y="276.35" width="4.80" height="4.80" fill="#f7941d" stroke="#231f20" stroke-width="0.5"/>
<text x="187.50" y="281.35" textLength="58.50" lengthAdjust="spacingAndGlyphs">Ectopic sequence</text>
<text transform="translate(326.70 179.00) scale(0.919 1)" font-size="10.1" font-weight="bold" style="stroke-width:0.3px">E</text>
<text x="384.20" y="181.30" text-anchor="middle" textLength="9.20" lengthAdjust="spacingAndGlyphs">(8)</text>
<text x="411.00" y="181.30" text-anchor="middle" textLength="14.00" lengthAdjust="spacingAndGlyphs">(22)</text>
<line x1="370.90" y1="185.60" x2="370.90" y2="298.80" stroke="#231f20" stroke-width="1.0"/>
<line x1="367.70" y1="298.30" x2="370.90" y2="298.30" stroke="#231f20" stroke-width="1.0"/>
<text x="364.60" y="301.00" font-size="7.8" text-anchor="end">0</text>
<line x1="367.70" y1="270.25" x2="370.90" y2="270.25" stroke="#231f20" stroke-width="1.0"/>
<text x="364.60" y="272.95" font-size="7.8" text-anchor="end">0.25</text>
<line x1="367.70" y1="242.20" x2="370.90" y2="242.20" stroke="#231f20" stroke-width="1.0"/>
<text x="364.60" y="244.90" font-size="7.8" text-anchor="end">0.50</text>
<line x1="367.70" y1="214.15" x2="370.90" y2="214.15" stroke="#231f20" stroke-width="1.0"/>
<text x="364.60" y="216.85" font-size="7.8" text-anchor="end">0.75</text>
<line x1="367.70" y1="186.10" x2="370.90" y2="186.10" stroke="#231f20" stroke-width="1.0"/>
<text x="364.60" y="188.80" font-size="7.8" text-anchor="end">1</text>
<line x1="370.40" y1="298.30" x2="427.00" y2="298.30" stroke="#231f20" stroke-width="1.0"/>
<rect x="374.60" y="186.10" width="22.70" height="13.90" fill="#c62033"/>
<rect x="374.60" y="200.00" width="22.70" height="98.30" fill="#5c286c"/>
<rect x="400.00" y="186.10" width="23.20" height="20.10" fill="#c62033"/>
<rect x="400.00" y="206.20" width="23.20" height="35.60" fill="#0e5485"/>
<rect x="400.00" y="241.80" width="23.20" height="5.30" fill="#3db84b"/>
<rect x="400.00" y="247.10" width="23.20" height="51.20" fill="#5c286c"/>
<text x="386.20" y="309.20" text-anchor="middle" textLength="13.90" lengthAdjust="spacingAndGlyphs">ATL</text>
<text x="411.80" y="309.20" text-anchor="middle" textLength="24.50" lengthAdjust="spacingAndGlyphs">DLBCL</text>
<rect x="437.80" y="231.15" width="3.50" height="3.50" fill="#c62033"/>
<text x="445.00" y="235.50" textLength="18.50" lengthAdjust="spacingAndGlyphs">Intact</text>
<rect x="437.80" y="238.70" width="3.50" height="3.50" fill="#0e5485"/>
<text x="445.00" y="243.05" textLength="16.00" lengthAdjust="spacingAndGlyphs">Ex10</text>
<rect x="437.80" y="246.25" width="3.50" height="3.50" fill="#3db84b"/>
<text x="445.00" y="250.60" textLength="12.50" lengthAdjust="spacingAndGlyphs">Ex9</text>
<rect x="437.80" y="253.80" width="3.50" height="3.50" fill="#5c286c"/>
<text x="445.00" y="258.15" textLength="12.50" lengthAdjust="spacingAndGlyphs">Ex7</text>
<text x="331.40" y="241.60" font-size="8.6" text-anchor="middle" textLength="66.00" lengthAdjust="spacingAndGlyphs" transform="rotate(-90 331.40 241.60)">Fraction of positions</text>
<text x="342.50" y="240.60" font-size="8.6" text-anchor="middle" textLength="62.00" lengthAdjust="spacingAndGlyphs" transform="rotate(-90 342.50 240.60)">at c-Rel truncation</text>
<text transform="translate(6.59 326.70) scale(0.931 1)" font-size="10.1" font-weight="bold" style="stroke-width:0.3px">F</text>
<line x1="53.60" y1="332.80" x2="53.60" y2="445.70" stroke="#231f20" stroke-width="1.0"/>
<line x1="50.40" y1="445.20" x2="53.60" y2="445.20" stroke="#231f20" stroke-width="1.0"/>
<text x="47.80" y="447.90" font-size="7.8" text-anchor="end">0</text>
<line x1="50.40" y1="407.83" x2="53.60" y2="407.83" stroke="#231f20" stroke-width="1.0"/>
<text x="47.80" y="410.53" font-size="7.8" text-anchor="end">10</text>
<line x1="50.40" y1="370.46" x2="53.60" y2="370.46" stroke="#231f20" stroke-width="1.0"/>
<text x="47.80" y="373.16" font-size="7.8" text-anchor="end">20</text>
<line x1="50.40" y1="333.09" x2="53.60" y2="333.09" stroke="#231f20" stroke-width="1.0"/>
<text x="47.80" y="335.79" font-size="7.8" text-anchor="end">30</text>
<line x1="53.10" y1="445.20" x2="240.50" y2="445.20" stroke="#231f20" stroke-width="1.0"/>
<rect x="56.60" y="441.50" width="15.90" height="3.30" fill="#fff" stroke="#c62033" stroke-width="0.8"/>
<rect x="75.00" y="429.00" width="15.90" height="16.20" fill="#c62033"/>
<rect x="93.00" y="416.80" width="16.40" height="28.40" fill="#c62033"/>
<rect x="111.60" y="376.80" width="16.30" height="68.40" fill="#c62033"/>
<rect x="130.20" y="442.30" width="15.60" height="2.90" fill="#0e5485"/>
<rect x="148.50" y="441.00" width="16.20" height="4.20" fill="#0e5485"/>
<rect x="166.80" y="443.70" width="15.90" height="1.50" fill="#0e5485"/>
<rect x="184.90" y="389.30" width="16.10" height="55.90" fill="#0e5485"/>
<rect x="203.40" y="393.90" width="16.20" height="51.30" fill="#0e5485"/>
<rect x="221.70" y="424.80" width="16.20" height="20.40" fill="#0e5485"/>
<line x1="83.10" y1="411.70" x2="83.10" y2="429.00" stroke="#231f20" stroke-width="0.6"/>
<line x1="78.60" y1="411.70" x2="87.60" y2="411.70" stroke="#231f20" stroke-width="0.6"/>
<line x1="101.40" y1="391.80" x2="101.40" y2="416.80" stroke="#231f20" stroke-width="0.6"/>
<line x1="96.90" y1="391.80" x2="105.90" y2="391.80" stroke="#231f20" stroke-width="0.6"/>
<line x1="119.80" y1="345.60" x2="119.80" y2="376.80" stroke="#231f20" stroke-width="0.6"/>
<line x1="115.30" y1="345.60" x2="124.30" y2="345.60" stroke="#231f20" stroke-width="0.6"/>
<line x1="138.00" y1="441.50" x2="138.00" y2="442.30" stroke="#231f20" stroke-width="0.6"/>
<line x1="133.50" y1="441.50" x2="142.50" y2="441.50" stroke="#231f20" stroke-width="0.6"/>
<line x1="156.60" y1="434.20" x2="156.60" y2="441.00" stroke="#231f20" stroke-width="0.6"/>
<line x1="152.10" y1="434.20" x2="161.10" y2="434.20" stroke="#231f20" stroke-width="0.6"/>
<line x1="174.80" y1="441.80" x2="174.80" y2="443.70" stroke="#231f20" stroke-width="0.6"/>
<line x1="170.30" y1="441.80" x2="179.30" y2="441.80" stroke="#231f20" stroke-width="0.6"/>
<line x1="193.00" y1="359.40" x2="193.00" y2="389.30" stroke="#231f20" stroke-width="0.6"/>
<line x1="188.50" y1="359.40" x2="197.50" y2="359.40" stroke="#231f20" stroke-width="0.6"/>
<line x1="211.50" y1="367.50" x2="211.50" y2="393.90" stroke="#231f20" stroke-width="0.6"/>
<line x1="207.00" y1="367.50" x2="216.00" y2="367.50" stroke="#231f20" stroke-width="0.6"/>
<line x1="229.80" y1="408.10" x2="229.80" y2="424.80" stroke="#231f20" stroke-width="0.6"/>
<line x1="225.30" y1="408.10" x2="234.30" y2="408.10" stroke="#231f20" stroke-width="0.6"/>
<circle cx="64.60" cy="441.50" r="1.1" fill="#000"/>
<circle cx="83.20" cy="393.30" r="1.1" fill="#000"/>
<circle cx="83.20" cy="421.40" r="1.1" fill="#000"/>
<circle cx="83.20" cy="433.70" r="1.1" fill="#000"/>
<circle cx="83.20" cy="437.00" r="1.1" fill="#000"/>
<circle cx="83.20" cy="440.10" r="1.1" fill="#000"/>
<circle cx="101.60" cy="376.80" r="1.1" fill="#000"/>
<circle cx="101.60" cy="390.20" r="1.1" fill="#000"/>
<circle cx="101.60" cy="414.80" r="1.1" fill="#000"/>
<circle cx="101.60" cy="422.70" r="1.1" fill="#000"/>
<circle cx="101.60" cy="429.10" r="1.1" fill="#000"/>
<circle cx="101.60" cy="441.00" r="1.1" fill="#000"/>
<circle cx="119.50" cy="337.30" r="1.1" fill="#000"/>
<circle cx="119.50" cy="361.60" r="1.1" fill="#000"/>
<circle cx="119.50" cy="365.20" r="1.1" fill="#000"/>
<circle cx="119.50" cy="404.30" r="1.1" fill="#000"/>
<circle cx="119.50" cy="410.20" r="1.1" fill="#000"/>
<circle cx="138.00" cy="442.50" r="1.1" fill="#000"/>
<circle cx="156.30" cy="426.20" r="1.1" fill="#000"/>
<circle cx="156.30" cy="442.30" r="1.1" fill="#000"/>
<circle cx="174.60" cy="439.60" r="1.1" fill="#000"/>
<circle cx="174.60" cy="442.50" r="1.1" fill="#000"/>
<circle cx="193.50" cy="357.00" r="1.1" fill="#000"/>
<circle cx="193.50" cy="360.70" r="1.1" fill="#000"/>
<circle cx="193.50" cy="371.00" r="1.1" fill="#000"/>
<circle cx="193.50" cy="402.50" r="1.1" fill="#000"/>
<circle cx="193.50" cy="420.20" r="1.1" fill="#000"/>
<circle cx="193.50" cy="423.00" r="1.1" fill="#000"/>
<circle cx="211.50" cy="364.20" r="1.1" fill="#000"/>
<circle cx="211.50" cy="373.70" r="1.1" fill="#000"/>
<circle cx="211.50" cy="377.20" r="1.1" fill="#000"/>
<circle cx="211.50" cy="401.10" r="1.1" fill="#000"/>
<circle cx="211.50" cy="422.10" r="1.1" fill="#000"/>
<circle cx="211.50" cy="425.40" r="1.1" fill="#000"/>
<circle cx="230.40" cy="398.70" r="1.1" fill="#000"/>
<circle cx="230.40" cy="416.20" r="1.1" fill="#000"/>
<circle cx="230.40" cy="420.20" r="1.1" fill="#000"/>
<circle cx="230.40" cy="431.50" r="1.1" fill="#000"/>
<circle cx="230.40" cy="438.30" r="1.1" fill="#000"/>
<circle cx="230.40" cy="442.30" r="1.1" fill="#000"/>
<text x="85.00" y="325.00" textLength="31.25" lengthAdjust="spacingAndGlyphs">vs. Mock</text>
<text x="77.50" y="331.60" textLength="12.50" lengthAdjust="spacingAndGlyphs"><tspan font-style="italic">n.s.</tspan></text>
<path d="M96.40 328.45L96.40 330.95M97.48 329.07L95.32 330.32M97.48 330.32L95.32 329.07" stroke="#231f20" stroke-width="0.55" fill="none"/>
<path d="M120.00 328.45L120.00 330.95M121.08 329.07L118.92 330.32M121.08 330.32L118.92 329.07" stroke="#231f20" stroke-width="0.55" fill="none"/>
<line x1="78.80" y1="333.10" x2="122.60" y2="333.10" stroke="#231f20" stroke-width="0.6" stroke-dasharray="0.5 0.75"/>
<text x="139.60" y="400.40" textLength="31.50" lengthAdjust="spacingAndGlyphs">vs. Mock</text>
<path d="M138.30 405.25L138.30 407.75M139.38 405.88L137.22 407.12M139.38 407.12L137.22 405.88" stroke="#231f20" stroke-width="0.55" fill="none"/>
<text x="149.80" y="407.60" textLength="12.70" lengthAdjust="spacingAndGlyphs"><tspan font-style="italic">n.s.</tspan></text>
<path d="M175.20 405.25L175.20 407.75M176.28 405.88L174.12 407.12M176.28 407.12L174.12 405.88" stroke="#231f20" stroke-width="0.55" fill="none"/>
<line x1="131.50" y1="409.20" x2="179.50" y2="409.20" stroke="#231f20" stroke-width="0.6" stroke-dasharray="0.5 0.75"/>
<text x="188.00" y="323.70" textLength="44.50" lengthAdjust="spacingAndGlyphs">vs. WT (10<tspan dy="-2.9" font-size="4.4">3</tspan><tspan dy="2.9">)</tspan></text>
<text x="188.00" y="331.50" textLength="12.20" lengthAdjust="spacingAndGlyphs"><tspan font-style="italic">n.s.</tspan></text>
<text x="205.60" y="331.50" textLength="12.10" lengthAdjust="spacingAndGlyphs"><tspan font-style="italic">n.s.</tspan></text>
<path d="M229.80 328.25L229.80 330.75M230.88 328.88L228.72 330.12M230.88 330.12L228.72 328.88" stroke="#231f20" stroke-width="0.55" fill="none"/>
<line x1="187.50" y1="333.00" x2="233.90" y2="333.00" stroke="#231f20" stroke-width="0.6" stroke-dasharray="0.5 0.75"/>
<text x="58.10" y="354.40" textLength="32.50" lengthAdjust="spacingAndGlyphs">HEK293T</text>
<text x="58.10" y="364.20" textLength="26.30" lengthAdjust="spacingAndGlyphs"><tspan font-style="italic">n</tspan> = 6–7</text>
<text x="58.10" y="374.60" textLength="35.50" lengthAdjust="spacingAndGlyphs">* <tspan font-style="italic">p</tspan> &lt; 0.05</text>
<text x="30.60" y="388.50" font-size="9" text-anchor="middle" textLength="94.00" lengthAdjust="spacingAndGlyphs" transform="rotate(-90 30.60 388.50)">NF–κB activity (arbitary unit)</text>
<text x="52.30" y="455.50" text-anchor="end">Mock</text>
<text x="52.30" y="466.20" text-anchor="end">c-Rel WT</text>
<text x="52.30" y="475.50" text-anchor="end">c-Rel Ex7–1</text>
<text x="64.60" y="455.50" text-anchor="middle">+</text>
<text x="64.60" y="466.20" text-anchor="middle">–</text>
<text x="64.60" y="475.50" text-anchor="middle">–</text>
<text x="83.10" y="455.50" text-anchor="middle">–</text>
<text x="83.10" y="466.20" text-anchor="middle">10</text>
<text x="83.10" y="475.50" text-anchor="middle">–</text>
<text x="101.40" y="455.50" text-anchor="middle">–</text>
<text x="101.40" y="466.20" text-anchor="middle">10<tspan dy="-2.9" font-size="4.4">2</tspan></text>
<text x="101.40" y="475.50" text-anchor="middle">–</text>
<text x="119.80" y="455.50" text-anchor="middle">–</text>
<text x="119.80" y="466.20" text-anchor="middle">10<tspan dy="-2.9" font-size="4.4">3</tspan></text>
<text x="119.80" y="475.50" text-anchor="middle">–</text>
<text x="138.00" y="455.50" text-anchor="middle">–</text>
<text x="138.00" y="466.20" text-anchor="middle">–</text>
<text x="138.00" y="475.50" text-anchor="middle">10</text>
<text x="156.60" y="455.50" text-anchor="middle">–</text>
<text x="156.60" y="466.20" text-anchor="middle">–</text>
<text x="156.60" y="475.50" text-anchor="middle">10<tspan dy="-2.9" font-size="4.4">2</tspan></text>
<text x="174.80" y="455.50" text-anchor="middle">–</text>
<text x="174.80" y="466.20" text-anchor="middle">–</text>
<text x="174.80" y="475.50" text-anchor="middle">10<tspan dy="-2.9" font-size="4.4">3</tspan></text>
<text x="193.00" y="455.50" text-anchor="middle">–</text>
<text x="193.00" y="466.20" text-anchor="middle">10<tspan dy="-2.9" font-size="4.4">3</tspan></text>
<text x="193.00" y="475.50" text-anchor="middle">10</text>
<text x="211.50" y="455.50" text-anchor="middle">–</text>
<text x="211.50" y="466.20" text-anchor="middle">10<tspan dy="-2.9" font-size="4.4">3</tspan></text>
<text x="211.50" y="475.50" text-anchor="middle">10<tspan dy="-2.9" font-size="4.4">2</tspan></text>
<text x="229.80" y="455.50" text-anchor="middle">–</text>
<text x="229.80" y="466.20" text-anchor="middle">10<tspan dy="-2.9" font-size="4.4">3</tspan></text>
<text x="229.80" y="475.50" text-anchor="middle">10<tspan dy="-2.9" font-size="4.4">3</tspan></text>
<text x="239.00" y="466.20">ng</text>
<text x="239.00" y="475.50">ng</text>
<text transform="translate(326.34 326.80) scale(1.005 1)" font-size="10.1" font-weight="bold" style="stroke-width:0.3px">G</text>
<line x1="370.80" y1="333.00" x2="370.80" y2="445.90" stroke="#231f20" stroke-width="1.0"/>
<line x1="367.60" y1="445.40" x2="370.80" y2="445.40" stroke="#231f20" stroke-width="1.0"/>
<text x="365.80" y="448.10" font-size="7.8" text-anchor="end">0</text>
<line x1="367.60" y1="408.03" x2="370.80" y2="408.03" stroke="#231f20" stroke-width="1.0"/>
<text x="365.80" y="410.73" font-size="7.8" text-anchor="end">1</text>
<line x1="367.60" y1="370.66" x2="370.80" y2="370.66" stroke="#231f20" stroke-width="1.0"/>
<text x="365.80" y="373.36" font-size="7.8" text-anchor="end">2</text>
<line x1="367.60" y1="333.29" x2="370.80" y2="333.29" stroke="#231f20" stroke-width="1.0"/>
<text x="365.80" y="335.99" font-size="7.8" text-anchor="end">3</text>
<line x1="370.30" y1="445.40" x2="444.50" y2="445.40" stroke="#231f20" stroke-width="1.0"/>
<rect x="374.20" y="407.70" width="21.00" height="37.30" fill="#fff" stroke="#c62033" stroke-width="0.8"/>
<rect x="397.80" y="412.50" width="21.20" height="32.90" fill="#c62033"/>
<rect x="421.30" y="377.10" width="20.90" height="68.30" fill="#0e5485"/>
<line x1="408.40" y1="404.00" x2="408.40" y2="412.50" stroke="#231f20" stroke-width="0.6"/>
<line x1="402.80" y1="404.00" x2="414.00" y2="404.00" stroke="#231f20" stroke-width="0.6"/>
<line x1="431.75" y1="363.00" x2="431.75" y2="377.10" stroke="#231f20" stroke-width="0.6"/>
<line x1="426.30" y1="363.10" x2="437.40" y2="363.10" stroke="#231f20" stroke-width="0.6"/>
<circle cx="381.00" cy="407.50" r="1.1" fill="#000"/>
<circle cx="382.50" cy="407.50" r="1.1" fill="#000"/>
<circle cx="384.00" cy="407.50" r="1.1" fill="#000"/>
<circle cx="385.50" cy="407.50" r="1.1" fill="#000"/>
<circle cx="387.00" cy="407.50" r="1.1" fill="#000"/>
<circle cx="388.50" cy="407.50" r="1.1" fill="#000"/>
<circle cx="410.00" cy="400.10" r="1.1" fill="#000"/>
<circle cx="407.60" cy="405.20" r="1.1" fill="#000"/>
<circle cx="408.20" cy="411.70" r="1.1" fill="#000"/>
<circle cx="405.80" cy="416.20" r="1.1" fill="#000"/>
<circle cx="410.70" cy="415.70" r="1.1" fill="#000"/>
<circle cx="408.20" cy="424.90" r="1.1" fill="#000"/>
<circle cx="433.10" cy="360.00" r="1.1" fill="#000"/>
<circle cx="430.80" cy="367.70" r="1.1" fill="#000"/>
<circle cx="432.30" cy="370.30" r="1.1" fill="#000"/>
<circle cx="428.20" cy="373.80" r="1.1" fill="#000"/>
<circle cx="433.50" cy="375.40" r="1.1" fill="#000"/>
<circle cx="429.80" cy="395.00" r="1.1" fill="#000"/>
<circle cx="431.20" cy="397.80" r="1.1" fill="#000"/>
<text x="388.70" y="338.60" textLength="38.80" lengthAdjust="spacingAndGlyphs"><tspan font-style="italic">p</tspan> = 0.0012</text>
<line x1="384.20" y1="341.50" x2="431.30" y2="341.50" stroke="#231f20" stroke-width="0.8"/>
<text x="397.80" y="352.80" textLength="43.80" lengthAdjust="spacingAndGlyphs"><tspan font-style="italic">p</tspan> = 2.0×10<tspan dy="-2.9" font-size="4.4">−4</tspan></text>
<line x1="407.20" y1="354.60" x2="431.30" y2="354.60" stroke="#231f20" stroke-width="0.8"/>
<text x="381.70" y="365.00" textLength="29.30" lengthAdjust="spacingAndGlyphs"><tspan font-style="italic">p</tspan> = 0.20</text>
<line x1="384.20" y1="366.90" x2="407.80" y2="366.90" stroke="#231f20" stroke-width="0.8"/>
<text x="374.60" y="382.50" textLength="31.70" lengthAdjust="spacingAndGlyphs">HEK293T</text>
<text x="374.60" y="389.50"><tspan font-style="italic">n</tspan> = 7</text>
<text x="351.40" y="388.90" font-size="9" text-anchor="middle" textLength="95.90" lengthAdjust="spacingAndGlyphs" transform="rotate(-90 351.40 388.90)">NF–κB activity (arbitary unit)</text>
<text x="358.20" y="455.20" text-anchor="end">RelA</text>
<text x="358.20" y="463.90" text-anchor="end">c-Rel WT</text>
<text x="358.20" y="474.40" text-anchor="end">c-Rel Ex7–1</text>
<text x="385.00" y="455.20" text-anchor="middle">10</text>
<text x="385.00" y="463.90" text-anchor="middle">–</text>
<text x="385.00" y="474.40" text-anchor="middle">–</text>
<text x="408.50" y="455.20" text-anchor="middle">10</text>
<text x="408.50" y="463.90" text-anchor="middle">10<tspan dy="-2.9" font-size="4.4">3</tspan></text>
<text x="408.50" y="474.40" text-anchor="middle">–</text>
<text x="432.30" y="455.20" text-anchor="middle">10</text>
<text x="432.30" y="463.90" text-anchor="middle">–</text>
<text x="432.30" y="474.40" text-anchor="middle">10<tspan dy="-2.9" font-size="4.4">3</tspan></text>
<text x="443.00" y="455.20">ng</text>
<text x="443.00" y="463.90">ng</text>
<text x="443.00" y="474.40">ng</text>
<text transform="translate(6.49 502.80) scale(1.075 1)" font-size="10.1" font-weight="bold" style="stroke-width:0.3px">H</text>
<text x="65.00" y="505.90" textLength="18.00" lengthAdjust="spacingAndGlyphs">(122)</text>
<text x="86.50" y="505.90" textLength="13.90" lengthAdjust="spacingAndGlyphs">(16)</text>
<text x="118.40" y="505.90" textLength="13.80" lengthAdjust="spacingAndGlyphs">(94)</text>
<text x="140.20" y="505.90" textLength="8.60" lengthAdjust="spacingAndGlyphs">(6)</text>
<line x1="53.60" y1="510.00" x2="53.60" y2="622.70" stroke="#231f20" stroke-width="1.0"/>
<line x1="50.40" y1="622.20" x2="53.60" y2="622.20" stroke="#231f20" stroke-width="1.0"/>
<text x="47.20" y="624.90" font-size="7.8" text-anchor="end">11</text>
<line x1="50.40" y1="595.48" x2="53.60" y2="595.48" stroke="#231f20" stroke-width="1.0"/>
<text x="47.20" y="598.18" font-size="7.8" text-anchor="end">13</text>
<line x1="50.40" y1="568.76" x2="53.60" y2="568.76" stroke="#231f20" stroke-width="1.0"/>
<text x="47.20" y="571.46" font-size="7.8" text-anchor="end">15</text>
<line x1="50.40" y1="542.04" x2="53.60" y2="542.04" stroke="#231f20" stroke-width="1.0"/>
<text x="47.20" y="544.74" font-size="7.8" text-anchor="end">17</text>
<line x1="50.40" y1="515.32" x2="53.60" y2="515.32" stroke="#231f20" stroke-width="1.0"/>
<text x="47.20" y="518.02" font-size="7.8" text-anchor="end">19</text>
<line x1="53.10" y1="622.20" x2="161.00" y2="622.20" stroke="#231f20" stroke-width="1.0"/>
<line x1="84.00" y1="622.20" x2="84.00" y2="624.70" stroke="#231f20" stroke-width="1.0"/>
<line x1="135.50" y1="622.20" x2="135.50" y2="624.70" stroke="#231f20" stroke-width="1.0"/>
<rect x="65.50" y="544.40" width="17.90" height="21.50" fill="none" stroke="#c62033" stroke-width="0.8"/>
<line x1="65.50" y1="554.50" x2="83.40" y2="554.50" stroke="#c62033" stroke-width="0.8"/>
<line x1="74.45" y1="514.50" x2="74.45" y2="544.40" stroke="#c62033" stroke-width="0.8"/>
<line x1="74.45" y1="565.90" x2="74.45" y2="599.50" stroke="#c62033" stroke-width="0.8"/>
<rect x="84.90" y="543.20" width="18.20" height="13.50" fill="none" stroke="#0e5485" stroke-width="0.8"/>
<line x1="84.90" y1="549.00" x2="103.10" y2="549.00" stroke="#0e5485" stroke-width="0.8"/>
<line x1="94.00" y1="528.30" x2="94.00" y2="543.20" stroke="#0e5485" stroke-width="0.8"/>
<line x1="94.00" y1="556.70" x2="94.00" y2="563.30" stroke="#0e5485" stroke-width="0.8"/>
<rect x="116.60" y="538.60" width="18.40" height="16.90" fill="none" stroke="#c62033" stroke-width="0.8"/>
<line x1="116.60" y1="545.70" x2="135.00" y2="545.70" stroke="#c62033" stroke-width="0.8"/>
<line x1="125.80" y1="516.00" x2="125.80" y2="538.60" stroke="#c62033" stroke-width="0.8"/>
<line x1="125.80" y1="555.50" x2="125.80" y2="575.60" stroke="#c62033" stroke-width="0.8"/>
<rect x="135.90" y="523.30" width="17.60" height="15.70" fill="none" stroke="#0e5485" stroke-width="0.8"/>
<line x1="135.90" y1="526.10" x2="153.50" y2="526.10" stroke="#0e5485" stroke-width="0.8"/>
<line x1="144.70" y1="517.50" x2="144.70" y2="523.30" stroke="#0e5485" stroke-width="0.8"/>
<line x1="144.70" y1="539.00" x2="144.70" y2="556.90" stroke="#0e5485" stroke-width="0.8"/>
<circle cx="78.03" cy="542.90" r="1.2" fill="#c62033"/>
<circle cx="74.69" cy="549.45" r="1.2" fill="#c62033"/>
<circle cx="80.26" cy="551.62" r="1.2" fill="#c62033"/>
<circle cx="70.83" cy="567.27" r="1.2" fill="#c62033"/>
<circle cx="71.38" cy="554.28" r="1.2" fill="#c62033"/>
<circle cx="71.07" cy="551.80" r="1.2" fill="#c62033"/>
<circle cx="77.50" cy="552.07" r="1.2" fill="#c62033"/>
<circle cx="72.22" cy="528.96" r="1.2" fill="#c62033"/>
<circle cx="71.11" cy="559.51" r="1.2" fill="#c62033"/>
<circle cx="79.54" cy="546.90" r="1.2" fill="#c62033"/>
<circle cx="76.48" cy="542.53" r="1.2" fill="#c62033"/>
<circle cx="80.44" cy="541.75" r="1.2" fill="#c62033"/>
<circle cx="76.89" cy="534.22" r="1.2" fill="#c62033"/>
<circle cx="78.90" cy="556.65" r="1.2" fill="#c62033"/>
<circle cx="75.29" cy="538.17" r="1.2" fill="#c62033"/>
<circle cx="71.98" cy="559.17" r="1.2" fill="#c62033"/>
<circle cx="69.08" cy="556.30" r="1.2" fill="#c62033"/>
<circle cx="79.58" cy="566.56" r="1.2" fill="#c62033"/>
<circle cx="69.44" cy="554.44" r="1.2" fill="#c62033"/>
<circle cx="79.80" cy="554.84" r="1.2" fill="#c62033"/>
<circle cx="68.46" cy="549.89" r="1.2" fill="#c62033"/>
<circle cx="68.62" cy="557.58" r="1.2" fill="#c62033"/>
<circle cx="76.88" cy="548.00" r="1.2" fill="#c62033"/>
<circle cx="77.38" cy="539.74" r="1.2" fill="#c62033"/>
<circle cx="72.68" cy="565.24" r="1.2" fill="#c62033"/>
<circle cx="78.40" cy="558.37" r="1.2" fill="#c62033"/>
<circle cx="68.93" cy="561.92" r="1.2" fill="#c62033"/>
<circle cx="79.03" cy="533.91" r="1.2" fill="#c62033"/>
<circle cx="69.45" cy="573.64" r="1.2" fill="#c62033"/>
<circle cx="70.69" cy="540.69" r="1.2" fill="#c62033"/>
<circle cx="78.78" cy="555.02" r="1.2" fill="#c62033"/>
<circle cx="78.33" cy="554.71" r="1.2" fill="#c62033"/>
<circle cx="76.06" cy="540.58" r="1.2" fill="#c62033"/>
<circle cx="71.72" cy="539.06" r="1.2" fill="#c62033"/>
<circle cx="77.64" cy="556.67" r="1.2" fill="#c62033"/>
<circle cx="70.68" cy="555.66" r="1.2" fill="#c62033"/>
<circle cx="68.36" cy="548.58" r="1.2" fill="#c62033"/>
<circle cx="71.33" cy="562.52" r="1.2" fill="#c62033"/>
<circle cx="72.74" cy="549.77" r="1.2" fill="#c62033"/>
<circle cx="72.14" cy="568.53" r="1.2" fill="#c62033"/>
<circle cx="78.83" cy="564.54" r="1.2" fill="#c62033"/>
<circle cx="75.89" cy="550.35" r="1.2" fill="#c62033"/>
<circle cx="73.60" cy="563.13" r="1.2" fill="#c62033"/>
<circle cx="77.84" cy="555.00" r="1.2" fill="#c62033"/>
<circle cx="74.88" cy="544.08" r="1.2" fill="#c62033"/>
<circle cx="70.83" cy="565.82" r="1.2" fill="#c62033"/>
<circle cx="78.43" cy="555.83" r="1.2" fill="#c62033"/>
<circle cx="70.25" cy="549.68" r="1.2" fill="#c62033"/>
<circle cx="77.70" cy="559.72" r="1.2" fill="#c62033"/>
<circle cx="80.42" cy="553.05" r="1.2" fill="#c62033"/>
<circle cx="74.29" cy="564.61" r="1.2" fill="#c62033"/>
<circle cx="78.14" cy="553.32" r="1.2" fill="#c62033"/>
<circle cx="72.47" cy="557.67" r="1.2" fill="#c62033"/>
<circle cx="78.58" cy="563.71" r="1.2" fill="#c62033"/>
<circle cx="71.67" cy="551.41" r="1.2" fill="#c62033"/>
<circle cx="70.81" cy="575.00" r="1.2" fill="#c62033"/>
<circle cx="69.49" cy="549.33" r="1.2" fill="#c62033"/>
<circle cx="76.12" cy="541.84" r="1.2" fill="#c62033"/>
<circle cx="76.88" cy="568.39" r="1.2" fill="#c62033"/>
<circle cx="78.02" cy="561.57" r="1.2" fill="#c62033"/>
<circle cx="73.16" cy="546.49" r="1.2" fill="#c62033"/>
<circle cx="73.07" cy="546.25" r="1.2" fill="#c62033"/>
<circle cx="79.29" cy="556.28" r="1.2" fill="#c62033"/>
<circle cx="68.42" cy="550.30" r="1.2" fill="#c62033"/>
<circle cx="79.46" cy="555.13" r="1.2" fill="#c62033"/>
<circle cx="74.41" cy="560.52" r="1.2" fill="#c62033"/>
<circle cx="71.04" cy="537.93" r="1.2" fill="#c62033"/>
<circle cx="73.91" cy="567.27" r="1.2" fill="#c62033"/>
<circle cx="77.59" cy="536.57" r="1.2" fill="#c62033"/>
<circle cx="76.24" cy="549.70" r="1.2" fill="#c62033"/>
<circle cx="70.06" cy="547.84" r="1.2" fill="#c62033"/>
<circle cx="78.72" cy="560.24" r="1.2" fill="#c62033"/>
<circle cx="70.24" cy="544.36" r="1.2" fill="#c62033"/>
<circle cx="73.63" cy="538.99" r="1.2" fill="#c62033"/>
<circle cx="69.69" cy="554.93" r="1.2" fill="#c62033"/>
<circle cx="73.92" cy="539.99" r="1.2" fill="#c62033"/>
<circle cx="70.51" cy="558.53" r="1.2" fill="#c62033"/>
<circle cx="71.90" cy="548.13" r="1.2" fill="#c62033"/>
<circle cx="70.05" cy="547.41" r="1.2" fill="#c62033"/>
<circle cx="70.07" cy="534.56" r="1.2" fill="#c62033"/>
<circle cx="74.68" cy="553.14" r="1.2" fill="#c62033"/>
<circle cx="70.13" cy="561.89" r="1.2" fill="#c62033"/>
<circle cx="80.39" cy="549.95" r="1.2" fill="#c62033"/>
<circle cx="77.28" cy="558.71" r="1.2" fill="#c62033"/>
<circle cx="69.38" cy="573.55" r="1.2" fill="#c62033"/>
<circle cx="72.94" cy="568.29" r="1.2" fill="#c62033"/>
<circle cx="77.34" cy="570.71" r="1.2" fill="#c62033"/>
<circle cx="73.58" cy="551.19" r="1.2" fill="#c62033"/>
<circle cx="69.45" cy="557.73" r="1.2" fill="#c62033"/>
<circle cx="70.70" cy="566.45" r="1.2" fill="#c62033"/>
<circle cx="73.13" cy="550.99" r="1.2" fill="#c62033"/>
<circle cx="78.07" cy="554.70" r="1.2" fill="#c62033"/>
<circle cx="76.07" cy="548.90" r="1.2" fill="#c62033"/>
<circle cx="73.94" cy="541.95" r="1.2" fill="#c62033"/>
<circle cx="73.20" cy="561.55" r="1.2" fill="#c62033"/>
<circle cx="77.44" cy="563.58" r="1.2" fill="#c62033"/>
<circle cx="75.33" cy="561.88" r="1.2" fill="#c62033"/>
<circle cx="77.54" cy="547.21" r="1.2" fill="#c62033"/>
<circle cx="73.53" cy="518.51" r="1.2" fill="#c62033"/>
<circle cx="76.84" cy="525.68" r="1.2" fill="#c62033"/>
<circle cx="77.41" cy="523.70" r="1.2" fill="#c62033"/>
<circle cx="78.28" cy="523.48" r="1.2" fill="#c62033"/>
<circle cx="75.96" cy="520.99" r="1.2" fill="#c62033"/>
<circle cx="72.34" cy="522.91" r="1.2" fill="#c62033"/>
<circle cx="69.98" cy="520.62" r="1.2" fill="#c62033"/>
<circle cx="77.51" cy="523.84" r="1.2" fill="#c62033"/>
<circle cx="75.83" cy="518.75" r="1.2" fill="#c62033"/>
<circle cx="71.51" cy="574.72" r="1.2" fill="#c62033"/>
<circle cx="75.18" cy="577.48" r="1.2" fill="#c62033"/>
<circle cx="70.60" cy="579.31" r="1.2" fill="#c62033"/>
<circle cx="76.10" cy="582.98" r="1.2" fill="#c62033"/>
<circle cx="73.35" cy="585.73" r="1.2" fill="#c62033"/>
<circle cx="70.60" cy="589.40" r="1.2" fill="#c62033"/>
<circle cx="77.02" cy="593.07" r="1.2" fill="#c62033"/>
<circle cx="72.43" cy="596.74" r="1.2" fill="#c62033"/>
<circle cx="77.94" cy="597.66" r="1.2" fill="#c62033"/>
<circle cx="72.06" cy="599.50" r="1.2" fill="#c62033"/>
<circle cx="74.27" cy="514.54" r="1.2" fill="#c62033"/>
<circle cx="69.68" cy="524.27" r="1.2" fill="#c62033"/>
<circle cx="73.35" cy="523.90" r="1.2" fill="#c62033"/>
<circle cx="120.00" cy="516.25" r="1.2" fill="#c62033"/>
<circle cx="126.25" cy="516.25" r="1.2" fill="#c62033"/>
<circle cx="123.75" cy="520.00" r="1.2" fill="#c62033"/>
<circle cx="121.25" cy="522.50" r="1.2" fill="#c62033"/>
<circle cx="128.75" cy="523.75" r="1.2" fill="#c62033"/>
<circle cx="122.50" cy="526.25" r="1.2" fill="#c62033"/>
<circle cx="127.00" cy="528.75" r="1.2" fill="#c62033"/>
<circle cx="127.21" cy="538.71" r="1.2" fill="#c62033"/>
<circle cx="124.75" cy="552.84" r="1.2" fill="#c62033"/>
<circle cx="122.12" cy="538.08" r="1.2" fill="#c62033"/>
<circle cx="127.59" cy="528.45" r="1.2" fill="#c62033"/>
<circle cx="125.68" cy="549.66" r="1.2" fill="#c62033"/>
<circle cx="131.31" cy="538.72" r="1.2" fill="#c62033"/>
<circle cx="121.87" cy="559.55" r="1.2" fill="#c62033"/>
<circle cx="129.07" cy="550.82" r="1.2" fill="#c62033"/>
<circle cx="121.17" cy="558.71" r="1.2" fill="#c62033"/>
<circle cx="126.66" cy="543.81" r="1.2" fill="#c62033"/>
<circle cx="125.94" cy="533.40" r="1.2" fill="#c62033"/>
<circle cx="127.42" cy="544.15" r="1.2" fill="#c62033"/>
<circle cx="124.76" cy="553.49" r="1.2" fill="#c62033"/>
<circle cx="131.00" cy="537.85" r="1.2" fill="#c62033"/>
<circle cx="124.55" cy="551.58" r="1.2" fill="#c62033"/>
<circle cx="128.85" cy="561.98" r="1.2" fill="#c62033"/>
<circle cx="124.12" cy="567.70" r="1.2" fill="#c62033"/>
<circle cx="120.66" cy="567.07" r="1.2" fill="#c62033"/>
<circle cx="120.15" cy="546.54" r="1.2" fill="#c62033"/>
<circle cx="124.86" cy="557.49" r="1.2" fill="#c62033"/>
<circle cx="124.08" cy="535.09" r="1.2" fill="#c62033"/>
<circle cx="123.08" cy="555.04" r="1.2" fill="#c62033"/>
<circle cx="130.90" cy="550.50" r="1.2" fill="#c62033"/>
<circle cx="126.11" cy="563.42" r="1.2" fill="#c62033"/>
<circle cx="124.55" cy="551.32" r="1.2" fill="#c62033"/>
<circle cx="122.46" cy="564.76" r="1.2" fill="#c62033"/>
<circle cx="129.39" cy="559.31" r="1.2" fill="#c62033"/>
<circle cx="127.36" cy="559.94" r="1.2" fill="#c62033"/>
<circle cx="122.62" cy="536.02" r="1.2" fill="#c62033"/>
<circle cx="131.18" cy="550.35" r="1.2" fill="#c62033"/>
<circle cx="129.50" cy="539.82" r="1.2" fill="#c62033"/>
<circle cx="129.47" cy="558.81" r="1.2" fill="#c62033"/>
<circle cx="126.36" cy="540.23" r="1.2" fill="#c62033"/>
<circle cx="121.45" cy="549.58" r="1.2" fill="#c62033"/>
<circle cx="129.87" cy="552.47" r="1.2" fill="#c62033"/>
<circle cx="123.10" cy="540.31" r="1.2" fill="#c62033"/>
<circle cx="124.94" cy="542.83" r="1.2" fill="#c62033"/>
<circle cx="122.16" cy="553.10" r="1.2" fill="#c62033"/>
<circle cx="123.26" cy="563.19" r="1.2" fill="#c62033"/>
<circle cx="122.84" cy="548.26" r="1.2" fill="#c62033"/>
<circle cx="124.97" cy="544.53" r="1.2" fill="#c62033"/>
<circle cx="127.39" cy="558.29" r="1.2" fill="#c62033"/>
<circle cx="130.77" cy="543.14" r="1.2" fill="#c62033"/>
<circle cx="129.91" cy="540.41" r="1.2" fill="#c62033"/>
<circle cx="130.51" cy="564.69" r="1.2" fill="#c62033"/>
<circle cx="129.09" cy="554.25" r="1.2" fill="#c62033"/>
<circle cx="127.34" cy="559.39" r="1.2" fill="#c62033"/>
<circle cx="120.17" cy="561.84" r="1.2" fill="#c62033"/>
<circle cx="127.61" cy="571.33" r="1.2" fill="#c62033"/>
<circle cx="122.90" cy="549.69" r="1.2" fill="#c62033"/>
<circle cx="122.71" cy="552.24" r="1.2" fill="#c62033"/>
<circle cx="129.01" cy="551.14" r="1.2" fill="#c62033"/>
<circle cx="130.49" cy="544.89" r="1.2" fill="#c62033"/>
<circle cx="129.18" cy="552.49" r="1.2" fill="#c62033"/>
<circle cx="127.06" cy="557.87" r="1.2" fill="#c62033"/>
<circle cx="129.06" cy="565.40" r="1.2" fill="#c62033"/>
<circle cx="129.14" cy="538.14" r="1.2" fill="#c62033"/>
<circle cx="129.73" cy="530.46" r="1.2" fill="#c62033"/>
<circle cx="126.16" cy="552.74" r="1.2" fill="#c62033"/>
<circle cx="128.61" cy="561.80" r="1.2" fill="#c62033"/>
<circle cx="126.44" cy="529.78" r="1.2" fill="#c62033"/>
<circle cx="123.07" cy="555.40" r="1.2" fill="#c62033"/>
<circle cx="125.72" cy="548.52" r="1.2" fill="#c62033"/>
<circle cx="120.68" cy="553.18" r="1.2" fill="#c62033"/>
<circle cx="125.70" cy="542.81" r="1.2" fill="#c62033"/>
<circle cx="125.78" cy="549.09" r="1.2" fill="#c62033"/>
<circle cx="120.08" cy="529.64" r="1.2" fill="#c62033"/>
<circle cx="129.75" cy="543.34" r="1.2" fill="#c62033"/>
<circle cx="127.72" cy="536.03" r="1.2" fill="#c62033"/>
<circle cx="129.75" cy="550.44" r="1.2" fill="#c62033"/>
<circle cx="131.14" cy="541.00" r="1.2" fill="#c62033"/>
<circle cx="120.87" cy="555.00" r="1.2" fill="#c62033"/>
<circle cx="120.33" cy="539.20" r="1.2" fill="#c62033"/>
<circle cx="127.07" cy="537.75" r="1.2" fill="#c62033"/>
<circle cx="123.83" cy="538.96" r="1.2" fill="#c62033"/>
<circle cx="131.39" cy="528.00" r="1.2" fill="#c62033"/>
<circle cx="130.41" cy="537.09" r="1.2" fill="#c62033"/>
<circle cx="120.39" cy="547.27" r="1.2" fill="#c62033"/>
<circle cx="123.93" cy="545.36" r="1.2" fill="#c62033"/>
<circle cx="130.00" cy="534.95" r="1.2" fill="#c62033"/>
<circle cx="126.10" cy="540.81" r="1.2" fill="#c62033"/>
<circle cx="128.94" cy="556.03" r="1.2" fill="#c62033"/>
<circle cx="124.90" cy="550.48" r="1.2" fill="#c62033"/>
<circle cx="126.43" cy="557.85" r="1.2" fill="#c62033"/>
<circle cx="125.40" cy="586.30" r="1.2" fill="#c62033"/>
<circle cx="128.20" cy="603.20" r="1.2" fill="#c62033"/>
<circle cx="126.90" cy="616.90" r="1.2" fill="#c62033"/>
<circle cx="94.40" cy="528.30" r="1.2" fill="#0e5485"/>
<circle cx="98.10" cy="538.00" r="1.2" fill="#0e5485"/>
<circle cx="95.70" cy="540.40" r="1.2" fill="#0e5485"/>
<circle cx="91.70" cy="544.40" r="1.2" fill="#0e5485"/>
<circle cx="94.40" cy="545.70" r="1.2" fill="#0e5485"/>
<circle cx="98.70" cy="548.70" r="1.2" fill="#0e5485"/>
<circle cx="99.00" cy="550.50" r="1.2" fill="#0e5485"/>
<circle cx="94.10" cy="553.10" r="1.2" fill="#0e5485"/>
<circle cx="89.00" cy="556.40" r="1.2" fill="#0e5485"/>
<circle cx="92.60" cy="556.90" r="1.2" fill="#0e5485"/>
<circle cx="95.00" cy="557.30" r="1.2" fill="#0e5485"/>
<circle cx="93.50" cy="563.30" r="1.2" fill="#0e5485"/>
<circle cx="89.50" cy="576.60" r="1.2" fill="#0e5485"/>
<circle cx="90.00" cy="546.00" r="1.2" fill="#0e5485"/>
<circle cx="97.00" cy="553.50" r="1.2" fill="#0e5485"/>
<circle cx="101.00" cy="548.00" r="1.2" fill="#0e5485"/>
<circle cx="141.60" cy="516.90" r="1.2" fill="#0e5485"/>
<circle cx="143.80" cy="522.40" r="1.2" fill="#0e5485"/>
<circle cx="146.20" cy="527.90" r="1.2" fill="#0e5485"/>
<circle cx="146.20" cy="543.00" r="1.2" fill="#0e5485"/>
<circle cx="149.50" cy="557.30" r="1.2" fill="#0e5485"/>
<circle cx="140.50" cy="524.00" r="1.2" fill="#0e5485"/>
<circle cx="167.00" cy="504.40" r="1.1" fill="#c62033"/>
<text x="170.70" y="506.00" textLength="33.30" lengthAdjust="spacingAndGlyphs"><tspan font-style="italic">REL</tspan> SV (–)</text>
<circle cx="167.00" cy="512.80" r="1.1" fill="#0e5485"/>
<text x="170.70" y="515.10" textLength="34.70" lengthAdjust="spacingAndGlyphs"><tspan font-style="italic">REL</tspan> SV (+)</text>
<text x="165.90" y="525.90" textLength="66.60" lengthAdjust="spacingAndGlyphs">Multivariate analysis</text>
<text x="165.90" y="535.90" textLength="42.90" lengthAdjust="spacingAndGlyphs">SV <tspan font-style="italic">p</tspan> = 0.020</text>
<text x="84.00" y="634.80" text-anchor="middle" textLength="16.50" lengthAdjust="spacingAndGlyphs">GCB</text>
<text x="111.50" y="634.80" textLength="47.70" lengthAdjust="spacingAndGlyphs">Unclassifiable</text>
<text x="32.60" y="564.30" font-size="9" text-anchor="middle" textLength="93.40" lengthAdjust="spacingAndGlyphs" transform="rotate(-90 32.60 564.30)">NF–κB target gene signature</text>
<rect x="327" y="494.6" width="1.9" height="7.9" fill="#231f20"/>
<text x="349.50" y="506.00" textLength="21.70" lengthAdjust="spacingAndGlyphs">RC-K8</text>
<text x="378.80" y="506.00" textLength="23.80" lengthAdjust="spacingAndGlyphs">(2,000)</text>
<text x="418.00" y="506.00" textLength="13.50" lengthAdjust="spacingAndGlyphs">(12)</text>
<line x1="370.70" y1="510.10" x2="370.70" y2="622.80" stroke="#231f20" stroke-width="1.0"/>
<line x1="367.50" y1="522.40" x2="370.70" y2="522.40" stroke="#231f20" stroke-width="1.0"/>
<text x="365.80" y="525.10" font-size="7.8" text-anchor="end">2</text>
<line x1="367.50" y1="547.35" x2="370.70" y2="547.35" stroke="#231f20" stroke-width="1.0"/>
<text x="365.80" y="550.05" font-size="7.8" text-anchor="end">0</text>
<line x1="367.50" y1="572.30" x2="370.70" y2="572.30" stroke="#231f20" stroke-width="1.0"/>
<text x="365.80" y="575.00" font-size="7.8" text-anchor="end">−2</text>
<line x1="367.50" y1="597.25" x2="370.70" y2="597.25" stroke="#231f20" stroke-width="1.0"/>
<text x="365.80" y="599.95" font-size="7.8" text-anchor="end">−4</text>
<line x1="367.50" y1="622.20" x2="370.70" y2="622.20" stroke="#231f20" stroke-width="1.0"/>
<text x="365.80" y="624.90" font-size="7.8" text-anchor="end">−6</text>
<line x1="370.30" y1="622.30" x2="445.40" y2="622.30" stroke="#231f20" stroke-width="1.0"/>
<line x1="391.20" y1="622.30" x2="391.20" y2="624.80" stroke="#231f20" stroke-width="1.0"/>
<line x1="424.60" y1="622.30" x2="424.60" y2="624.80" stroke="#231f20" stroke-width="1.0"/>
<rect x="378.40" y="540.40" width="26.30" height="10.80" fill="none" stroke="#c62033" stroke-width="0.8"/>
<circle cx="387.14" cy="552.89" r="0.65" fill="#c62033"/>
<circle cx="389.31" cy="552.92" r="0.65" fill="#c62033"/>
<circle cx="386.73" cy="543.36" r="0.65" fill="#c62033"/>
<circle cx="400.51" cy="543.44" r="0.65" fill="#c62033"/>
<circle cx="396.92" cy="547.81" r="0.65" fill="#c62033"/>
<circle cx="387.62" cy="538.26" r="0.65" fill="#c62033"/>
<circle cx="392.89" cy="537.33" r="0.65" fill="#c62033"/>
<circle cx="396.77" cy="547.23" r="0.65" fill="#c62033"/>
<circle cx="395.56" cy="529.68" r="0.65" fill="#c62033"/>
<circle cx="392.09" cy="554.63" r="0.65" fill="#c62033"/>
<circle cx="387.29" cy="529.97" r="0.65" fill="#c62033"/>
<circle cx="385.12" cy="528.68" r="0.65" fill="#c62033"/>
<circle cx="393.33" cy="555.68" r="0.65" fill="#c62033"/>
<circle cx="396.86" cy="547.91" r="0.65" fill="#c62033"/>
<circle cx="393.39" cy="555.34" r="0.65" fill="#c62033"/>
<circle cx="393.69" cy="546.69" r="0.65" fill="#c62033"/>
<circle cx="393.09" cy="549.04" r="0.65" fill="#c62033"/>
<circle cx="385.57" cy="548.59" r="0.65" fill="#c62033"/>
<circle cx="390.37" cy="548.18" r="0.65" fill="#c62033"/>
<circle cx="383.39" cy="551.00" r="0.65" fill="#c62033"/>
<circle cx="382.12" cy="533.85" r="0.65" fill="#c62033"/>
<circle cx="399.32" cy="551.35" r="0.65" fill="#c62033"/>
<circle cx="388.63" cy="547.84" r="0.65" fill="#c62033"/>
<circle cx="396.82" cy="552.77" r="0.65" fill="#c62033"/>
<circle cx="386.46" cy="545.08" r="0.65" fill="#c62033"/>
<circle cx="389.67" cy="537.41" r="0.65" fill="#c62033"/>
<circle cx="389.84" cy="537.90" r="0.65" fill="#c62033"/>
<circle cx="399.70" cy="547.43" r="0.65" fill="#c62033"/>
<circle cx="392.52" cy="530.11" r="0.65" fill="#c62033"/>
<circle cx="383.73" cy="529.66" r="0.65" fill="#c62033"/>
<circle cx="392.68" cy="552.40" r="0.65" fill="#c62033"/>
<circle cx="390.15" cy="555.60" r="0.65" fill="#c62033"/>
<circle cx="388.99" cy="528.92" r="0.65" fill="#c62033"/>
<circle cx="399.78" cy="545.96" r="0.65" fill="#c62033"/>
<circle cx="390.72" cy="557.43" r="0.65" fill="#c62033"/>
<circle cx="383.40" cy="540.67" r="0.65" fill="#c62033"/>
<circle cx="385.56" cy="547.51" r="0.65" fill="#c62033"/>
<circle cx="381.70" cy="532.98" r="0.65" fill="#c62033"/>
<circle cx="394.80" cy="528.64" r="0.65" fill="#c62033"/>
<circle cx="400.34" cy="532.09" r="0.65" fill="#c62033"/>
<circle cx="398.44" cy="531.10" r="0.65" fill="#c62033"/>
<circle cx="381.75" cy="532.30" r="0.65" fill="#c62033"/>
<circle cx="386.15" cy="549.72" r="0.65" fill="#c62033"/>
<circle cx="385.07" cy="550.14" r="0.65" fill="#c62033"/>
<circle cx="396.57" cy="529.98" r="0.65" fill="#c62033"/>
<circle cx="398.17" cy="549.55" r="0.65" fill="#c62033"/>
<circle cx="383.05" cy="550.03" r="0.65" fill="#c62033"/>
<circle cx="395.30" cy="547.04" r="0.65" fill="#c62033"/>
<circle cx="399.67" cy="542.09" r="0.65" fill="#c62033"/>
<circle cx="400.30" cy="535.99" r="0.65" fill="#c62033"/>
<circle cx="381.62" cy="549.66" r="0.65" fill="#c62033"/>
<circle cx="394.15" cy="528.93" r="0.65" fill="#c62033"/>
<circle cx="382.96" cy="552.61" r="0.65" fill="#c62033"/>
<circle cx="395.70" cy="537.68" r="0.65" fill="#c62033"/>
<circle cx="398.27" cy="533.40" r="0.65" fill="#c62033"/>
<circle cx="382.57" cy="542.85" r="0.65" fill="#c62033"/>
<circle cx="392.67" cy="539.34" r="0.65" fill="#c62033"/>
<circle cx="394.67" cy="541.44" r="0.65" fill="#c62033"/>
<circle cx="397.03" cy="532.77" r="0.65" fill="#c62033"/>
<circle cx="394.04" cy="539.22" r="0.65" fill="#c62033"/>
<circle cx="389.59" cy="547.08" r="0.65" fill="#c62033"/>
<circle cx="396.81" cy="539.88" r="0.65" fill="#c62033"/>
<circle cx="396.78" cy="556.38" r="0.65" fill="#c62033"/>
<circle cx="387.13" cy="545.22" r="0.65" fill="#c62033"/>
<circle cx="400.49" cy="530.29" r="0.65" fill="#c62033"/>
<circle cx="397.62" cy="549.25" r="0.65" fill="#c62033"/>
<circle cx="393.27" cy="538.30" r="0.65" fill="#c62033"/>
<circle cx="397.69" cy="557.33" r="0.65" fill="#c62033"/>
<circle cx="387.45" cy="546.23" r="0.65" fill="#c62033"/>
<circle cx="398.81" cy="541.14" r="0.65" fill="#c62033"/>
<circle cx="394.82" cy="539.61" r="0.65" fill="#c62033"/>
<circle cx="398.96" cy="546.25" r="0.65" fill="#c62033"/>
<circle cx="386.95" cy="552.32" r="0.65" fill="#c62033"/>
<circle cx="386.56" cy="528.55" r="0.65" fill="#c62033"/>
<circle cx="392.90" cy="540.96" r="0.65" fill="#c62033"/>
<circle cx="398.79" cy="552.57" r="0.65" fill="#c62033"/>
<circle cx="397.73" cy="529.75" r="0.65" fill="#c62033"/>
<circle cx="398.40" cy="552.45" r="0.65" fill="#c62033"/>
<circle cx="386.77" cy="545.37" r="0.65" fill="#c62033"/>
<circle cx="397.22" cy="553.61" r="0.65" fill="#c62033"/>
<circle cx="399.31" cy="548.70" r="0.65" fill="#c62033"/>
<circle cx="383.07" cy="538.73" r="0.65" fill="#c62033"/>
<circle cx="397.03" cy="544.83" r="0.65" fill="#c62033"/>
<circle cx="396.10" cy="534.41" r="0.65" fill="#c62033"/>
<circle cx="385.99" cy="555.99" r="0.65" fill="#c62033"/>
<circle cx="394.68" cy="546.40" r="0.65" fill="#c62033"/>
<circle cx="385.45" cy="542.23" r="0.65" fill="#c62033"/>
<circle cx="396.12" cy="536.01" r="0.65" fill="#c62033"/>
<circle cx="390.41" cy="551.85" r="0.65" fill="#c62033"/>
<circle cx="397.21" cy="531.09" r="0.65" fill="#c62033"/>
<circle cx="385.96" cy="551.28" r="0.65" fill="#c62033"/>
<circle cx="398.98" cy="545.60" r="0.65" fill="#c62033"/>
<circle cx="391.63" cy="554.61" r="0.65" fill="#c62033"/>
<circle cx="392.95" cy="542.56" r="0.65" fill="#c62033"/>
<circle cx="385.17" cy="534.08" r="0.65" fill="#c62033"/>
<circle cx="395.14" cy="533.83" r="0.65" fill="#c62033"/>
<circle cx="392.46" cy="539.20" r="0.65" fill="#c62033"/>
<circle cx="391.54" cy="540.37" r="0.65" fill="#c62033"/>
<circle cx="382.27" cy="532.90" r="0.65" fill="#c62033"/>
<circle cx="388.73" cy="557.92" r="0.65" fill="#c62033"/>
<circle cx="393.80" cy="531.63" r="0.65" fill="#c62033"/>
<circle cx="384.46" cy="551.73" r="0.65" fill="#c62033"/>
<circle cx="388.16" cy="546.12" r="0.65" fill="#c62033"/>
<circle cx="381.80" cy="543.82" r="0.65" fill="#c62033"/>
<circle cx="400.81" cy="529.49" r="0.65" fill="#c62033"/>
<circle cx="390.93" cy="554.05" r="0.65" fill="#c62033"/>
<circle cx="386.53" cy="545.23" r="0.65" fill="#c62033"/>
<circle cx="389.75" cy="551.49" r="0.65" fill="#c62033"/>
<circle cx="396.44" cy="556.42" r="0.65" fill="#c62033"/>
<circle cx="400.28" cy="552.66" r="0.65" fill="#c62033"/>
<circle cx="382.14" cy="535.99" r="0.65" fill="#c62033"/>
<circle cx="384.94" cy="534.43" r="0.65" fill="#c62033"/>
<circle cx="382.40" cy="530.97" r="0.65" fill="#c62033"/>
<circle cx="398.47" cy="544.94" r="0.65" fill="#c62033"/>
<circle cx="399.97" cy="542.02" r="0.65" fill="#c62033"/>
<circle cx="382.66" cy="555.34" r="0.65" fill="#c62033"/>
<circle cx="389.19" cy="546.14" r="0.65" fill="#c62033"/>
<circle cx="400.20" cy="532.04" r="0.65" fill="#c62033"/>
<circle cx="392.46" cy="536.09" r="0.65" fill="#c62033"/>
<circle cx="400.15" cy="547.40" r="0.65" fill="#c62033"/>
<circle cx="389.11" cy="548.26" r="0.65" fill="#c62033"/>
<circle cx="384.53" cy="541.73" r="0.65" fill="#c62033"/>
<circle cx="400.84" cy="556.99" r="0.65" fill="#c62033"/>
<circle cx="382.16" cy="535.04" r="0.65" fill="#c62033"/>
<circle cx="388.30" cy="536.05" r="0.65" fill="#c62033"/>
<circle cx="399.13" cy="555.13" r="0.65" fill="#c62033"/>
<circle cx="382.32" cy="553.20" r="0.65" fill="#c62033"/>
<circle cx="395.31" cy="551.70" r="0.65" fill="#c62033"/>
<circle cx="400.71" cy="547.58" r="0.65" fill="#c62033"/>
<circle cx="384.24" cy="530.15" r="0.65" fill="#c62033"/>
<circle cx="399.81" cy="550.77" r="0.65" fill="#c62033"/>
<circle cx="387.26" cy="548.47" r="0.65" fill="#c62033"/>
<circle cx="396.25" cy="545.95" r="0.65" fill="#c62033"/>
<circle cx="387.75" cy="531.61" r="0.65" fill="#c62033"/>
<circle cx="383.83" cy="536.08" r="0.65" fill="#c62033"/>
<circle cx="384.70" cy="542.70" r="0.65" fill="#c62033"/>
<circle cx="384.21" cy="535.53" r="0.65" fill="#c62033"/>
<circle cx="381.65" cy="548.49" r="0.65" fill="#c62033"/>
<circle cx="385.22" cy="549.66" r="0.65" fill="#c62033"/>
<circle cx="399.58" cy="529.56" r="0.65" fill="#c62033"/>
<circle cx="399.71" cy="535.01" r="0.65" fill="#c62033"/>
<circle cx="398.82" cy="554.07" r="0.65" fill="#c62033"/>
<circle cx="390.17" cy="532.62" r="0.65" fill="#c62033"/>
<circle cx="399.60" cy="531.36" r="0.65" fill="#c62033"/>
<circle cx="393.72" cy="553.35" r="0.65" fill="#c62033"/>
<circle cx="388.06" cy="541.84" r="0.65" fill="#c62033"/>
<circle cx="390.76" cy="552.78" r="0.65" fill="#c62033"/>
<circle cx="384.20" cy="547.03" r="0.65" fill="#c62033"/>
<circle cx="382.51" cy="535.04" r="0.65" fill="#c62033"/>
<circle cx="392.25" cy="549.55" r="0.65" fill="#c62033"/>
<circle cx="398.47" cy="532.77" r="0.65" fill="#c62033"/>
<circle cx="389.47" cy="536.36" r="0.65" fill="#c62033"/>
<circle cx="386.71" cy="533.09" r="0.65" fill="#c62033"/>
<circle cx="387.96" cy="553.27" r="0.65" fill="#c62033"/>
<circle cx="391.02" cy="533.45" r="0.65" fill="#c62033"/>
<circle cx="399.10" cy="537.88" r="0.65" fill="#c62033"/>
<circle cx="400.58" cy="531.87" r="0.65" fill="#c62033"/>
<circle cx="398.94" cy="530.18" r="0.65" fill="#c62033"/>
<circle cx="385.54" cy="548.21" r="0.65" fill="#c62033"/>
<circle cx="387.01" cy="542.58" r="0.65" fill="#c62033"/>
<circle cx="385.35" cy="536.10" r="0.65" fill="#c62033"/>
<circle cx="400.82" cy="539.25" r="0.65" fill="#c62033"/>
<circle cx="399.53" cy="557.94" r="0.65" fill="#c62033"/>
<circle cx="387.07" cy="531.38" r="0.65" fill="#c62033"/>
<circle cx="382.53" cy="554.94" r="0.65" fill="#c62033"/>
<circle cx="387.15" cy="549.93" r="0.65" fill="#c62033"/>
<circle cx="381.71" cy="557.37" r="0.65" fill="#c62033"/>
<circle cx="388.08" cy="552.31" r="0.65" fill="#c62033"/>
<circle cx="381.44" cy="532.63" r="0.65" fill="#c62033"/>
<circle cx="391.72" cy="553.05" r="0.65" fill="#c62033"/>
<circle cx="389.93" cy="533.98" r="0.65" fill="#c62033"/>
<circle cx="385.68" cy="555.40" r="0.65" fill="#c62033"/>
<circle cx="384.11" cy="545.35" r="0.65" fill="#c62033"/>
<circle cx="396.50" cy="533.81" r="0.65" fill="#c62033"/>
<circle cx="385.26" cy="549.49" r="0.65" fill="#c62033"/>
<circle cx="383.11" cy="530.84" r="0.65" fill="#c62033"/>
<circle cx="391.11" cy="546.45" r="0.65" fill="#c62033"/>
<circle cx="385.44" cy="536.58" r="0.65" fill="#c62033"/>
<circle cx="395.27" cy="546.57" r="0.65" fill="#c62033"/>
<circle cx="392.83" cy="552.44" r="0.65" fill="#c62033"/>
<circle cx="382.69" cy="534.47" r="0.65" fill="#c62033"/>
<circle cx="389.40" cy="550.12" r="0.65" fill="#c62033"/>
<circle cx="382.49" cy="549.79" r="0.65" fill="#c62033"/>
<circle cx="387.97" cy="552.41" r="0.65" fill="#c62033"/>
<circle cx="398.34" cy="553.34" r="0.65" fill="#c62033"/>
<circle cx="381.70" cy="543.04" r="0.65" fill="#c62033"/>
<circle cx="390.74" cy="555.35" r="0.65" fill="#c62033"/>
<circle cx="386.62" cy="554.22" r="0.65" fill="#c62033"/>
<circle cx="397.70" cy="533.99" r="0.65" fill="#c62033"/>
<circle cx="384.60" cy="539.33" r="0.65" fill="#c62033"/>
<circle cx="393.06" cy="539.45" r="0.65" fill="#c62033"/>
<circle cx="391.59" cy="528.64" r="0.65" fill="#c62033"/>
<circle cx="391.51" cy="541.65" r="0.65" fill="#c62033"/>
<circle cx="395.41" cy="532.06" r="0.65" fill="#c62033"/>
<circle cx="398.36" cy="552.59" r="0.65" fill="#c62033"/>
<circle cx="395.34" cy="537.97" r="0.65" fill="#c62033"/>
<circle cx="396.13" cy="539.75" r="0.65" fill="#c62033"/>
<circle cx="398.51" cy="530.31" r="0.65" fill="#c62033"/>
<circle cx="391.10" cy="556.64" r="0.65" fill="#c62033"/>
<circle cx="391.80" cy="543.64" r="0.65" fill="#c62033"/>
<circle cx="381.81" cy="544.35" r="0.65" fill="#c62033"/>
<circle cx="385.78" cy="557.04" r="0.65" fill="#c62033"/>
<circle cx="383.41" cy="533.88" r="0.65" fill="#c62033"/>
<circle cx="397.42" cy="535.89" r="0.65" fill="#c62033"/>
<circle cx="383.29" cy="529.39" r="0.65" fill="#c62033"/>
<circle cx="385.22" cy="549.12" r="0.65" fill="#c62033"/>
<circle cx="393.15" cy="529.02" r="0.65" fill="#c62033"/>
<circle cx="391.65" cy="545.51" r="0.65" fill="#c62033"/>
<circle cx="383.42" cy="549.23" r="0.65" fill="#c62033"/>
<circle cx="395.46" cy="554.15" r="0.65" fill="#c62033"/>
<circle cx="383.81" cy="529.83" r="0.65" fill="#c62033"/>
<circle cx="391.21" cy="543.06" r="0.65" fill="#c62033"/>
<circle cx="383.79" cy="536.75" r="0.65" fill="#c62033"/>
<circle cx="384.08" cy="540.47" r="0.65" fill="#c62033"/>
<circle cx="398.28" cy="545.96" r="0.65" fill="#c62033"/>
<circle cx="392.63" cy="532.84" r="0.65" fill="#c62033"/>
<circle cx="384.62" cy="550.52" r="0.65" fill="#c62033"/>
<circle cx="399.78" cy="552.87" r="0.65" fill="#c62033"/>
<circle cx="389.64" cy="539.97" r="0.65" fill="#c62033"/>
<circle cx="391.70" cy="553.27" r="0.65" fill="#c62033"/>
<circle cx="399.85" cy="540.17" r="0.65" fill="#c62033"/>
<circle cx="388.04" cy="551.42" r="0.65" fill="#c62033"/>
<circle cx="387.97" cy="535.59" r="0.65" fill="#c62033"/>
<circle cx="400.63" cy="541.35" r="0.65" fill="#c62033"/>
<circle cx="399.29" cy="552.23" r="0.65" fill="#c62033"/>
<circle cx="398.01" cy="552.54" r="0.65" fill="#c62033"/>
<circle cx="391.54" cy="530.08" r="0.65" fill="#c62033"/>
<circle cx="399.71" cy="556.76" r="0.65" fill="#c62033"/>
<circle cx="389.67" cy="535.85" r="0.65" fill="#c62033"/>
<circle cx="388.54" cy="547.16" r="0.65" fill="#c62033"/>
<circle cx="382.76" cy="544.16" r="0.65" fill="#c62033"/>
<circle cx="391.29" cy="541.27" r="0.65" fill="#c62033"/>
<circle cx="384.13" cy="529.11" r="0.65" fill="#c62033"/>
<circle cx="396.62" cy="557.11" r="0.65" fill="#c62033"/>
<circle cx="393.81" cy="556.14" r="0.65" fill="#c62033"/>
<circle cx="398.73" cy="552.37" r="0.65" fill="#c62033"/>
<circle cx="382.07" cy="554.60" r="0.65" fill="#c62033"/>
<circle cx="386.61" cy="547.43" r="0.65" fill="#c62033"/>
<circle cx="386.76" cy="548.51" r="0.65" fill="#c62033"/>
<circle cx="399.52" cy="544.50" r="0.65" fill="#c62033"/>
<circle cx="386.31" cy="546.83" r="0.65" fill="#c62033"/>
<circle cx="389.90" cy="543.85" r="0.65" fill="#c62033"/>
<circle cx="387.04" cy="556.55" r="0.65" fill="#c62033"/>
<circle cx="394.09" cy="537.51" r="0.65" fill="#c62033"/>
<circle cx="393.05" cy="532.05" r="0.65" fill="#c62033"/>
<circle cx="391.47" cy="556.70" r="0.65" fill="#c62033"/>
<circle cx="390.54" cy="536.42" r="0.65" fill="#c62033"/>
<circle cx="384.31" cy="544.25" r="0.65" fill="#c62033"/>
<circle cx="383.97" cy="532.16" r="0.65" fill="#c62033"/>
<circle cx="389.37" cy="537.16" r="0.65" fill="#c62033"/>
<circle cx="386.17" cy="537.01" r="0.65" fill="#c62033"/>
<circle cx="392.11" cy="531.09" r="0.65" fill="#c62033"/>
<circle cx="393.36" cy="553.27" r="0.65" fill="#c62033"/>
<circle cx="394.15" cy="545.32" r="0.65" fill="#c62033"/>
<circle cx="395.32" cy="534.44" r="0.65" fill="#c62033"/>
<circle cx="392.14" cy="542.10" r="0.65" fill="#c62033"/>
<circle cx="390.59" cy="546.58" r="0.65" fill="#c62033"/>
<circle cx="386.15" cy="537.66" r="0.65" fill="#c62033"/>
<circle cx="391.44" cy="535.04" r="0.65" fill="#c62033"/>
<circle cx="392.88" cy="539.80" r="0.65" fill="#c62033"/>
<circle cx="388.31" cy="528.85" r="0.65" fill="#c62033"/>
<circle cx="386.08" cy="553.93" r="0.65" fill="#c62033"/>
<circle cx="391.03" cy="544.92" r="0.65" fill="#c62033"/>
<circle cx="400.76" cy="536.90" r="0.65" fill="#c62033"/>
<circle cx="396.53" cy="537.22" r="0.65" fill="#c62033"/>
<circle cx="382.71" cy="533.18" r="0.65" fill="#c62033"/>
<circle cx="390.02" cy="554.20" r="0.65" fill="#c62033"/>
<circle cx="389.00" cy="530.33" r="0.65" fill="#c62033"/>
<circle cx="395.81" cy="541.48" r="0.65" fill="#c62033"/>
<circle cx="385.81" cy="531.72" r="0.65" fill="#c62033"/>
<circle cx="395.88" cy="556.80" r="0.65" fill="#c62033"/>
<circle cx="388.01" cy="533.06" r="0.65" fill="#c62033"/>
<circle cx="394.64" cy="538.90" r="0.65" fill="#c62033"/>
<circle cx="398.06" cy="546.68" r="0.65" fill="#c62033"/>
<circle cx="391.55" cy="552.73" r="0.65" fill="#c62033"/>
<circle cx="395.97" cy="550.29" r="0.65" fill="#c62033"/>
<circle cx="390.71" cy="550.91" r="0.65" fill="#c62033"/>
<circle cx="395.29" cy="551.66" r="0.65" fill="#c62033"/>
<circle cx="383.89" cy="555.48" r="0.65" fill="#c62033"/>
<circle cx="381.48" cy="554.19" r="0.65" fill="#c62033"/>
<circle cx="392.88" cy="551.09" r="0.65" fill="#c62033"/>
<circle cx="400.27" cy="543.19" r="0.65" fill="#c62033"/>
<circle cx="389.59" cy="545.37" r="0.65" fill="#c62033"/>
<circle cx="398.51" cy="551.62" r="0.65" fill="#c62033"/>
<circle cx="388.84" cy="546.42" r="0.65" fill="#c62033"/>
<circle cx="390.37" cy="541.84" r="0.65" fill="#c62033"/>
<circle cx="387.14" cy="549.83" r="0.65" fill="#c62033"/>
<circle cx="392.28" cy="540.03" r="0.65" fill="#c62033"/>
<circle cx="387.71" cy="539.84" r="0.65" fill="#c62033"/>
<circle cx="398.05" cy="551.72" r="0.65" fill="#c62033"/>
<circle cx="390.10" cy="543.24" r="0.65" fill="#c62033"/>
<circle cx="387.36" cy="533.93" r="0.65" fill="#c62033"/>
<circle cx="392.68" cy="532.78" r="0.65" fill="#c62033"/>
<circle cx="383.12" cy="545.66" r="0.65" fill="#c62033"/>
<circle cx="387.75" cy="555.64" r="0.65" fill="#c62033"/>
<circle cx="397.83" cy="553.38" r="0.65" fill="#c62033"/>
<circle cx="385.40" cy="556.78" r="0.65" fill="#c62033"/>
<circle cx="399.25" cy="541.08" r="0.65" fill="#c62033"/>
<circle cx="382.33" cy="528.82" r="0.65" fill="#c62033"/>
<circle cx="391.15" cy="545.17" r="0.65" fill="#c62033"/>
<circle cx="396.56" cy="555.65" r="0.65" fill="#c62033"/>
<circle cx="400.97" cy="544.39" r="0.65" fill="#c62033"/>
<circle cx="391.54" cy="543.76" r="0.65" fill="#c62033"/>
<circle cx="389.03" cy="548.71" r="0.65" fill="#c62033"/>
<circle cx="393.06" cy="539.05" r="0.65" fill="#c62033"/>
<circle cx="399.98" cy="538.86" r="0.65" fill="#c62033"/>
<circle cx="391.69" cy="548.46" r="0.65" fill="#c62033"/>
<circle cx="388.74" cy="531.42" r="0.65" fill="#c62033"/>
<circle cx="392.40" cy="540.33" r="0.65" fill="#c62033"/>
<circle cx="398.64" cy="545.43" r="0.65" fill="#c62033"/>
<circle cx="390.94" cy="556.95" r="0.65" fill="#c62033"/>
<circle cx="393.64" cy="541.48" r="0.65" fill="#c62033"/>
<circle cx="388.13" cy="557.89" r="0.65" fill="#c62033"/>
<circle cx="397.39" cy="544.14" r="0.65" fill="#c62033"/>
<circle cx="387.63" cy="533.54" r="0.65" fill="#c62033"/>
<circle cx="397.59" cy="557.36" r="0.65" fill="#c62033"/>
<circle cx="383.57" cy="543.62" r="0.65" fill="#c62033"/>
<circle cx="394.92" cy="554.89" r="0.65" fill="#c62033"/>
<circle cx="400.81" cy="552.71" r="0.65" fill="#c62033"/>
<circle cx="389.65" cy="554.70" r="0.65" fill="#c62033"/>
<circle cx="387.08" cy="533.11" r="0.65" fill="#c62033"/>
<circle cx="391.30" cy="543.59" r="0.65" fill="#c62033"/>
<circle cx="384.98" cy="534.05" r="0.65" fill="#c62033"/>
<circle cx="393.22" cy="547.09" r="0.65" fill="#c62033"/>
<circle cx="400.88" cy="538.92" r="0.65" fill="#c62033"/>
<circle cx="382.23" cy="547.28" r="0.65" fill="#c62033"/>
<circle cx="396.84" cy="540.64" r="0.65" fill="#c62033"/>
<circle cx="394.94" cy="537.55" r="0.65" fill="#c62033"/>
<circle cx="387.37" cy="528.62" r="0.65" fill="#c62033"/>
<circle cx="392.89" cy="553.34" r="0.65" fill="#c62033"/>
<circle cx="385.25" cy="548.21" r="0.65" fill="#c62033"/>
<circle cx="392.24" cy="543.19" r="0.65" fill="#c62033"/>
<circle cx="394.08" cy="536.35" r="0.65" fill="#c62033"/>
<circle cx="400.94" cy="544.18" r="0.65" fill="#c62033"/>
<circle cx="389.46" cy="545.45" r="0.65" fill="#c62033"/>
<circle cx="384.47" cy="532.08" r="0.65" fill="#c62033"/>
<circle cx="383.49" cy="550.91" r="0.65" fill="#c62033"/>
<circle cx="384.74" cy="531.45" r="0.65" fill="#c62033"/>
<circle cx="397.53" cy="543.91" r="0.65" fill="#c62033"/>
<circle cx="397.21" cy="546.58" r="0.65" fill="#c62033"/>
<circle cx="381.64" cy="530.33" r="0.65" fill="#c62033"/>
<circle cx="387.73" cy="551.23" r="0.65" fill="#c62033"/>
<circle cx="388.34" cy="549.61" r="0.65" fill="#c62033"/>
<circle cx="386.63" cy="533.50" r="0.65" fill="#c62033"/>
<circle cx="399.12" cy="531.43" r="0.65" fill="#c62033"/>
<circle cx="388.24" cy="545.68" r="0.65" fill="#c62033"/>
<circle cx="388.96" cy="541.77" r="0.65" fill="#c62033"/>
<circle cx="398.85" cy="530.11" r="0.65" fill="#c62033"/>
<circle cx="400.21" cy="545.69" r="0.65" fill="#c62033"/>
<circle cx="393.56" cy="541.47" r="0.65" fill="#c62033"/>
<circle cx="382.26" cy="535.86" r="0.65" fill="#c62033"/>
<circle cx="398.15" cy="555.96" r="0.65" fill="#c62033"/>
<circle cx="399.02" cy="537.79" r="0.65" fill="#c62033"/>
<circle cx="387.35" cy="552.57" r="0.65" fill="#c62033"/>
<circle cx="400.22" cy="546.28" r="0.65" fill="#c62033"/>
<circle cx="400.01" cy="543.12" r="0.65" fill="#c62033"/>
<circle cx="389.04" cy="535.67" r="0.65" fill="#c62033"/>
<circle cx="385.74" cy="549.69" r="0.65" fill="#c62033"/>
<circle cx="398.56" cy="537.62" r="0.65" fill="#c62033"/>
<circle cx="396.94" cy="542.79" r="0.65" fill="#c62033"/>
<circle cx="384.80" cy="535.68" r="0.65" fill="#c62033"/>
<circle cx="385.06" cy="539.07" r="0.65" fill="#c62033"/>
<circle cx="387.10" cy="557.16" r="0.65" fill="#c62033"/>
<circle cx="383.65" cy="545.07" r="0.65" fill="#c62033"/>
<circle cx="388.96" cy="544.25" r="0.65" fill="#c62033"/>
<circle cx="382.68" cy="540.39" r="0.65" fill="#c62033"/>
<circle cx="397.59" cy="532.14" r="0.65" fill="#c62033"/>
<circle cx="386.20" cy="538.86" r="0.65" fill="#c62033"/>
<circle cx="386.96" cy="534.14" r="0.65" fill="#c62033"/>
<circle cx="382.08" cy="535.50" r="0.65" fill="#c62033"/>
<circle cx="388.09" cy="548.10" r="0.65" fill="#c62033"/>
<circle cx="395.24" cy="533.10" r="0.65" fill="#c62033"/>
<circle cx="386.69" cy="531.23" r="0.65" fill="#c62033"/>
<circle cx="383.90" cy="553.13" r="0.65" fill="#c62033"/>
<circle cx="397.79" cy="541.58" r="0.65" fill="#c62033"/>
<circle cx="384.52" cy="552.25" r="0.65" fill="#c62033"/>
<circle cx="395.56" cy="538.91" r="0.65" fill="#c62033"/>
<circle cx="400.18" cy="539.62" r="0.65" fill="#c62033"/>
<circle cx="400.04" cy="534.64" r="0.65" fill="#c62033"/>
<circle cx="385.85" cy="543.39" r="0.65" fill="#c62033"/>
<circle cx="383.97" cy="541.85" r="0.65" fill="#c62033"/>
<circle cx="386.51" cy="549.34" r="0.65" fill="#c62033"/>
<circle cx="392.92" cy="555.04" r="0.65" fill="#c62033"/>
<circle cx="386.23" cy="539.36" r="0.65" fill="#c62033"/>
<circle cx="385.57" cy="546.44" r="0.65" fill="#c62033"/>
<circle cx="383.81" cy="554.24" r="0.65" fill="#c62033"/>
<circle cx="392.03" cy="543.63" r="0.65" fill="#c62033"/>
<circle cx="396.53" cy="536.48" r="0.65" fill="#c62033"/>
<circle cx="394.29" cy="539.85" r="0.65" fill="#c62033"/>
<circle cx="387.49" cy="545.25" r="0.65" fill="#c62033"/>
<circle cx="383.09" cy="540.00" r="0.65" fill="#c62033"/>
<circle cx="398.08" cy="533.72" r="0.65" fill="#c62033"/>
<circle cx="394.39" cy="537.97" r="0.65" fill="#c62033"/>
<circle cx="392.42" cy="531.71" r="0.65" fill="#c62033"/>
<circle cx="391.21" cy="539.16" r="0.65" fill="#c62033"/>
<circle cx="382.69" cy="537.26" r="0.65" fill="#c62033"/>
<circle cx="385.84" cy="537.68" r="0.65" fill="#c62033"/>
<circle cx="395.45" cy="532.22" r="0.65" fill="#c62033"/>
<circle cx="389.31" cy="536.83" r="0.65" fill="#c62033"/>
<circle cx="396.59" cy="555.31" r="0.65" fill="#c62033"/>
<circle cx="398.28" cy="554.54" r="0.65" fill="#c62033"/>
<circle cx="386.82" cy="532.40" r="0.65" fill="#c62033"/>
<circle cx="394.72" cy="529.37" r="0.65" fill="#c62033"/>
<circle cx="388.29" cy="548.08" r="0.65" fill="#c62033"/>
<circle cx="394.32" cy="540.67" r="0.65" fill="#c62033"/>
<circle cx="386.27" cy="549.13" r="0.65" fill="#c62033"/>
<circle cx="388.30" cy="553.48" r="0.65" fill="#c62033"/>
<circle cx="384.96" cy="547.05" r="0.65" fill="#c62033"/>
<circle cx="399.29" cy="531.90" r="0.65" fill="#c62033"/>
<circle cx="395.37" cy="550.15" r="0.65" fill="#c62033"/>
<circle cx="382.18" cy="529.69" r="0.65" fill="#c62033"/>
<circle cx="385.28" cy="533.28" r="0.65" fill="#c62033"/>
<circle cx="388.86" cy="537.44" r="0.65" fill="#c62033"/>
<circle cx="387.49" cy="529.66" r="0.65" fill="#c62033"/>
<circle cx="384.92" cy="547.33" r="0.65" fill="#c62033"/>
<circle cx="392.58" cy="553.26" r="0.65" fill="#c62033"/>
<circle cx="386.39" cy="549.64" r="0.65" fill="#c62033"/>
<circle cx="394.81" cy="541.33" r="0.65" fill="#c62033"/>
<circle cx="381.42" cy="538.80" r="0.65" fill="#c62033"/>
<circle cx="396.62" cy="553.11" r="0.65" fill="#c62033"/>
<circle cx="382.24" cy="536.95" r="0.65" fill="#c62033"/>
<circle cx="393.30" cy="553.70" r="0.65" fill="#c62033"/>
<circle cx="386.19" cy="529.90" r="0.65" fill="#c62033"/>
<circle cx="396.91" cy="531.78" r="0.65" fill="#c62033"/>
<circle cx="399.32" cy="534.70" r="0.65" fill="#c62033"/>
<circle cx="383.09" cy="550.61" r="0.65" fill="#c62033"/>
<circle cx="389.12" cy="548.99" r="0.65" fill="#c62033"/>
<circle cx="397.64" cy="550.55" r="0.65" fill="#c62033"/>
<circle cx="383.16" cy="536.79" r="0.65" fill="#c62033"/>
<circle cx="389.71" cy="556.42" r="0.65" fill="#c62033"/>
<circle cx="394.96" cy="555.94" r="0.65" fill="#c62033"/>
<circle cx="397.67" cy="550.29" r="0.65" fill="#c62033"/>
<circle cx="390.27" cy="547.03" r="0.65" fill="#c62033"/>
<circle cx="395.09" cy="530.10" r="0.65" fill="#c62033"/>
<circle cx="391.43" cy="541.14" r="0.65" fill="#c62033"/>
<circle cx="383.90" cy="555.88" r="0.65" fill="#c62033"/>
<circle cx="382.26" cy="550.98" r="0.65" fill="#c62033"/>
<circle cx="397.19" cy="549.23" r="0.65" fill="#c62033"/>
<circle cx="392.11" cy="536.21" r="0.65" fill="#c62033"/>
<circle cx="393.90" cy="557.10" r="0.65" fill="#c62033"/>
<circle cx="386.29" cy="544.55" r="0.65" fill="#c62033"/>
<circle cx="388.41" cy="530.25" r="0.65" fill="#c62033"/>
<circle cx="385.35" cy="540.64" r="0.65" fill="#c62033"/>
<circle cx="384.08" cy="537.66" r="0.65" fill="#c62033"/>
<circle cx="394.54" cy="549.36" r="0.65" fill="#c62033"/>
<circle cx="386.14" cy="535.52" r="0.65" fill="#c62033"/>
<circle cx="390.12" cy="543.70" r="0.65" fill="#c62033"/>
<circle cx="388.29" cy="556.11" r="0.65" fill="#c62033"/>
<circle cx="398.74" cy="537.33" r="0.65" fill="#c62033"/>
<circle cx="392.44" cy="532.69" r="0.65" fill="#c62033"/>
<circle cx="397.38" cy="538.34" r="0.65" fill="#c62033"/>
<circle cx="396.31" cy="544.67" r="0.65" fill="#c62033"/>
<circle cx="394.46" cy="533.49" r="0.65" fill="#c62033"/>
<circle cx="390.44" cy="546.16" r="0.65" fill="#c62033"/>
<circle cx="397.69" cy="551.10" r="0.65" fill="#c62033"/>
<circle cx="387.07" cy="531.88" r="0.65" fill="#c62033"/>
<circle cx="385.45" cy="539.13" r="0.65" fill="#c62033"/>
<circle cx="386.91" cy="530.28" r="0.65" fill="#c62033"/>
<circle cx="395.15" cy="534.31" r="0.65" fill="#c62033"/>
<circle cx="383.61" cy="541.72" r="0.65" fill="#c62033"/>
<circle cx="390.59" cy="538.07" r="0.65" fill="#c62033"/>
<circle cx="384.69" cy="539.21" r="0.65" fill="#c62033"/>
<circle cx="381.61" cy="530.62" r="0.65" fill="#c62033"/>
<circle cx="396.11" cy="557.77" r="0.65" fill="#c62033"/>
<circle cx="395.46" cy="530.98" r="0.65" fill="#c62033"/>
<circle cx="392.45" cy="557.42" r="0.65" fill="#c62033"/>
<circle cx="390.98" cy="531.71" r="0.65" fill="#c62033"/>
<circle cx="385.12" cy="541.31" r="0.65" fill="#c62033"/>
<circle cx="381.56" cy="544.52" r="0.65" fill="#c62033"/>
<circle cx="394.03" cy="555.63" r="0.65" fill="#c62033"/>
<circle cx="399.73" cy="547.02" r="0.65" fill="#c62033"/>
<circle cx="386.33" cy="547.75" r="0.65" fill="#c62033"/>
<circle cx="384.12" cy="535.76" r="0.65" fill="#c62033"/>
<circle cx="396.58" cy="529.32" r="0.65" fill="#c62033"/>
<circle cx="387.21" cy="553.27" r="0.65" fill="#c62033"/>
<circle cx="393.91" cy="533.98" r="0.65" fill="#c62033"/>
<circle cx="399.56" cy="553.45" r="0.65" fill="#c62033"/>
<circle cx="396.78" cy="533.47" r="0.65" fill="#c62033"/>
<circle cx="395.95" cy="553.00" r="0.65" fill="#c62033"/>
<circle cx="385.02" cy="538.14" r="0.65" fill="#c62033"/>
<circle cx="387.68" cy="552.85" r="0.65" fill="#c62033"/>
<circle cx="392.20" cy="539.37" r="0.65" fill="#c62033"/>
<circle cx="397.70" cy="539.39" r="0.65" fill="#c62033"/>
<circle cx="382.21" cy="535.56" r="0.65" fill="#c62033"/>
<circle cx="393.71" cy="545.22" r="0.65" fill="#c62033"/>
<circle cx="395.23" cy="552.68" r="0.65" fill="#c62033"/>
<circle cx="399.92" cy="555.20" r="0.65" fill="#c62033"/>
<circle cx="391.19" cy="543.08" r="0.65" fill="#c62033"/>
<circle cx="387.27" cy="533.15" r="0.65" fill="#c62033"/>
<circle cx="382.97" cy="545.64" r="0.65" fill="#c62033"/>
<circle cx="384.61" cy="548.80" r="0.65" fill="#c62033"/>
<circle cx="400.41" cy="541.57" r="0.65" fill="#c62033"/>
<circle cx="382.18" cy="531.15" r="0.65" fill="#c62033"/>
<circle cx="385.14" cy="541.47" r="0.65" fill="#c62033"/>
<circle cx="381.45" cy="549.83" r="0.65" fill="#c62033"/>
<circle cx="398.16" cy="553.30" r="0.65" fill="#c62033"/>
<circle cx="389.74" cy="551.71" r="0.65" fill="#c62033"/>
<circle cx="394.37" cy="536.86" r="0.65" fill="#c62033"/>
<circle cx="389.66" cy="543.68" r="0.65" fill="#c62033"/>
<circle cx="390.00" cy="538.49" r="0.65" fill="#c62033"/>
<circle cx="397.59" cy="548.15" r="0.65" fill="#c62033"/>
<circle cx="384.62" cy="555.17" r="0.65" fill="#c62033"/>
<circle cx="390.09" cy="537.22" r="0.65" fill="#c62033"/>
<circle cx="388.22" cy="545.12" r="0.65" fill="#c62033"/>
<circle cx="383.07" cy="534.26" r="0.65" fill="#c62033"/>
<circle cx="390.43" cy="538.05" r="0.65" fill="#c62033"/>
<circle cx="399.21" cy="557.15" r="0.65" fill="#c62033"/>
<circle cx="400.50" cy="554.03" r="0.65" fill="#c62033"/>
<circle cx="393.55" cy="556.87" r="0.65" fill="#c62033"/>
<circle cx="382.58" cy="552.43" r="0.65" fill="#c62033"/>
<circle cx="393.34" cy="548.46" r="0.65" fill="#c62033"/>
<circle cx="392.59" cy="537.26" r="0.65" fill="#c62033"/>
<circle cx="390.82" cy="556.61" r="0.65" fill="#c62033"/>
<circle cx="387.27" cy="547.60" r="0.65" fill="#c62033"/>
<circle cx="398.75" cy="538.63" r="0.65" fill="#c62033"/>
<circle cx="385.10" cy="529.32" r="0.65" fill="#c62033"/>
<circle cx="390.17" cy="548.52" r="0.65" fill="#c62033"/>
<circle cx="394.35" cy="531.01" r="0.65" fill="#c62033"/>
<circle cx="392.78" cy="539.47" r="0.65" fill="#c62033"/>
<circle cx="391.79" cy="540.78" r="0.65" fill="#c62033"/>
<circle cx="389.17" cy="545.16" r="0.65" fill="#c62033"/>
<circle cx="384.94" cy="531.87" r="0.65" fill="#c62033"/>
<circle cx="392.14" cy="554.75" r="0.65" fill="#c62033"/>
<circle cx="398.30" cy="531.81" r="0.65" fill="#c62033"/>
<circle cx="383.26" cy="535.98" r="0.65" fill="#c62033"/>
<circle cx="386.33" cy="544.16" r="0.65" fill="#c62033"/>
<circle cx="392.26" cy="542.93" r="0.65" fill="#c62033"/>
<circle cx="392.63" cy="535.18" r="0.65" fill="#c62033"/>
<circle cx="391.46" cy="531.83" r="0.65" fill="#c62033"/>
<circle cx="382.97" cy="545.86" r="0.65" fill="#c62033"/>
<circle cx="382.84" cy="540.54" r="0.65" fill="#c62033"/>
<circle cx="398.32" cy="541.47" r="0.65" fill="#c62033"/>
<circle cx="395.41" cy="544.74" r="0.65" fill="#c62033"/>
<circle cx="383.65" cy="550.83" r="0.65" fill="#c62033"/>
<circle cx="395.54" cy="557.72" r="0.65" fill="#c62033"/>
<circle cx="397.67" cy="531.51" r="0.65" fill="#c62033"/>
<circle cx="384.76" cy="540.06" r="0.65" fill="#c62033"/>
<circle cx="392.44" cy="556.82" r="0.65" fill="#c62033"/>
<circle cx="384.08" cy="551.36" r="0.65" fill="#c62033"/>
<circle cx="382.53" cy="551.40" r="0.65" fill="#c62033"/>
<circle cx="388.70" cy="535.49" r="0.65" fill="#c62033"/>
<circle cx="393.05" cy="528.95" r="0.65" fill="#c62033"/>
<circle cx="387.28" cy="534.79" r="0.65" fill="#c62033"/>
<circle cx="389.75" cy="549.37" r="0.65" fill="#c62033"/>
<circle cx="393.57" cy="554.71" r="0.65" fill="#c62033"/>
<circle cx="392.43" cy="554.23" r="0.65" fill="#c62033"/>
<circle cx="398.47" cy="555.57" r="0.65" fill="#c62033"/>
<circle cx="396.01" cy="533.46" r="0.65" fill="#c62033"/>
<circle cx="396.37" cy="538.57" r="0.65" fill="#c62033"/>
<circle cx="397.58" cy="548.58" r="0.65" fill="#c62033"/>
<circle cx="388.71" cy="532.12" r="0.65" fill="#c62033"/>
<circle cx="399.98" cy="550.25" r="0.65" fill="#c62033"/>
<circle cx="382.25" cy="549.79" r="0.65" fill="#c62033"/>
<circle cx="383.35" cy="546.31" r="0.65" fill="#c62033"/>
<circle cx="397.14" cy="544.69" r="0.65" fill="#c62033"/>
<circle cx="399.54" cy="531.83" r="0.65" fill="#c62033"/>
<circle cx="386.39" cy="548.42" r="0.65" fill="#c62033"/>
<circle cx="390.16" cy="534.20" r="0.65" fill="#c62033"/>
<circle cx="392.79" cy="553.23" r="0.65" fill="#c62033"/>
<circle cx="381.81" cy="531.85" r="0.65" fill="#c62033"/>
<circle cx="397.09" cy="531.76" r="0.65" fill="#c62033"/>
<circle cx="392.26" cy="533.97" r="0.65" fill="#c62033"/>
<circle cx="394.87" cy="537.06" r="0.65" fill="#c62033"/>
<circle cx="384.23" cy="539.73" r="0.65" fill="#c62033"/>
<circle cx="391.95" cy="554.32" r="0.65" fill="#c62033"/>
<circle cx="397.24" cy="548.84" r="0.65" fill="#c62033"/>
<circle cx="381.67" cy="556.49" r="0.65" fill="#c62033"/>
<circle cx="384.36" cy="538.60" r="0.65" fill="#c62033"/>
<circle cx="398.51" cy="543.30" r="0.65" fill="#c62033"/>
<circle cx="382.09" cy="552.11" r="0.65" fill="#c62033"/>
<circle cx="397.44" cy="533.88" r="0.65" fill="#c62033"/>
<circle cx="389.09" cy="548.55" r="0.65" fill="#c62033"/>
<circle cx="384.50" cy="542.53" r="0.65" fill="#c62033"/>
<circle cx="389.11" cy="553.43" r="0.65" fill="#c62033"/>
<circle cx="393.37" cy="554.25" r="0.65" fill="#c62033"/>
<circle cx="387.85" cy="530.74" r="0.65" fill="#c62033"/>
<circle cx="398.92" cy="534.88" r="0.65" fill="#c62033"/>
<circle cx="382.26" cy="545.88" r="0.65" fill="#c62033"/>
<circle cx="388.48" cy="533.51" r="0.65" fill="#c62033"/>
<circle cx="392.71" cy="542.30" r="0.65" fill="#c62033"/>
<circle cx="388.33" cy="539.94" r="0.65" fill="#c62033"/>
<circle cx="392.75" cy="528.68" r="0.65" fill="#c62033"/>
<circle cx="381.80" cy="538.35" r="0.65" fill="#c62033"/>
<circle cx="400.73" cy="542.05" r="0.65" fill="#c62033"/>
<circle cx="384.26" cy="529.84" r="0.65" fill="#c62033"/>
<circle cx="386.74" cy="548.29" r="0.65" fill="#c62033"/>
<circle cx="391.20" cy="536.56" r="0.65" fill="#c62033"/>
<circle cx="392.55" cy="536.23" r="0.65" fill="#c62033"/>
<circle cx="400.16" cy="544.08" r="0.65" fill="#c62033"/>
<circle cx="382.07" cy="557.77" r="0.65" fill="#c62033"/>
<circle cx="396.51" cy="545.04" r="0.65" fill="#c62033"/>
<circle cx="396.58" cy="554.24" r="0.65" fill="#c62033"/>
<circle cx="393.84" cy="547.18" r="0.65" fill="#c62033"/>
<circle cx="386.92" cy="539.21" r="0.65" fill="#c62033"/>
<circle cx="398.51" cy="551.96" r="0.65" fill="#c62033"/>
<circle cx="394.75" cy="556.19" r="0.65" fill="#c62033"/>
<circle cx="396.36" cy="537.47" r="0.65" fill="#c62033"/>
<circle cx="391.37" cy="550.32" r="0.65" fill="#c62033"/>
<circle cx="388.27" cy="547.24" r="0.65" fill="#c62033"/>
<circle cx="389.36" cy="544.75" r="0.65" fill="#c62033"/>
<circle cx="388.01" cy="530.28" r="0.65" fill="#c62033"/>
<circle cx="400.77" cy="538.03" r="0.65" fill="#c62033"/>
<circle cx="388.60" cy="542.70" r="0.65" fill="#c62033"/>
<circle cx="386.00" cy="535.68" r="0.65" fill="#c62033"/>
<circle cx="384.06" cy="538.80" r="0.65" fill="#c62033"/>
<circle cx="398.47" cy="528.71" r="0.65" fill="#c62033"/>
<circle cx="390.13" cy="541.87" r="0.65" fill="#c62033"/>
<circle cx="387.33" cy="545.28" r="0.65" fill="#c62033"/>
<circle cx="382.70" cy="533.48" r="0.65" fill="#c62033"/>
<circle cx="387.45" cy="537.39" r="0.65" fill="#c62033"/>
<circle cx="392.20" cy="549.94" r="0.65" fill="#c62033"/>
<circle cx="388.07" cy="556.15" r="0.65" fill="#c62033"/>
<circle cx="392.83" cy="555.68" r="0.65" fill="#c62033"/>
<circle cx="384.90" cy="530.86" r="0.65" fill="#c62033"/>
<circle cx="400.75" cy="545.62" r="0.65" fill="#c62033"/>
<circle cx="396.58" cy="539.03" r="0.65" fill="#c62033"/>
<circle cx="398.42" cy="541.13" r="0.65" fill="#c62033"/>
<circle cx="390.90" cy="530.50" r="0.65" fill="#c62033"/>
<circle cx="386.81" cy="555.02" r="0.65" fill="#c62033"/>
<circle cx="381.85" cy="536.10" r="0.65" fill="#c62033"/>
<circle cx="386.65" cy="533.35" r="0.65" fill="#c62033"/>
<circle cx="385.68" cy="549.28" r="0.65" fill="#c62033"/>
<circle cx="385.33" cy="540.29" r="0.65" fill="#c62033"/>
<circle cx="398.34" cy="546.29" r="0.65" fill="#c62033"/>
<circle cx="385.26" cy="547.62" r="0.65" fill="#c62033"/>
<circle cx="400.28" cy="550.15" r="0.65" fill="#c62033"/>
<circle cx="382.95" cy="546.23" r="0.65" fill="#c62033"/>
<circle cx="398.56" cy="552.38" r="0.65" fill="#c62033"/>
<circle cx="384.08" cy="538.56" r="0.65" fill="#c62033"/>
<circle cx="391.92" cy="534.05" r="0.65" fill="#c62033"/>
<circle cx="393.94" cy="554.33" r="0.65" fill="#c62033"/>
<circle cx="385.56" cy="555.73" r="0.65" fill="#c62033"/>
<circle cx="396.09" cy="538.14" r="0.65" fill="#c62033"/>
<circle cx="389.34" cy="547.64" r="0.65" fill="#c62033"/>
<circle cx="388.02" cy="548.53" r="0.65" fill="#c62033"/>
<circle cx="389.52" cy="530.19" r="0.65" fill="#c62033"/>
<circle cx="393.68" cy="529.84" r="0.65" fill="#c62033"/>
<circle cx="391.09" cy="538.37" r="0.65" fill="#c62033"/>
<circle cx="386.44" cy="546.14" r="0.65" fill="#c62033"/>
<circle cx="381.67" cy="542.17" r="0.65" fill="#c62033"/>
<circle cx="392.46" cy="555.80" r="0.65" fill="#c62033"/>
<circle cx="382.50" cy="557.63" r="0.65" fill="#c62033"/>
<circle cx="395.59" cy="546.61" r="0.65" fill="#c62033"/>
<circle cx="383.23" cy="538.21" r="0.65" fill="#c62033"/>
<circle cx="384.20" cy="533.11" r="0.65" fill="#c62033"/>
<circle cx="383.16" cy="551.13" r="0.65" fill="#c62033"/>
<circle cx="389.70" cy="552.51" r="0.65" fill="#c62033"/>
<circle cx="392.93" cy="544.39" r="0.65" fill="#c62033"/>
<circle cx="394.28" cy="544.87" r="0.65" fill="#c62033"/>
<circle cx="387.88" cy="546.25" r="0.65" fill="#c62033"/>
<circle cx="386.45" cy="550.36" r="0.65" fill="#c62033"/>
<circle cx="396.36" cy="549.49" r="0.65" fill="#c62033"/>
<circle cx="387.46" cy="551.39" r="0.65" fill="#c62033"/>
<circle cx="400.56" cy="551.29" r="0.65" fill="#c62033"/>
<circle cx="386.85" cy="541.87" r="0.65" fill="#c62033"/>
<circle cx="399.84" cy="543.94" r="0.65" fill="#c62033"/>
<circle cx="381.58" cy="532.39" r="0.65" fill="#c62033"/>
<circle cx="394.25" cy="542.54" r="0.65" fill="#c62033"/>
<circle cx="388.50" cy="551.34" r="0.65" fill="#c62033"/>
<circle cx="385.87" cy="557.69" r="0.65" fill="#c62033"/>
<circle cx="383.16" cy="550.82" r="0.65" fill="#c62033"/>
<circle cx="384.03" cy="529.32" r="0.65" fill="#c62033"/>
<circle cx="391.24" cy="530.27" r="0.65" fill="#c62033"/>
<circle cx="384.96" cy="544.88" r="0.65" fill="#c62033"/>
<circle cx="388.57" cy="556.22" r="0.65" fill="#c62033"/>
<circle cx="384.88" cy="532.90" r="0.65" fill="#c62033"/>
<circle cx="399.46" cy="550.26" r="0.65" fill="#c62033"/>
<circle cx="381.97" cy="533.28" r="0.65" fill="#c62033"/>
<circle cx="386.15" cy="551.45" r="0.65" fill="#c62033"/>
<circle cx="391.18" cy="557.48" r="0.65" fill="#c62033"/>
<circle cx="388.15" cy="547.27" r="0.65" fill="#c62033"/>
<circle cx="390.42" cy="552.12" r="0.65" fill="#c62033"/>
<circle cx="399.11" cy="538.05" r="0.65" fill="#c62033"/>
<circle cx="395.77" cy="531.68" r="0.65" fill="#c62033"/>
<circle cx="394.05" cy="530.43" r="0.65" fill="#c62033"/>
<circle cx="398.34" cy="540.35" r="0.65" fill="#c62033"/>
<circle cx="392.46" cy="530.27" r="0.65" fill="#c62033"/>
<circle cx="399.41" cy="540.59" r="0.65" fill="#c62033"/>
<circle cx="393.69" cy="556.38" r="0.65" fill="#c62033"/>
<circle cx="386.34" cy="535.11" r="0.65" fill="#c62033"/>
<circle cx="389.90" cy="536.24" r="0.65" fill="#c62033"/>
<circle cx="385.38" cy="535.33" r="0.65" fill="#c62033"/>
<circle cx="394.00" cy="550.90" r="0.65" fill="#c62033"/>
<circle cx="400.89" cy="537.30" r="0.65" fill="#c62033"/>
<circle cx="392.56" cy="534.89" r="0.65" fill="#c62033"/>
<circle cx="398.32" cy="533.12" r="0.65" fill="#c62033"/>
<circle cx="386.64" cy="554.14" r="0.65" fill="#c62033"/>
<circle cx="397.53" cy="550.67" r="0.65" fill="#c62033"/>
<circle cx="387.90" cy="536.84" r="0.65" fill="#c62033"/>
<circle cx="398.86" cy="542.82" r="0.65" fill="#c62033"/>
<circle cx="394.78" cy="533.27" r="0.65" fill="#c62033"/>
<circle cx="390.28" cy="546.13" r="0.65" fill="#c62033"/>
<circle cx="398.70" cy="545.59" r="0.65" fill="#c62033"/>
<circle cx="398.72" cy="534.69" r="0.65" fill="#c62033"/>
<circle cx="396.68" cy="539.13" r="0.65" fill="#c62033"/>
<circle cx="384.97" cy="553.97" r="0.65" fill="#c62033"/>
<circle cx="400.90" cy="553.99" r="0.65" fill="#c62033"/>
<circle cx="381.88" cy="537.28" r="0.65" fill="#c62033"/>
<circle cx="400.50" cy="531.79" r="0.65" fill="#c62033"/>
<circle cx="399.27" cy="528.78" r="0.65" fill="#c62033"/>
<circle cx="395.83" cy="532.95" r="0.65" fill="#c62033"/>
<circle cx="384.71" cy="531.38" r="0.65" fill="#c62033"/>
<circle cx="383.17" cy="548.64" r="0.65" fill="#c62033"/>
<circle cx="399.40" cy="538.52" r="0.65" fill="#c62033"/>
<circle cx="398.69" cy="549.63" r="0.65" fill="#c62033"/>
<circle cx="382.05" cy="557.40" r="0.65" fill="#c62033"/>
<circle cx="396.93" cy="535.42" r="0.65" fill="#c62033"/>
<circle cx="382.14" cy="548.84" r="0.65" fill="#c62033"/>
<circle cx="385.94" cy="543.39" r="0.65" fill="#c62033"/>
<circle cx="383.46" cy="541.20" r="0.65" fill="#c62033"/>
<circle cx="400.82" cy="529.09" r="0.65" fill="#c62033"/>
<circle cx="398.62" cy="537.84" r="0.65" fill="#c62033"/>
<circle cx="390.95" cy="532.05" r="0.65" fill="#c62033"/>
<circle cx="389.80" cy="532.51" r="0.65" fill="#c62033"/>
<circle cx="394.83" cy="533.78" r="0.65" fill="#c62033"/>
<circle cx="395.87" cy="532.86" r="0.65" fill="#c62033"/>
<circle cx="383.60" cy="543.27" r="0.65" fill="#c62033"/>
<circle cx="391.13" cy="538.93" r="0.65" fill="#c62033"/>
<circle cx="388.25" cy="555.60" r="0.65" fill="#c62033"/>
<circle cx="400.36" cy="534.85" r="0.65" fill="#c62033"/>
<circle cx="395.74" cy="554.55" r="0.65" fill="#c62033"/>
<circle cx="384.87" cy="536.55" r="0.65" fill="#c62033"/>
<circle cx="382.75" cy="536.31" r="0.65" fill="#c62033"/>
<circle cx="391.37" cy="529.77" r="0.65" fill="#c62033"/>
<circle cx="392.31" cy="540.54" r="0.65" fill="#c62033"/>
<circle cx="381.61" cy="539.20" r="0.65" fill="#c62033"/>
<circle cx="394.20" cy="548.80" r="0.65" fill="#c62033"/>
<circle cx="392.16" cy="544.55" r="0.65" fill="#c62033"/>
<circle cx="400.65" cy="548.86" r="0.65" fill="#c62033"/>
<circle cx="395.47" cy="554.29" r="0.65" fill="#c62033"/>
<circle cx="387.64" cy="540.28" r="0.65" fill="#c62033"/>
<circle cx="400.47" cy="540.86" r="0.65" fill="#c62033"/>
<circle cx="388.95" cy="539.92" r="0.65" fill="#c62033"/>
<circle cx="384.20" cy="540.59" r="0.65" fill="#c62033"/>
<circle cx="381.50" cy="557.95" r="0.65" fill="#c62033"/>
<circle cx="399.56" cy="546.43" r="0.65" fill="#c62033"/>
<circle cx="393.37" cy="536.01" r="0.65" fill="#c62033"/>
<circle cx="386.12" cy="539.62" r="0.65" fill="#c62033"/>
<circle cx="383.68" cy="534.35" r="0.65" fill="#c62033"/>
<circle cx="396.77" cy="553.37" r="0.65" fill="#c62033"/>
<circle cx="382.37" cy="555.30" r="0.65" fill="#c62033"/>
<circle cx="387.76" cy="548.98" r="0.65" fill="#c62033"/>
<circle cx="392.16" cy="547.56" r="0.65" fill="#c62033"/>
<circle cx="400.44" cy="537.81" r="0.65" fill="#c62033"/>
<circle cx="396.03" cy="528.53" r="0.65" fill="#c62033"/>
<circle cx="391.40" cy="553.68" r="0.65" fill="#c62033"/>
<circle cx="400.90" cy="545.97" r="0.65" fill="#c62033"/>
<circle cx="393.74" cy="535.42" r="0.65" fill="#c62033"/>
<circle cx="388.83" cy="550.43" r="0.65" fill="#c62033"/>
<circle cx="389.11" cy="549.51" r="0.65" fill="#c62033"/>
<circle cx="393.41" cy="544.02" r="0.65" fill="#c62033"/>
<circle cx="387.71" cy="548.48" r="0.65" fill="#c62033"/>
<circle cx="392.04" cy="547.05" r="0.65" fill="#c62033"/>
<circle cx="393.41" cy="535.09" r="0.65" fill="#c62033"/>
<circle cx="399.21" cy="536.32" r="0.65" fill="#c62033"/>
<circle cx="395.54" cy="542.46" r="0.65" fill="#c62033"/>
<circle cx="390.74" cy="543.90" r="0.65" fill="#c62033"/>
<circle cx="384.18" cy="535.03" r="0.65" fill="#c62033"/>
<circle cx="391.76" cy="555.86" r="0.65" fill="#c62033"/>
<circle cx="391.74" cy="543.96" r="0.65" fill="#c62033"/>
<circle cx="386.08" cy="552.49" r="0.65" fill="#c62033"/>
<circle cx="397.51" cy="533.58" r="0.65" fill="#c62033"/>
<circle cx="393.95" cy="542.08" r="0.65" fill="#c62033"/>
<circle cx="398.92" cy="552.91" r="0.65" fill="#c62033"/>
<circle cx="382.25" cy="554.10" r="0.65" fill="#c62033"/>
<circle cx="397.71" cy="539.75" r="0.65" fill="#c62033"/>
<circle cx="383.81" cy="552.62" r="0.65" fill="#c62033"/>
<circle cx="386.33" cy="533.04" r="0.65" fill="#c62033"/>
<circle cx="388.39" cy="531.53" r="0.65" fill="#c62033"/>
<circle cx="391.62" cy="552.19" r="0.65" fill="#c62033"/>
<circle cx="383.12" cy="541.86" r="0.65" fill="#c62033"/>
<circle cx="400.94" cy="540.17" r="0.65" fill="#c62033"/>
<circle cx="390.21" cy="549.00" r="0.65" fill="#c62033"/>
<circle cx="397.05" cy="542.61" r="0.65" fill="#c62033"/>
<circle cx="384.34" cy="550.88" r="0.65" fill="#c62033"/>
<circle cx="388.59" cy="548.57" r="0.65" fill="#c62033"/>
<circle cx="386.06" cy="543.86" r="0.65" fill="#c62033"/>
<circle cx="388.07" cy="539.44" r="0.65" fill="#c62033"/>
<circle cx="381.75" cy="539.74" r="0.65" fill="#c62033"/>
<circle cx="392.58" cy="534.43" r="0.65" fill="#c62033"/>
<circle cx="384.90" cy="530.20" r="0.65" fill="#c62033"/>
<circle cx="386.78" cy="549.69" r="0.65" fill="#c62033"/>
<circle cx="386.14" cy="538.06" r="0.65" fill="#c62033"/>
<circle cx="383.19" cy="553.11" r="0.65" fill="#c62033"/>
<circle cx="398.23" cy="547.27" r="0.65" fill="#c62033"/>
<circle cx="389.69" cy="534.45" r="0.65" fill="#c62033"/>
<circle cx="393.51" cy="551.87" r="0.65" fill="#c62033"/>
<circle cx="382.26" cy="539.46" r="0.65" fill="#c62033"/>
<circle cx="388.60" cy="541.55" r="0.65" fill="#c62033"/>
<circle cx="387.19" cy="549.52" r="0.65" fill="#c62033"/>
<circle cx="394.10" cy="540.53" r="0.65" fill="#c62033"/>
<circle cx="388.31" cy="552.42" r="0.65" fill="#c62033"/>
<circle cx="392.74" cy="539.87" r="0.65" fill="#c62033"/>
<circle cx="385.16" cy="555.78" r="0.65" fill="#c62033"/>
<circle cx="395.35" cy="557.16" r="0.65" fill="#c62033"/>
<circle cx="394.45" cy="539.48" r="0.65" fill="#c62033"/>
<circle cx="382.79" cy="538.22" r="0.65" fill="#c62033"/>
<circle cx="388.84" cy="550.80" r="0.65" fill="#c62033"/>
<circle cx="391.13" cy="544.01" r="0.65" fill="#c62033"/>
<circle cx="396.24" cy="555.09" r="0.65" fill="#c62033"/>
<circle cx="393.02" cy="529.25" r="0.65" fill="#c62033"/>
<circle cx="390.46" cy="542.14" r="0.65" fill="#c62033"/>
<circle cx="389.53" cy="553.27" r="0.65" fill="#c62033"/>
<circle cx="398.85" cy="542.47" r="0.65" fill="#c62033"/>
<circle cx="391.03" cy="541.48" r="0.65" fill="#c62033"/>
<circle cx="397.56" cy="543.60" r="0.65" fill="#c62033"/>
<circle cx="395.91" cy="548.28" r="0.65" fill="#c62033"/>
<circle cx="382.20" cy="540.35" r="0.65" fill="#c62033"/>
<circle cx="392.26" cy="548.56" r="0.65" fill="#c62033"/>
<circle cx="396.49" cy="551.19" r="0.65" fill="#c62033"/>
<circle cx="385.73" cy="531.98" r="0.65" fill="#c62033"/>
<circle cx="397.42" cy="530.78" r="0.65" fill="#c62033"/>
<circle cx="383.13" cy="531.50" r="0.65" fill="#c62033"/>
<circle cx="392.46" cy="550.72" r="0.65" fill="#c62033"/>
<circle cx="394.75" cy="530.12" r="0.65" fill="#c62033"/>
<circle cx="390.86" cy="549.48" r="0.65" fill="#c62033"/>
<circle cx="394.94" cy="530.12" r="0.65" fill="#c62033"/>
<circle cx="392.85" cy="540.83" r="0.65" fill="#c62033"/>
<circle cx="397.41" cy="557.94" r="0.65" fill="#c62033"/>
<circle cx="384.25" cy="554.22" r="0.65" fill="#c62033"/>
<circle cx="391.56" cy="538.36" r="0.65" fill="#c62033"/>
<circle cx="400.78" cy="528.68" r="0.65" fill="#c62033"/>
<circle cx="386.54" cy="536.60" r="0.65" fill="#c62033"/>
<circle cx="386.40" cy="537.73" r="0.65" fill="#c62033"/>
<circle cx="392.29" cy="553.84" r="0.65" fill="#c62033"/>
<circle cx="389.64" cy="543.57" r="0.65" fill="#c62033"/>
<circle cx="387.37" cy="530.01" r="0.65" fill="#c62033"/>
<circle cx="397.12" cy="554.07" r="0.65" fill="#c62033"/>
<circle cx="386.44" cy="553.77" r="0.65" fill="#c62033"/>
<circle cx="382.42" cy="534.46" r="0.65" fill="#c62033"/>
<circle cx="388.73" cy="544.34" r="0.65" fill="#c62033"/>
<circle cx="390.98" cy="542.19" r="0.65" fill="#c62033"/>
<circle cx="388.57" cy="545.72" r="0.65" fill="#c62033"/>
<circle cx="385.33" cy="552.14" r="0.65" fill="#c62033"/>
<circle cx="392.30" cy="555.62" r="0.65" fill="#c62033"/>
<circle cx="387.56" cy="530.01" r="0.65" fill="#c62033"/>
<circle cx="389.42" cy="544.23" r="0.65" fill="#c62033"/>
<circle cx="387.74" cy="545.17" r="0.65" fill="#c62033"/>
<circle cx="397.00" cy="536.57" r="0.65" fill="#c62033"/>
<circle cx="395.33" cy="537.10" r="0.65" fill="#c62033"/>
<circle cx="393.01" cy="552.17" r="0.65" fill="#c62033"/>
<circle cx="399.72" cy="541.91" r="0.65" fill="#c62033"/>
<circle cx="398.61" cy="541.62" r="0.65" fill="#c62033"/>
<circle cx="389.90" cy="530.20" r="0.65" fill="#c62033"/>
<circle cx="382.36" cy="547.36" r="0.65" fill="#c62033"/>
<circle cx="382.81" cy="553.95" r="0.65" fill="#c62033"/>
<circle cx="384.93" cy="546.09" r="0.65" fill="#c62033"/>
<circle cx="392.40" cy="555.71" r="0.65" fill="#c62033"/>
<circle cx="391.17" cy="552.12" r="0.65" fill="#c62033"/>
<circle cx="394.63" cy="548.38" r="0.65" fill="#c62033"/>
<circle cx="385.54" cy="537.20" r="0.65" fill="#c62033"/>
<circle cx="384.26" cy="553.23" r="0.65" fill="#c62033"/>
<circle cx="385.46" cy="555.58" r="0.65" fill="#c62033"/>
<circle cx="383.27" cy="531.48" r="0.65" fill="#c62033"/>
<circle cx="400.04" cy="551.64" r="0.65" fill="#c62033"/>
<circle cx="394.31" cy="540.73" r="0.65" fill="#c62033"/>
<circle cx="399.16" cy="536.10" r="0.65" fill="#c62033"/>
<circle cx="384.43" cy="548.73" r="0.65" fill="#c62033"/>
<circle cx="395.04" cy="530.17" r="0.65" fill="#c62033"/>
<circle cx="397.79" cy="529.73" r="0.65" fill="#c62033"/>
<circle cx="385.96" cy="537.16" r="0.65" fill="#c62033"/>
<circle cx="387.65" cy="545.67" r="0.65" fill="#c62033"/>
<circle cx="384.42" cy="545.04" r="0.65" fill="#c62033"/>
<circle cx="387.76" cy="555.40" r="0.65" fill="#c62033"/>
<circle cx="384.38" cy="553.32" r="0.65" fill="#c62033"/>
<circle cx="400.61" cy="552.08" r="0.65" fill="#c62033"/>
<circle cx="382.05" cy="540.05" r="0.65" fill="#c62033"/>
<circle cx="393.96" cy="539.71" r="0.65" fill="#c62033"/>
<circle cx="392.10" cy="535.09" r="0.65" fill="#c62033"/>
<circle cx="390.50" cy="531.26" r="0.65" fill="#c62033"/>
<circle cx="389.83" cy="549.98" r="0.65" fill="#c62033"/>
<circle cx="383.64" cy="548.53" r="0.65" fill="#c62033"/>
<circle cx="383.79" cy="552.94" r="0.65" fill="#c62033"/>
<circle cx="400.92" cy="555.74" r="0.65" fill="#c62033"/>
<circle cx="391.72" cy="556.21" r="0.65" fill="#c62033"/>
<circle cx="388.22" cy="537.08" r="0.65" fill="#c62033"/>
<circle cx="391.13" cy="550.64" r="0.65" fill="#c62033"/>
<circle cx="383.22" cy="555.93" r="0.65" fill="#c62033"/>
<circle cx="398.33" cy="542.80" r="0.65" fill="#c62033"/>
<circle cx="392.00" cy="546.13" r="0.65" fill="#c62033"/>
<circle cx="384.14" cy="531.11" r="0.65" fill="#c62033"/>
<circle cx="398.90" cy="536.50" r="0.65" fill="#c62033"/>
<circle cx="385.85" cy="553.44" r="0.65" fill="#c62033"/>
<circle cx="382.04" cy="555.78" r="0.65" fill="#c62033"/>
<circle cx="400.36" cy="546.16" r="0.65" fill="#c62033"/>
<circle cx="399.91" cy="538.66" r="0.65" fill="#c62033"/>
<circle cx="382.38" cy="547.87" r="0.65" fill="#c62033"/>
<circle cx="390.21" cy="538.33" r="0.65" fill="#c62033"/>
<circle cx="395.95" cy="535.80" r="0.65" fill="#c62033"/>
<circle cx="396.84" cy="533.78" r="0.65" fill="#c62033"/>
<circle cx="382.76" cy="537.30" r="0.65" fill="#c62033"/>
<circle cx="383.28" cy="545.00" r="0.65" fill="#c62033"/>
<circle cx="396.84" cy="544.77" r="0.65" fill="#c62033"/>
<circle cx="390.44" cy="546.07" r="0.65" fill="#c62033"/>
<circle cx="391.46" cy="529.49" r="0.65" fill="#c62033"/>
<circle cx="394.08" cy="531.37" r="0.65" fill="#c62033"/>
<circle cx="392.73" cy="532.39" r="0.65" fill="#c62033"/>
<circle cx="388.74" cy="538.91" r="0.65" fill="#c62033"/>
<circle cx="384.61" cy="548.06" r="0.65" fill="#c62033"/>
<circle cx="399.85" cy="533.51" r="0.65" fill="#c62033"/>
<circle cx="397.91" cy="538.28" r="0.65" fill="#c62033"/>
<circle cx="390.81" cy="554.27" r="0.65" fill="#c62033"/>
<circle cx="383.24" cy="532.90" r="0.65" fill="#c62033"/>
<circle cx="383.69" cy="554.43" r="0.65" fill="#c62033"/>
<circle cx="391.91" cy="543.14" r="0.65" fill="#c62033"/>
<circle cx="390.57" cy="531.97" r="0.65" fill="#c62033"/>
<circle cx="391.90" cy="533.34" r="0.65" fill="#c62033"/>
<circle cx="388.59" cy="543.45" r="0.65" fill="#c62033"/>
<circle cx="389.31" cy="534.33" r="0.65" fill="#c62033"/>
<circle cx="383.89" cy="534.50" r="0.65" fill="#c62033"/>
<circle cx="398.48" cy="535.58" r="0.65" fill="#c62033"/>
<circle cx="398.86" cy="543.30" r="0.65" fill="#c62033"/>
<circle cx="399.89" cy="528.95" r="0.65" fill="#c62033"/>
<circle cx="396.90" cy="542.91" r="0.65" fill="#c62033"/>
<circle cx="394.90" cy="545.33" r="0.65" fill="#c62033"/>
<circle cx="396.10" cy="535.26" r="0.65" fill="#c62033"/>
<circle cx="386.58" cy="533.03" r="0.65" fill="#c62033"/>
<circle cx="389.11" cy="529.41" r="0.65" fill="#c62033"/>
<circle cx="387.12" cy="543.78" r="0.65" fill="#c62033"/>
<circle cx="383.05" cy="554.77" r="0.65" fill="#c62033"/>
<circle cx="385.98" cy="545.57" r="0.65" fill="#c62033"/>
<circle cx="396.77" cy="546.06" r="0.65" fill="#c62033"/>
<circle cx="382.62" cy="549.47" r="0.65" fill="#c62033"/>
<circle cx="393.14" cy="535.75" r="0.65" fill="#c62033"/>
<circle cx="382.21" cy="557.50" r="0.65" fill="#c62033"/>
<circle cx="394.96" cy="546.74" r="0.65" fill="#c62033"/>
<circle cx="388.10" cy="552.53" r="0.65" fill="#c62033"/>
<circle cx="390.45" cy="552.41" r="0.65" fill="#c62033"/>
<circle cx="381.61" cy="555.66" r="0.65" fill="#c62033"/>
<circle cx="389.47" cy="556.24" r="0.65" fill="#c62033"/>
<circle cx="383.13" cy="540.51" r="0.65" fill="#c62033"/>
<circle cx="395.78" cy="535.72" r="0.65" fill="#c62033"/>
<circle cx="384.36" cy="548.52" r="0.65" fill="#c62033"/>
<circle cx="384.15" cy="538.66" r="0.65" fill="#c62033"/>
<circle cx="385.71" cy="534.35" r="0.65" fill="#c62033"/>
<circle cx="400.53" cy="538.27" r="0.65" fill="#c62033"/>
<circle cx="396.92" cy="557.92" r="0.65" fill="#c62033"/>
<circle cx="391.15" cy="542.65" r="0.65" fill="#c62033"/>
<circle cx="399.20" cy="551.49" r="0.65" fill="#c62033"/>
<circle cx="393.87" cy="550.67" r="0.65" fill="#c62033"/>
<circle cx="393.65" cy="534.37" r="0.65" fill="#c62033"/>
<circle cx="396.82" cy="553.45" r="0.65" fill="#c62033"/>
<circle cx="395.46" cy="531.23" r="0.65" fill="#c62033"/>
<circle cx="384.58" cy="538.80" r="0.65" fill="#c62033"/>
<circle cx="394.59" cy="556.99" r="0.65" fill="#c62033"/>
<circle cx="384.04" cy="550.49" r="0.65" fill="#c62033"/>
<circle cx="399.77" cy="552.94" r="0.65" fill="#c62033"/>
<circle cx="396.00" cy="555.19" r="0.65" fill="#c62033"/>
<circle cx="397.12" cy="553.06" r="0.65" fill="#c62033"/>
<circle cx="389.93" cy="545.92" r="0.65" fill="#c62033"/>
<circle cx="396.77" cy="552.84" r="0.65" fill="#c62033"/>
<circle cx="387.26" cy="554.19" r="0.65" fill="#c62033"/>
<circle cx="391.82" cy="556.85" r="0.65" fill="#c62033"/>
<circle cx="383.67" cy="556.41" r="0.65" fill="#c62033"/>
<circle cx="396.83" cy="557.07" r="0.65" fill="#c62033"/>
<circle cx="397.83" cy="535.93" r="0.65" fill="#c62033"/>
<circle cx="385.28" cy="535.35" r="0.65" fill="#c62033"/>
<circle cx="386.04" cy="542.01" r="0.65" fill="#c62033"/>
<circle cx="399.20" cy="543.03" r="0.65" fill="#c62033"/>
<circle cx="395.32" cy="548.72" r="0.65" fill="#c62033"/>
<circle cx="396.76" cy="540.06" r="0.65" fill="#c62033"/>
<circle cx="394.78" cy="551.91" r="0.65" fill="#c62033"/>
<circle cx="397.59" cy="556.28" r="0.65" fill="#c62033"/>
<circle cx="383.11" cy="540.48" r="0.65" fill="#c62033"/>
<circle cx="397.79" cy="547.75" r="0.65" fill="#c62033"/>
<circle cx="393.06" cy="538.52" r="0.65" fill="#c62033"/>
<circle cx="396.94" cy="553.17" r="0.65" fill="#c62033"/>
<circle cx="390.99" cy="528.63" r="0.65" fill="#c62033"/>
<circle cx="383.57" cy="528.98" r="0.65" fill="#c62033"/>
<circle cx="389.61" cy="552.47" r="0.65" fill="#c62033"/>
<circle cx="390.37" cy="546.34" r="0.65" fill="#c62033"/>
<circle cx="385.59" cy="538.39" r="0.65" fill="#c62033"/>
<circle cx="397.95" cy="538.93" r="0.65" fill="#c62033"/>
<circle cx="387.13" cy="546.77" r="0.65" fill="#c62033"/>
<circle cx="386.71" cy="531.10" r="0.65" fill="#c62033"/>
<circle cx="390.06" cy="549.18" r="0.65" fill="#c62033"/>
<circle cx="397.22" cy="548.00" r="0.65" fill="#c62033"/>
<circle cx="394.79" cy="532.06" r="0.65" fill="#c62033"/>
<circle cx="397.53" cy="529.72" r="0.65" fill="#c62033"/>
<circle cx="386.72" cy="533.93" r="0.65" fill="#c62033"/>
<circle cx="388.50" cy="556.75" r="0.65" fill="#c62033"/>
<circle cx="398.84" cy="535.11" r="0.65" fill="#c62033"/>
<circle cx="398.92" cy="546.50" r="0.65" fill="#c62033"/>
<circle cx="391.19" cy="540.13" r="0.65" fill="#c62033"/>
<circle cx="391.33" cy="556.70" r="0.65" fill="#c62033"/>
<circle cx="385.11" cy="557.66" r="0.65" fill="#c62033"/>
<circle cx="384.58" cy="553.00" r="0.65" fill="#c62033"/>
<circle cx="381.41" cy="544.05" r="0.65" fill="#c62033"/>
<circle cx="399.92" cy="533.67" r="0.65" fill="#c62033"/>
<circle cx="397.26" cy="541.91" r="0.65" fill="#c62033"/>
<circle cx="388.31" cy="535.90" r="0.65" fill="#c62033"/>
<circle cx="392.23" cy="531.48" r="0.65" fill="#c62033"/>
<circle cx="391.47" cy="553.94" r="0.65" fill="#c62033"/>
<circle cx="399.60" cy="539.61" r="0.65" fill="#c62033"/>
<circle cx="394.46" cy="554.87" r="0.65" fill="#c62033"/>
<circle cx="393.63" cy="530.74" r="0.65" fill="#c62033"/>
<circle cx="400.17" cy="541.60" r="0.65" fill="#c62033"/>
<circle cx="394.36" cy="539.17" r="0.65" fill="#c62033"/>
<circle cx="388.77" cy="547.14" r="0.65" fill="#c62033"/>
<circle cx="394.66" cy="543.90" r="0.65" fill="#c62033"/>
<circle cx="391.16" cy="555.26" r="0.65" fill="#c62033"/>
<circle cx="400.53" cy="539.23" r="0.65" fill="#c62033"/>
<circle cx="397.76" cy="530.18" r="0.65" fill="#c62033"/>
<circle cx="392.33" cy="548.66" r="0.65" fill="#c62033"/>
<circle cx="396.12" cy="541.71" r="0.65" fill="#c62033"/>
<circle cx="395.69" cy="554.79" r="0.65" fill="#c62033"/>
<circle cx="382.09" cy="550.62" r="0.65" fill="#c62033"/>
<circle cx="384.09" cy="538.09" r="0.65" fill="#c62033"/>
<circle cx="398.87" cy="556.61" r="0.65" fill="#c62033"/>
<circle cx="392.92" cy="532.76" r="0.65" fill="#c62033"/>
<circle cx="382.31" cy="545.51" r="0.65" fill="#c62033"/>
<circle cx="396.05" cy="540.07" r="0.65" fill="#c62033"/>
<circle cx="386.91" cy="547.42" r="0.65" fill="#c62033"/>
<circle cx="387.11" cy="550.99" r="0.65" fill="#c62033"/>
<circle cx="389.65" cy="544.56" r="0.65" fill="#c62033"/>
<circle cx="394.12" cy="557.36" r="0.65" fill="#c62033"/>
<circle cx="394.66" cy="552.24" r="0.65" fill="#c62033"/>
<circle cx="400.28" cy="539.72" r="0.65" fill="#c62033"/>
<circle cx="394.94" cy="549.44" r="0.65" fill="#c62033"/>
<circle cx="384.57" cy="536.69" r="0.65" fill="#c62033"/>
<circle cx="397.59" cy="545.47" r="0.65" fill="#c62033"/>
<circle cx="388.21" cy="551.91" r="0.65" fill="#c62033"/>
<circle cx="391.51" cy="532.63" r="0.65" fill="#c62033"/>
<circle cx="384.58" cy="554.38" r="0.65" fill="#c62033"/>
<circle cx="384.75" cy="550.28" r="0.65" fill="#c62033"/>
<circle cx="382.45" cy="537.70" r="0.65" fill="#c62033"/>
<circle cx="388.91" cy="537.28" r="0.65" fill="#c62033"/>
<circle cx="400.26" cy="557.02" r="0.65" fill="#c62033"/>
<circle cx="387.46" cy="534.02" r="0.65" fill="#c62033"/>
<circle cx="385.27" cy="556.34" r="0.65" fill="#c62033"/>
<circle cx="389.99" cy="537.97" r="0.65" fill="#c62033"/>
<circle cx="386.50" cy="531.70" r="0.65" fill="#c62033"/>
<circle cx="388.96" cy="540.12" r="0.65" fill="#c62033"/>
<circle cx="386.63" cy="556.93" r="0.65" fill="#c62033"/>
<circle cx="399.21" cy="534.52" r="0.65" fill="#c62033"/>
<circle cx="397.81" cy="541.78" r="0.65" fill="#c62033"/>
<circle cx="396.66" cy="547.29" r="0.65" fill="#c62033"/>
<circle cx="384.38" cy="537.79" r="0.65" fill="#c62033"/>
<circle cx="390.62" cy="550.83" r="0.65" fill="#c62033"/>
<circle cx="394.54" cy="544.98" r="0.65" fill="#c62033"/>
<circle cx="386.80" cy="550.70" r="0.65" fill="#c62033"/>
<circle cx="399.38" cy="539.20" r="0.65" fill="#c62033"/>
<circle cx="387.05" cy="544.12" r="0.65" fill="#c62033"/>
<circle cx="386.49" cy="547.09" r="0.65" fill="#c62033"/>
<circle cx="382.21" cy="551.26" r="0.65" fill="#c62033"/>
<circle cx="392.50" cy="552.89" r="0.65" fill="#c62033"/>
<circle cx="399.82" cy="538.93" r="0.65" fill="#c62033"/>
<circle cx="386.17" cy="536.33" r="0.65" fill="#c62033"/>
<circle cx="392.15" cy="530.56" r="0.65" fill="#c62033"/>
<circle cx="394.69" cy="550.74" r="0.65" fill="#c62033"/>
<circle cx="397.23" cy="540.68" r="0.65" fill="#c62033"/>
<circle cx="387.42" cy="531.78" r="0.65" fill="#c62033"/>
<circle cx="400.36" cy="547.52" r="0.65" fill="#c62033"/>
<circle cx="394.96" cy="547.20" r="0.65" fill="#c62033"/>
<circle cx="389.13" cy="551.35" r="0.65" fill="#c62033"/>
<circle cx="395.95" cy="556.24" r="0.65" fill="#c62033"/>
<circle cx="389.09" cy="538.58" r="0.65" fill="#c62033"/>
<circle cx="388.25" cy="552.27" r="0.65" fill="#c62033"/>
<circle cx="398.48" cy="533.98" r="0.65" fill="#c62033"/>
<circle cx="391.62" cy="544.19" r="0.65" fill="#c62033"/>
<circle cx="399.07" cy="548.25" r="0.65" fill="#c62033"/>
<circle cx="388.04" cy="532.44" r="0.65" fill="#c62033"/>
<circle cx="389.50" cy="530.45" r="0.65" fill="#c62033"/>
<circle cx="398.10" cy="543.31" r="0.65" fill="#c62033"/>
<circle cx="392.73" cy="548.20" r="0.65" fill="#c62033"/>
<circle cx="392.64" cy="540.41" r="0.65" fill="#c62033"/>
<circle cx="397.96" cy="536.58" r="0.65" fill="#c62033"/>
<circle cx="397.83" cy="551.76" r="0.65" fill="#c62033"/>
<circle cx="394.56" cy="532.96" r="0.65" fill="#c62033"/>
<circle cx="391.21" cy="550.75" r="0.65" fill="#c62033"/>
<circle cx="399.02" cy="555.00" r="0.65" fill="#c62033"/>
<circle cx="397.49" cy="550.42" r="0.65" fill="#c62033"/>
<circle cx="398.62" cy="547.64" r="0.65" fill="#c62033"/>
<circle cx="395.20" cy="532.37" r="0.65" fill="#c62033"/>
<circle cx="393.40" cy="549.26" r="0.65" fill="#c62033"/>
<circle cx="382.72" cy="536.61" r="0.65" fill="#c62033"/>
<circle cx="397.56" cy="546.30" r="0.65" fill="#c62033"/>
<circle cx="385.58" cy="536.55" r="0.65" fill="#c62033"/>
<circle cx="383.24" cy="535.10" r="0.65" fill="#c62033"/>
<circle cx="400.51" cy="548.44" r="0.65" fill="#c62033"/>
<circle cx="388.45" cy="552.16" r="0.65" fill="#c62033"/>
<circle cx="382.81" cy="549.13" r="0.65" fill="#c62033"/>
<circle cx="387.77" cy="553.24" r="0.65" fill="#c62033"/>
<circle cx="393.73" cy="528.60" r="0.65" fill="#c62033"/>
<circle cx="386.79" cy="532.59" r="0.65" fill="#c62033"/>
<circle cx="390.14" cy="530.24" r="0.65" fill="#c62033"/>
<circle cx="397.22" cy="544.87" r="0.65" fill="#c62033"/>
<circle cx="397.62" cy="529.67" r="0.65" fill="#c62033"/>
<circle cx="385.80" cy="531.76" r="0.65" fill="#c62033"/>
<circle cx="388.07" cy="547.07" r="0.65" fill="#c62033"/>
<circle cx="392.54" cy="538.27" r="0.65" fill="#c62033"/>
<circle cx="396.95" cy="534.93" r="0.65" fill="#c62033"/>
<circle cx="397.85" cy="534.66" r="0.65" fill="#c62033"/>
<circle cx="391.93" cy="552.36" r="0.65" fill="#c62033"/>
<circle cx="396.65" cy="529.40" r="0.65" fill="#c62033"/>
<circle cx="391.29" cy="529.34" r="0.65" fill="#c62033"/>
<circle cx="382.64" cy="541.01" r="0.65" fill="#c62033"/>
<circle cx="395.60" cy="547.09" r="0.65" fill="#c62033"/>
<circle cx="389.24" cy="545.76" r="0.65" fill="#c62033"/>
<circle cx="392.94" cy="543.61" r="0.65" fill="#c62033"/>
<circle cx="398.41" cy="535.18" r="0.65" fill="#c62033"/>
<circle cx="397.16" cy="557.87" r="0.65" fill="#c62033"/>
<circle cx="387.86" cy="556.86" r="0.65" fill="#c62033"/>
<circle cx="382.80" cy="557.59" r="0.65" fill="#c62033"/>
<circle cx="384.02" cy="542.60" r="0.65" fill="#c62033"/>
<circle cx="394.78" cy="541.89" r="0.65" fill="#c62033"/>
<circle cx="390.31" cy="549.40" r="0.65" fill="#c62033"/>
<circle cx="385.12" cy="538.58" r="0.65" fill="#c62033"/>
<circle cx="386.94" cy="540.38" r="0.65" fill="#c62033"/>
<circle cx="395.83" cy="534.23" r="0.65" fill="#c62033"/>
<circle cx="390.00" cy="543.73" r="0.65" fill="#c62033"/>
<circle cx="395.19" cy="534.33" r="0.65" fill="#c62033"/>
<circle cx="386.61" cy="534.30" r="0.65" fill="#c62033"/>
<circle cx="395.14" cy="545.03" r="0.65" fill="#c62033"/>
<circle cx="396.05" cy="557.20" r="0.65" fill="#c62033"/>
<circle cx="399.43" cy="556.48" r="0.65" fill="#c62033"/>
<circle cx="395.50" cy="549.81" r="0.65" fill="#c62033"/>
<circle cx="385.43" cy="530.35" r="0.65" fill="#c62033"/>
<circle cx="398.33" cy="528.88" r="0.65" fill="#c62033"/>
<circle cx="393.75" cy="549.80" r="0.65" fill="#c62033"/>
<circle cx="388.37" cy="536.28" r="0.65" fill="#c62033"/>
<circle cx="393.79" cy="533.33" r="0.65" fill="#c62033"/>
<circle cx="387.39" cy="557.75" r="0.65" fill="#c62033"/>
<circle cx="384.83" cy="529.81" r="0.65" fill="#c62033"/>
<circle cx="399.02" cy="538.98" r="0.65" fill="#c62033"/>
<circle cx="390.32" cy="552.23" r="0.65" fill="#c62033"/>
<circle cx="383.49" cy="531.51" r="0.65" fill="#c62033"/>
<circle cx="396.64" cy="533.04" r="0.65" fill="#c62033"/>
<circle cx="400.82" cy="542.40" r="0.65" fill="#c62033"/>
<circle cx="396.98" cy="555.40" r="0.65" fill="#c62033"/>
<circle cx="397.51" cy="542.55" r="0.65" fill="#c62033"/>
<circle cx="383.53" cy="532.29" r="0.65" fill="#c62033"/>
<circle cx="391.36" cy="545.12" r="0.65" fill="#c62033"/>
<circle cx="386.34" cy="534.67" r="0.65" fill="#c62033"/>
<circle cx="399.21" cy="529.13" r="0.65" fill="#c62033"/>
<circle cx="399.93" cy="549.45" r="0.65" fill="#c62033"/>
<circle cx="389.96" cy="557.43" r="0.65" fill="#c62033"/>
<circle cx="388.93" cy="550.11" r="0.65" fill="#c62033"/>
<circle cx="397.89" cy="552.45" r="0.65" fill="#c62033"/>
<circle cx="381.65" cy="532.45" r="0.65" fill="#c62033"/>
<circle cx="392.87" cy="534.81" r="0.65" fill="#c62033"/>
<circle cx="381.58" cy="539.68" r="0.65" fill="#c62033"/>
<circle cx="396.81" cy="552.99" r="0.65" fill="#c62033"/>
<circle cx="382.25" cy="542.18" r="0.65" fill="#c62033"/>
<circle cx="391.87" cy="554.73" r="0.65" fill="#c62033"/>
<circle cx="387.74" cy="530.59" r="0.65" fill="#c62033"/>
<circle cx="398.75" cy="546.93" r="0.65" fill="#c62033"/>
<circle cx="393.93" cy="542.79" r="0.65" fill="#c62033"/>
<circle cx="386.17" cy="534.57" r="0.65" fill="#c62033"/>
<circle cx="388.90" cy="555.22" r="0.65" fill="#c62033"/>
<circle cx="392.99" cy="531.57" r="0.65" fill="#c62033"/>
<circle cx="385.32" cy="532.22" r="0.65" fill="#c62033"/>
<circle cx="392.88" cy="541.96" r="0.65" fill="#c62033"/>
<circle cx="395.26" cy="547.27" r="0.65" fill="#c62033"/>
<circle cx="382.72" cy="541.47" r="0.65" fill="#c62033"/>
<circle cx="382.45" cy="549.87" r="0.65" fill="#c62033"/>
<circle cx="389.24" cy="542.38" r="0.65" fill="#c62033"/>
<circle cx="395.39" cy="548.35" r="0.65" fill="#c62033"/>
<circle cx="394.13" cy="535.57" r="0.65" fill="#c62033"/>
<circle cx="390.65" cy="548.91" r="0.65" fill="#c62033"/>
<circle cx="399.22" cy="532.68" r="0.65" fill="#c62033"/>
<circle cx="382.63" cy="546.17" r="0.65" fill="#c62033"/>
<circle cx="400.74" cy="535.54" r="0.65" fill="#c62033"/>
<circle cx="389.09" cy="535.25" r="0.65" fill="#c62033"/>
<circle cx="397.55" cy="551.75" r="0.65" fill="#c62033"/>
<circle cx="395.94" cy="547.20" r="0.65" fill="#c62033"/>
<circle cx="383.24" cy="529.63" r="0.65" fill="#c62033"/>
<circle cx="397.13" cy="557.30" r="0.65" fill="#c62033"/>
<circle cx="382.35" cy="529.62" r="0.65" fill="#c62033"/>
<circle cx="399.64" cy="535.59" r="0.65" fill="#c62033"/>
<circle cx="394.57" cy="534.98" r="0.65" fill="#c62033"/>
<circle cx="393.92" cy="555.95" r="0.65" fill="#c62033"/>
<circle cx="386.55" cy="555.62" r="0.65" fill="#c62033"/>
<circle cx="381.76" cy="533.03" r="0.65" fill="#c62033"/>
<circle cx="383.43" cy="550.84" r="0.65" fill="#c62033"/>
<circle cx="395.32" cy="557.21" r="0.65" fill="#c62033"/>
<circle cx="397.22" cy="534.01" r="0.65" fill="#c62033"/>
<circle cx="391.44" cy="533.30" r="0.65" fill="#c62033"/>
<circle cx="396.82" cy="531.62" r="0.65" fill="#c62033"/>
<circle cx="399.36" cy="554.75" r="0.65" fill="#c62033"/>
<circle cx="398.09" cy="528.57" r="0.65" fill="#c62033"/>
<circle cx="397.50" cy="544.90" r="0.65" fill="#c62033"/>
<circle cx="393.55" cy="543.32" r="0.65" fill="#c62033"/>
<circle cx="397.07" cy="546.04" r="0.65" fill="#c62033"/>
<circle cx="382.46" cy="530.79" r="0.65" fill="#c62033"/>
<circle cx="387.10" cy="544.59" r="0.65" fill="#c62033"/>
<circle cx="381.55" cy="540.21" r="0.65" fill="#c62033"/>
<circle cx="381.87" cy="550.48" r="0.65" fill="#c62033"/>
<circle cx="397.31" cy="552.98" r="0.65" fill="#c62033"/>
<circle cx="383.79" cy="542.01" r="0.65" fill="#c62033"/>
<circle cx="385.46" cy="547.68" r="0.65" fill="#c62033"/>
<circle cx="383.56" cy="541.16" r="0.65" fill="#c62033"/>
<circle cx="392.10" cy="557.31" r="0.65" fill="#c62033"/>
<circle cx="383.24" cy="538.90" r="0.65" fill="#c62033"/>
<circle cx="398.05" cy="550.04" r="0.65" fill="#c62033"/>
<circle cx="383.39" cy="553.53" r="0.65" fill="#c62033"/>
<circle cx="387.33" cy="539.34" r="0.65" fill="#c62033"/>
<circle cx="384.30" cy="550.99" r="0.65" fill="#c62033"/>
<circle cx="400.58" cy="546.39" r="0.65" fill="#c62033"/>
<circle cx="381.54" cy="551.18" r="0.65" fill="#c62033"/>
<circle cx="383.63" cy="530.71" r="0.65" fill="#c62033"/>
<circle cx="393.14" cy="548.93" r="0.65" fill="#c62033"/>
<circle cx="390.33" cy="543.84" r="0.65" fill="#c62033"/>
<circle cx="393.38" cy="540.52" r="0.65" fill="#c62033"/>
<circle cx="399.36" cy="547.63" r="0.65" fill="#c62033"/>
<circle cx="397.01" cy="550.11" r="0.65" fill="#c62033"/>
<circle cx="397.81" cy="555.43" r="0.65" fill="#c62033"/>
<circle cx="382.00" cy="549.64" r="0.65" fill="#c62033"/>
<circle cx="398.06" cy="548.59" r="0.65" fill="#c62033"/>
<circle cx="398.61" cy="541.21" r="0.65" fill="#c62033"/>
<circle cx="399.88" cy="533.80" r="0.65" fill="#c62033"/>
<circle cx="395.25" cy="541.53" r="0.65" fill="#c62033"/>
<circle cx="387.29" cy="535.95" r="0.65" fill="#c62033"/>
<circle cx="387.76" cy="538.78" r="0.65" fill="#c62033"/>
<circle cx="390.08" cy="531.29" r="0.65" fill="#c62033"/>
<circle cx="394.22" cy="557.44" r="0.65" fill="#c62033"/>
<circle cx="396.34" cy="556.00" r="0.65" fill="#c62033"/>
<circle cx="400.89" cy="553.19" r="0.65" fill="#c62033"/>
<circle cx="386.77" cy="550.70" r="0.65" fill="#c62033"/>
<circle cx="389.48" cy="535.87" r="0.65" fill="#c62033"/>
<circle cx="385.92" cy="529.12" r="0.65" fill="#c62033"/>
<circle cx="399.45" cy="554.65" r="0.65" fill="#c62033"/>
<circle cx="396.50" cy="538.20" r="0.65" fill="#c62033"/>
<circle cx="398.84" cy="551.36" r="0.65" fill="#c62033"/>
<circle cx="391.83" cy="551.94" r="0.65" fill="#c62033"/>
<circle cx="397.58" cy="531.59" r="0.65" fill="#c62033"/>
<circle cx="393.69" cy="537.75" r="0.65" fill="#c62033"/>
<circle cx="391.93" cy="539.33" r="0.65" fill="#c62033"/>
<circle cx="384.56" cy="556.99" r="0.65" fill="#c62033"/>
<circle cx="394.14" cy="544.16" r="0.65" fill="#c62033"/>
<circle cx="399.78" cy="544.38" r="0.65" fill="#c62033"/>
<circle cx="399.31" cy="540.52" r="0.65" fill="#c62033"/>
<circle cx="400.36" cy="548.85" r="0.65" fill="#c62033"/>
<circle cx="385.56" cy="531.14" r="0.65" fill="#c62033"/>
<circle cx="399.17" cy="536.98" r="0.65" fill="#c62033"/>
<circle cx="386.50" cy="528.90" r="0.65" fill="#c62033"/>
<circle cx="400.80" cy="549.62" r="0.65" fill="#c62033"/>
<circle cx="389.98" cy="533.70" r="0.65" fill="#c62033"/>
<circle cx="394.94" cy="548.76" r="0.65" fill="#c62033"/>
<circle cx="396.16" cy="550.51" r="0.65" fill="#c62033"/>
<circle cx="386.44" cy="535.83" r="0.65" fill="#c62033"/>
<circle cx="394.95" cy="529.32" r="0.65" fill="#c62033"/>
<circle cx="386.49" cy="534.67" r="0.65" fill="#c62033"/>
<circle cx="394.01" cy="556.95" r="0.65" fill="#c62033"/>
<circle cx="394.26" cy="545.94" r="0.65" fill="#c62033"/>
<circle cx="395.02" cy="546.14" r="0.65" fill="#c62033"/>
<circle cx="382.65" cy="537.47" r="0.65" fill="#c62033"/>
<circle cx="381.68" cy="530.47" r="0.65" fill="#c62033"/>
<circle cx="384.19" cy="539.16" r="0.65" fill="#c62033"/>
<circle cx="391.08" cy="531.83" r="0.65" fill="#c62033"/>
<circle cx="394.88" cy="557.10" r="0.65" fill="#c62033"/>
<circle cx="396.48" cy="536.57" r="0.65" fill="#c62033"/>
<circle cx="383.36" cy="533.75" r="0.65" fill="#c62033"/>
<circle cx="389.42" cy="537.44" r="0.65" fill="#c62033"/>
<circle cx="390.12" cy="548.84" r="0.65" fill="#c62033"/>
<circle cx="383.26" cy="549.99" r="0.65" fill="#c62033"/>
<circle cx="388.11" cy="556.00" r="0.65" fill="#c62033"/>
<circle cx="382.00" cy="553.05" r="0.65" fill="#c62033"/>
<circle cx="385.83" cy="552.95" r="0.65" fill="#c62033"/>
<circle cx="397.14" cy="553.72" r="0.65" fill="#c62033"/>
<circle cx="386.84" cy="548.29" r="0.65" fill="#c62033"/>
<circle cx="385.12" cy="528.79" r="0.65" fill="#c62033"/>
<circle cx="384.50" cy="555.19" r="0.65" fill="#c62033"/>
<circle cx="392.90" cy="547.95" r="0.65" fill="#c62033"/>
<circle cx="384.94" cy="548.01" r="0.65" fill="#c62033"/>
<circle cx="383.30" cy="532.74" r="0.65" fill="#c62033"/>
<circle cx="388.91" cy="557.49" r="0.65" fill="#c62033"/>
<circle cx="392.56" cy="547.74" r="0.65" fill="#c62033"/>
<circle cx="382.67" cy="535.09" r="0.65" fill="#c62033"/>
<circle cx="398.11" cy="528.94" r="0.65" fill="#c62033"/>
<circle cx="400.28" cy="532.34" r="0.65" fill="#c62033"/>
<circle cx="395.56" cy="539.23" r="0.65" fill="#c62033"/>
<circle cx="396.84" cy="532.58" r="0.65" fill="#c62033"/>
<circle cx="388.58" cy="535.92" r="0.65" fill="#c62033"/>
<circle cx="383.58" cy="543.93" r="0.65" fill="#c62033"/>
<circle cx="397.00" cy="535.82" r="0.65" fill="#c62033"/>
<circle cx="388.86" cy="536.92" r="0.65" fill="#c62033"/>
<circle cx="385.79" cy="551.06" r="0.65" fill="#c62033"/>
<circle cx="385.69" cy="534.22" r="0.65" fill="#c62033"/>
<circle cx="388.56" cy="539.83" r="0.65" fill="#c62033"/>
<circle cx="390.65" cy="547.42" r="0.65" fill="#c62033"/>
<circle cx="382.39" cy="554.15" r="0.65" fill="#c62033"/>
<circle cx="397.79" cy="548.08" r="0.65" fill="#c62033"/>
<circle cx="381.98" cy="535.43" r="0.65" fill="#c62033"/>
<circle cx="383.67" cy="541.43" r="0.65" fill="#c62033"/>
<circle cx="395.35" cy="542.07" r="0.65" fill="#c62033"/>
<circle cx="383.71" cy="531.27" r="0.65" fill="#c62033"/>
<circle cx="384.81" cy="542.65" r="0.65" fill="#c62033"/>
<circle cx="390.03" cy="535.31" r="0.65" fill="#c62033"/>
<circle cx="382.73" cy="531.99" r="0.65" fill="#c62033"/>
<circle cx="390.60" cy="539.15" r="0.65" fill="#c62033"/>
<circle cx="392.27" cy="556.13" r="0.65" fill="#c62033"/>
<circle cx="385.76" cy="530.61" r="0.65" fill="#c62033"/>
<circle cx="392.43" cy="550.45" r="0.65" fill="#c62033"/>
<circle cx="400.26" cy="554.17" r="0.65" fill="#c62033"/>
<circle cx="383.56" cy="553.81" r="0.65" fill="#c62033"/>
<circle cx="391.69" cy="556.34" r="0.65" fill="#c62033"/>
<circle cx="384.74" cy="535.57" r="0.65" fill="#c62033"/>
<circle cx="385.56" cy="554.01" r="0.65" fill="#c62033"/>
<circle cx="386.60" cy="530.95" r="0.65" fill="#c62033"/>
<circle cx="390.43" cy="555.76" r="0.65" fill="#c62033"/>
<circle cx="382.86" cy="550.07" r="0.65" fill="#c62033"/>
<circle cx="387.63" cy="541.86" r="0.65" fill="#c62033"/>
<circle cx="394.39" cy="534.56" r="0.65" fill="#c62033"/>
<circle cx="383.75" cy="539.16" r="0.65" fill="#c62033"/>
<circle cx="390.84" cy="557.53" r="0.65" fill="#c62033"/>
<circle cx="381.61" cy="533.81" r="0.65" fill="#c62033"/>
<circle cx="391.49" cy="547.76" r="0.65" fill="#c62033"/>
<circle cx="390.62" cy="529.22" r="0.65" fill="#c62033"/>
<circle cx="391.93" cy="550.34" r="0.65" fill="#c62033"/>
<circle cx="391.18" cy="535.41" r="0.65" fill="#c62033"/>
<circle cx="394.16" cy="546.35" r="0.65" fill="#c62033"/>
<circle cx="397.15" cy="532.78" r="0.65" fill="#c62033"/>
<circle cx="395.91" cy="556.39" r="0.65" fill="#c62033"/>
<circle cx="388.61" cy="553.79" r="0.65" fill="#c62033"/>
<circle cx="384.96" cy="555.13" r="0.65" fill="#c62033"/>
<circle cx="393.12" cy="535.19" r="0.65" fill="#c62033"/>
<circle cx="383.01" cy="555.10" r="0.65" fill="#c62033"/>
<circle cx="382.10" cy="534.90" r="0.65" fill="#c62033"/>
<circle cx="384.15" cy="541.45" r="0.65" fill="#c62033"/>
<circle cx="396.08" cy="534.15" r="0.65" fill="#c62033"/>
<circle cx="399.81" cy="545.71" r="0.65" fill="#c62033"/>
<circle cx="394.71" cy="540.36" r="0.65" fill="#c62033"/>
<circle cx="399.99" cy="528.87" r="0.65" fill="#c62033"/>
<circle cx="390.75" cy="535.38" r="0.65" fill="#c62033"/>
<circle cx="399.99" cy="543.59" r="0.65" fill="#c62033"/>
<circle cx="400.84" cy="543.02" r="0.65" fill="#c62033"/>
<circle cx="385.64" cy="546.83" r="0.65" fill="#c62033"/>
<circle cx="385.36" cy="553.10" r="0.65" fill="#c62033"/>
<circle cx="390.35" cy="557.99" r="0.65" fill="#c62033"/>
<circle cx="400.24" cy="535.18" r="0.65" fill="#c62033"/>
<circle cx="389.38" cy="537.99" r="0.65" fill="#c62033"/>
<circle cx="394.51" cy="538.62" r="0.65" fill="#c62033"/>
<circle cx="388.73" cy="529.18" r="0.65" fill="#c62033"/>
<circle cx="397.63" cy="533.28" r="0.65" fill="#c62033"/>
<circle cx="393.31" cy="528.50" r="0.65" fill="#c62033"/>
<circle cx="390.30" cy="536.11" r="0.65" fill="#c62033"/>
<circle cx="395.35" cy="545.08" r="0.65" fill="#c62033"/>
<circle cx="386.11" cy="532.56" r="0.65" fill="#c62033"/>
<circle cx="400.22" cy="532.06" r="0.65" fill="#c62033"/>
<circle cx="384.09" cy="532.90" r="0.65" fill="#c62033"/>
<circle cx="392.80" cy="543.91" r="0.65" fill="#c62033"/>
<circle cx="382.52" cy="554.65" r="0.65" fill="#c62033"/>
<circle cx="384.68" cy="535.41" r="0.65" fill="#c62033"/>
<circle cx="390.27" cy="545.77" r="0.65" fill="#c62033"/>
<circle cx="398.81" cy="540.56" r="0.65" fill="#c62033"/>
<circle cx="398.26" cy="548.02" r="0.65" fill="#c62033"/>
<circle cx="386.67" cy="556.73" r="0.65" fill="#c62033"/>
<circle cx="389.39" cy="556.29" r="0.65" fill="#c62033"/>
<circle cx="399.33" cy="530.02" r="0.65" fill="#c62033"/>
<circle cx="381.74" cy="531.57" r="0.65" fill="#c62033"/>
<circle cx="387.06" cy="537.04" r="0.65" fill="#c62033"/>
<circle cx="398.46" cy="557.02" r="0.65" fill="#c62033"/>
<circle cx="391.78" cy="540.89" r="0.65" fill="#c62033"/>
<circle cx="397.22" cy="553.54" r="0.65" fill="#c62033"/>
<circle cx="391.45" cy="547.78" r="0.65" fill="#c62033"/>
<circle cx="386.18" cy="531.94" r="0.65" fill="#c62033"/>
<circle cx="392.89" cy="547.91" r="0.65" fill="#c62033"/>
<circle cx="399.02" cy="552.13" r="0.65" fill="#c62033"/>
<circle cx="385.18" cy="556.89" r="0.65" fill="#c62033"/>
<circle cx="398.99" cy="530.74" r="0.65" fill="#c62033"/>
<circle cx="384.96" cy="545.32" r="0.65" fill="#c62033"/>
<circle cx="386.41" cy="548.92" r="0.65" fill="#c62033"/>
<circle cx="388.58" cy="535.48" r="0.65" fill="#c62033"/>
<circle cx="394.68" cy="543.95" r="0.65" fill="#c62033"/>
<circle cx="395.93" cy="530.67" r="0.65" fill="#c62033"/>
<circle cx="390.64" cy="546.92" r="0.65" fill="#c62033"/>
<circle cx="397.07" cy="548.33" r="0.65" fill="#c62033"/>
<circle cx="390.72" cy="528.78" r="0.65" fill="#c62033"/>
<circle cx="395.30" cy="548.50" r="0.65" fill="#c62033"/>
<circle cx="384.93" cy="547.60" r="0.65" fill="#c62033"/>
<circle cx="396.80" cy="556.78" r="0.65" fill="#c62033"/>
<circle cx="389.84" cy="535.37" r="0.65" fill="#c62033"/>
<circle cx="385.46" cy="556.76" r="0.65" fill="#c62033"/>
<circle cx="400.25" cy="540.57" r="0.65" fill="#c62033"/>
<circle cx="385.96" cy="555.05" r="0.65" fill="#c62033"/>
<circle cx="388.45" cy="550.19" r="0.65" fill="#c62033"/>
<circle cx="396.43" cy="548.07" r="0.65" fill="#c62033"/>
<circle cx="385.76" cy="532.26" r="0.65" fill="#c62033"/>
<circle cx="386.61" cy="534.84" r="0.65" fill="#c62033"/>
<circle cx="384.07" cy="529.55" r="0.65" fill="#c62033"/>
<circle cx="389.65" cy="540.48" r="0.65" fill="#c62033"/>
<circle cx="392.81" cy="530.79" r="0.65" fill="#c62033"/>
<circle cx="392.71" cy="556.30" r="0.65" fill="#c62033"/>
<circle cx="395.21" cy="538.99" r="0.65" fill="#c62033"/>
<circle cx="384.84" cy="541.40" r="0.65" fill="#c62033"/>
<circle cx="381.75" cy="542.71" r="0.65" fill="#c62033"/>
<circle cx="384.55" cy="548.44" r="0.65" fill="#c62033"/>
<circle cx="400.26" cy="539.41" r="0.65" fill="#c62033"/>
<circle cx="397.78" cy="551.12" r="0.65" fill="#c62033"/>
<circle cx="393.84" cy="547.44" r="0.65" fill="#c62033"/>
<circle cx="400.34" cy="549.29" r="0.65" fill="#c62033"/>
<circle cx="396.42" cy="534.29" r="0.65" fill="#c62033"/>
<circle cx="386.41" cy="537.37" r="0.65" fill="#c62033"/>
<circle cx="393.18" cy="552.74" r="0.65" fill="#c62033"/>
<circle cx="398.55" cy="553.56" r="0.65" fill="#c62033"/>
<circle cx="385.29" cy="545.87" r="0.65" fill="#c62033"/>
<circle cx="391.88" cy="528.94" r="0.65" fill="#c62033"/>
<circle cx="386.74" cy="549.91" r="0.65" fill="#c62033"/>
<circle cx="381.49" cy="530.57" r="0.65" fill="#c62033"/>
<circle cx="381.48" cy="563.01" r="0.65" fill="#c62033"/>
<circle cx="385.91" cy="567.57" r="0.65" fill="#c62033"/>
<circle cx="400.75" cy="559.05" r="0.65" fill="#c62033"/>
<circle cx="381.78" cy="568.98" r="0.65" fill="#c62033"/>
<circle cx="400.41" cy="570.32" r="0.65" fill="#c62033"/>
<circle cx="384.31" cy="568.75" r="0.65" fill="#c62033"/>
<circle cx="387.68" cy="562.35" r="0.65" fill="#c62033"/>
<circle cx="389.58" cy="565.31" r="0.65" fill="#c62033"/>
<circle cx="382.48" cy="563.37" r="0.65" fill="#c62033"/>
<circle cx="383.04" cy="558.72" r="0.65" fill="#c62033"/>
<circle cx="393.63" cy="559.60" r="0.65" fill="#c62033"/>
<circle cx="395.05" cy="560.61" r="0.65" fill="#c62033"/>
<circle cx="395.68" cy="559.01" r="0.65" fill="#c62033"/>
<circle cx="388.10" cy="570.36" r="0.65" fill="#c62033"/>
<circle cx="399.61" cy="562.52" r="0.65" fill="#c62033"/>
<circle cx="392.38" cy="558.23" r="0.65" fill="#c62033"/>
<circle cx="394.98" cy="561.84" r="0.65" fill="#c62033"/>
<circle cx="388.95" cy="559.28" r="0.65" fill="#c62033"/>
<circle cx="397.02" cy="559.04" r="0.65" fill="#c62033"/>
<circle cx="397.12" cy="562.95" r="0.65" fill="#c62033"/>
<circle cx="385.15" cy="565.72" r="0.65" fill="#c62033"/>
<circle cx="395.27" cy="563.19" r="0.65" fill="#c62033"/>
<circle cx="385.93" cy="562.12" r="0.65" fill="#c62033"/>
<circle cx="383.23" cy="569.68" r="0.65" fill="#c62033"/>
<circle cx="384.11" cy="562.67" r="0.65" fill="#c62033"/>
<circle cx="385.18" cy="565.73" r="0.65" fill="#c62033"/>
<circle cx="393.83" cy="560.91" r="0.65" fill="#c62033"/>
<circle cx="386.12" cy="559.66" r="0.65" fill="#c62033"/>
<circle cx="391.85" cy="558.39" r="0.65" fill="#c62033"/>
<circle cx="395.60" cy="565.34" r="0.65" fill="#c62033"/>
<circle cx="385.73" cy="569.03" r="0.65" fill="#c62033"/>
<circle cx="387.10" cy="560.17" r="0.65" fill="#c62033"/>
<circle cx="393.45" cy="564.85" r="0.65" fill="#c62033"/>
<circle cx="399.08" cy="566.26" r="0.65" fill="#c62033"/>
<circle cx="394.39" cy="559.70" r="0.65" fill="#c62033"/>
<circle cx="386.51" cy="563.80" r="0.65" fill="#c62033"/>
<circle cx="396.52" cy="560.76" r="0.65" fill="#c62033"/>
<circle cx="397.61" cy="562.19" r="0.65" fill="#c62033"/>
<circle cx="396.97" cy="561.72" r="0.65" fill="#c62033"/>
<circle cx="387.47" cy="575.28" r="0.65" fill="#c62033"/>
<circle cx="382.49" cy="562.47" r="0.65" fill="#c62033"/>
<circle cx="393.34" cy="568.25" r="0.65" fill="#c62033"/>
<circle cx="391.47" cy="559.88" r="0.65" fill="#c62033"/>
<circle cx="384.36" cy="559.18" r="0.65" fill="#c62033"/>
<circle cx="390.45" cy="571.04" r="0.65" fill="#c62033"/>
<circle cx="385.28" cy="563.97" r="0.65" fill="#c62033"/>
<circle cx="391.62" cy="564.08" r="0.65" fill="#c62033"/>
<circle cx="388.51" cy="563.68" r="0.65" fill="#c62033"/>
<circle cx="396.60" cy="559.80" r="0.65" fill="#c62033"/>
<circle cx="383.48" cy="566.40" r="0.65" fill="#c62033"/>
<circle cx="390.88" cy="564.27" r="0.65" fill="#c62033"/>
<circle cx="386.35" cy="560.95" r="0.65" fill="#c62033"/>
<circle cx="387.64" cy="560.43" r="0.65" fill="#c62033"/>
<circle cx="390.75" cy="562.32" r="0.65" fill="#c62033"/>
<circle cx="388.68" cy="560.81" r="0.65" fill="#c62033"/>
<circle cx="390.16" cy="569.67" r="0.65" fill="#c62033"/>
<circle cx="393.53" cy="572.66" r="0.65" fill="#c62033"/>
<circle cx="383.46" cy="565.17" r="0.65" fill="#c62033"/>
<circle cx="386.86" cy="567.58" r="0.65" fill="#c62033"/>
<circle cx="382.13" cy="560.74" r="0.65" fill="#c62033"/>
<circle cx="383.93" cy="573.24" r="0.65" fill="#c62033"/>
<circle cx="390.53" cy="559.81" r="0.65" fill="#c62033"/>
<circle cx="382.74" cy="562.33" r="0.65" fill="#c62033"/>
<circle cx="396.11" cy="562.03" r="0.65" fill="#c62033"/>
<circle cx="383.08" cy="558.98" r="0.65" fill="#c62033"/>
<circle cx="389.12" cy="565.44" r="0.65" fill="#c62033"/>
<circle cx="382.40" cy="572.96" r="0.65" fill="#c62033"/>
<circle cx="387.05" cy="568.04" r="0.65" fill="#c62033"/>
<circle cx="383.49" cy="558.42" r="0.65" fill="#c62033"/>
<circle cx="382.78" cy="561.75" r="0.65" fill="#c62033"/>
<circle cx="397.73" cy="562.44" r="0.65" fill="#c62033"/>
<circle cx="384.71" cy="565.40" r="0.65" fill="#c62033"/>
<circle cx="389.75" cy="563.50" r="0.65" fill="#c62033"/>
<circle cx="388.03" cy="568.57" r="0.65" fill="#c62033"/>
<circle cx="400.45" cy="561.73" r="0.65" fill="#c62033"/>
<circle cx="383.69" cy="561.65" r="0.65" fill="#c62033"/>
<circle cx="398.88" cy="558.69" r="0.65" fill="#c62033"/>
<circle cx="399.12" cy="569.48" r="0.65" fill="#c62033"/>
<circle cx="393.24" cy="575.27" r="0.65" fill="#c62033"/>
<circle cx="387.06" cy="560.98" r="0.65" fill="#c62033"/>
<circle cx="395.79" cy="568.84" r="0.65" fill="#c62033"/>
<circle cx="383.94" cy="560.41" r="0.65" fill="#c62033"/>
<circle cx="383.50" cy="564.12" r="0.65" fill="#c62033"/>
<circle cx="397.34" cy="574.55" r="0.65" fill="#c62033"/>
<circle cx="386.40" cy="560.80" r="0.65" fill="#c62033"/>
<circle cx="390.60" cy="562.48" r="0.65" fill="#c62033"/>
<circle cx="398.15" cy="561.96" r="0.65" fill="#c62033"/>
<circle cx="387.70" cy="558.24" r="0.65" fill="#c62033"/>
<circle cx="388.10" cy="563.39" r="0.65" fill="#c62033"/>
<circle cx="385.08" cy="568.23" r="0.65" fill="#c62033"/>
<circle cx="398.32" cy="569.33" r="0.65" fill="#c62033"/>
<circle cx="392.67" cy="564.38" r="0.65" fill="#c62033"/>
<circle cx="393.29" cy="569.86" r="0.65" fill="#c62033"/>
<circle cx="399.03" cy="558.78" r="0.65" fill="#c62033"/>
<circle cx="398.03" cy="563.95" r="0.65" fill="#c62033"/>
<circle cx="397.45" cy="559.85" r="0.65" fill="#c62033"/>
<circle cx="388.74" cy="558.67" r="0.65" fill="#c62033"/>
<circle cx="388.32" cy="564.65" r="0.65" fill="#c62033"/>
<circle cx="385.85" cy="560.44" r="0.65" fill="#c62033"/>
<circle cx="399.23" cy="560.34" r="0.65" fill="#c62033"/>
<circle cx="398.79" cy="566.42" r="0.65" fill="#c62033"/>
<circle cx="396.21" cy="563.30" r="0.65" fill="#c62033"/>
<circle cx="397.16" cy="558.56" r="0.65" fill="#c62033"/>
<circle cx="400.82" cy="573.71" r="0.65" fill="#c62033"/>
<circle cx="397.34" cy="559.61" r="0.65" fill="#c62033"/>
<circle cx="386.36" cy="569.63" r="0.65" fill="#c62033"/>
<circle cx="397.86" cy="561.82" r="0.65" fill="#c62033"/>
<circle cx="384.02" cy="563.69" r="0.65" fill="#c62033"/>
<circle cx="397.48" cy="564.15" r="0.65" fill="#c62033"/>
<circle cx="388.17" cy="559.54" r="0.65" fill="#c62033"/>
<circle cx="398.63" cy="565.56" r="0.65" fill="#c62033"/>
<circle cx="384.13" cy="569.29" r="0.65" fill="#c62033"/>
<circle cx="394.67" cy="568.70" r="0.65" fill="#c62033"/>
<circle cx="394.19" cy="562.37" r="0.65" fill="#c62033"/>
<circle cx="392.14" cy="571.51" r="0.65" fill="#c62033"/>
<circle cx="390.33" cy="562.20" r="0.65" fill="#c62033"/>
<circle cx="396.73" cy="564.51" r="0.65" fill="#c62033"/>
<circle cx="398.45" cy="568.36" r="0.65" fill="#c62033"/>
<circle cx="386.29" cy="559.43" r="0.65" fill="#c62033"/>
<circle cx="383.37" cy="564.22" r="0.65" fill="#c62033"/>
<circle cx="397.01" cy="558.75" r="0.65" fill="#c62033"/>
<circle cx="385.85" cy="559.42" r="0.65" fill="#c62033"/>
<circle cx="395.93" cy="560.37" r="0.65" fill="#c62033"/>
<circle cx="385.29" cy="559.13" r="0.65" fill="#c62033"/>
<circle cx="397.13" cy="564.90" r="0.65" fill="#c62033"/>
<circle cx="400.10" cy="559.68" r="0.65" fill="#c62033"/>
<circle cx="398.94" cy="561.64" r="0.65" fill="#c62033"/>
<circle cx="390.62" cy="567.21" r="0.65" fill="#c62033"/>
<circle cx="387.51" cy="567.20" r="0.65" fill="#c62033"/>
<circle cx="398.53" cy="564.71" r="0.65" fill="#c62033"/>
<circle cx="392.91" cy="560.97" r="0.65" fill="#c62033"/>
<circle cx="397.65" cy="559.47" r="0.65" fill="#c62033"/>
<circle cx="389.56" cy="566.00" r="0.65" fill="#c62033"/>
<circle cx="398.66" cy="558.94" r="0.65" fill="#c62033"/>
<circle cx="388.50" cy="560.42" r="0.65" fill="#c62033"/>
<circle cx="388.52" cy="562.12" r="0.65" fill="#c62033"/>
<circle cx="383.85" cy="568.44" r="0.65" fill="#c62033"/>
<circle cx="399.32" cy="560.77" r="0.65" fill="#c62033"/>
<circle cx="389.87" cy="567.13" r="0.65" fill="#c62033"/>
<circle cx="395.46" cy="560.03" r="0.65" fill="#c62033"/>
<circle cx="391.66" cy="560.78" r="0.65" fill="#c62033"/>
<circle cx="397.48" cy="559.32" r="0.65" fill="#c62033"/>
<circle cx="385.76" cy="559.59" r="0.65" fill="#c62033"/>
<circle cx="396.00" cy="564.38" r="0.65" fill="#c62033"/>
<circle cx="398.71" cy="559.57" r="0.65" fill="#c62033"/>
<circle cx="400.85" cy="562.66" r="0.65" fill="#c62033"/>
<circle cx="395.31" cy="564.26" r="0.65" fill="#c62033"/>
<circle cx="399.62" cy="560.78" r="0.65" fill="#c62033"/>
<circle cx="387.85" cy="559.77" r="0.65" fill="#c62033"/>
<circle cx="395.75" cy="563.66" r="0.65" fill="#c62033"/>
<circle cx="391.21" cy="561.41" r="0.65" fill="#c62033"/>
<circle cx="394.50" cy="566.12" r="0.65" fill="#c62033"/>
<circle cx="401.00" cy="568.90" r="0.65" fill="#c62033"/>
<circle cx="392.40" cy="571.74" r="0.65" fill="#c62033"/>
<circle cx="399.24" cy="559.25" r="0.65" fill="#c62033"/>
<circle cx="392.21" cy="562.28" r="0.65" fill="#c62033"/>
<circle cx="388.49" cy="558.84" r="0.65" fill="#c62033"/>
<circle cx="399.51" cy="572.07" r="0.65" fill="#c62033"/>
<circle cx="391.25" cy="558.40" r="0.65" fill="#c62033"/>
<circle cx="399.01" cy="559.47" r="0.65" fill="#c62033"/>
<circle cx="391.41" cy="572.13" r="0.65" fill="#c62033"/>
<circle cx="399.68" cy="568.21" r="0.65" fill="#c62033"/>
<circle cx="393.77" cy="561.63" r="0.65" fill="#c62033"/>
<circle cx="397.15" cy="559.43" r="0.65" fill="#c62033"/>
<circle cx="386.48" cy="566.44" r="0.65" fill="#c62033"/>
<circle cx="386.81" cy="562.38" r="0.65" fill="#c62033"/>
<circle cx="390.58" cy="565.37" r="0.65" fill="#c62033"/>
<circle cx="383.21" cy="562.03" r="0.65" fill="#c62033"/>
<circle cx="395.45" cy="564.38" r="0.65" fill="#c62033"/>
<circle cx="396.07" cy="558.23" r="0.65" fill="#c62033"/>
<circle cx="391.53" cy="558.44" r="0.65" fill="#c62033"/>
<circle cx="384.84" cy="563.36" r="0.65" fill="#c62033"/>
<circle cx="385.36" cy="570.10" r="0.65" fill="#c62033"/>
<circle cx="392.88" cy="567.13" r="0.65" fill="#c62033"/>
<circle cx="395.36" cy="560.12" r="0.65" fill="#c62033"/>
<circle cx="395.33" cy="569.45" r="0.65" fill="#c62033"/>
<circle cx="399.53" cy="559.89" r="0.65" fill="#c62033"/>
<circle cx="382.43" cy="571.23" r="0.65" fill="#c62033"/>
<circle cx="383.09" cy="565.11" r="0.65" fill="#c62033"/>
<circle cx="382.76" cy="560.60" r="0.65" fill="#c62033"/>
<circle cx="384.19" cy="561.06" r="0.65" fill="#c62033"/>
<circle cx="390.42" cy="568.08" r="0.65" fill="#c62033"/>
<circle cx="387.99" cy="573.66" r="0.65" fill="#c62033"/>
<circle cx="396.43" cy="576.62" r="0.65" fill="#c62033"/>
<circle cx="384.56" cy="558.14" r="0.65" fill="#c62033"/>
<circle cx="389.44" cy="562.66" r="0.65" fill="#c62033"/>
<circle cx="384.57" cy="562.38" r="0.65" fill="#c62033"/>
<circle cx="385.68" cy="562.02" r="0.65" fill="#c62033"/>
<circle cx="387.59" cy="561.95" r="0.65" fill="#c62033"/>
<circle cx="391.29" cy="560.33" r="0.65" fill="#c62033"/>
<circle cx="390.02" cy="561.24" r="0.65" fill="#c62033"/>
<circle cx="400.47" cy="565.32" r="0.65" fill="#c62033"/>
<circle cx="390.64" cy="574.79" r="0.65" fill="#c62033"/>
<circle cx="385.28" cy="559.45" r="0.65" fill="#c62033"/>
<circle cx="384.72" cy="561.28" r="0.65" fill="#c62033"/>
<circle cx="382.84" cy="560.14" r="0.65" fill="#c62033"/>
<circle cx="389.31" cy="563.50" r="0.65" fill="#c62033"/>
<circle cx="388.34" cy="575.44" r="0.65" fill="#c62033"/>
<circle cx="394.94" cy="563.81" r="0.65" fill="#c62033"/>
<circle cx="389.08" cy="560.95" r="0.65" fill="#c62033"/>
<circle cx="392.62" cy="566.06" r="0.65" fill="#c62033"/>
<circle cx="381.53" cy="569.44" r="0.65" fill="#c62033"/>
<circle cx="388.35" cy="564.61" r="0.65" fill="#c62033"/>
<circle cx="393.75" cy="567.17" r="0.65" fill="#c62033"/>
<circle cx="389.88" cy="564.22" r="0.65" fill="#c62033"/>
<circle cx="387.25" cy="561.41" r="0.65" fill="#c62033"/>
<circle cx="395.81" cy="567.73" r="0.65" fill="#c62033"/>
<circle cx="400.01" cy="561.45" r="0.65" fill="#c62033"/>
<circle cx="398.09" cy="562.08" r="0.65" fill="#c62033"/>
<circle cx="396.90" cy="563.29" r="0.65" fill="#c62033"/>
<circle cx="388.07" cy="566.89" r="0.65" fill="#c62033"/>
<circle cx="399.92" cy="563.64" r="0.65" fill="#c62033"/>
<circle cx="384.98" cy="564.77" r="0.65" fill="#c62033"/>
<circle cx="383.66" cy="560.17" r="0.65" fill="#c62033"/>
<circle cx="381.92" cy="568.05" r="0.65" fill="#c62033"/>
<circle cx="387.73" cy="565.54" r="0.65" fill="#c62033"/>
<circle cx="388.52" cy="566.12" r="0.65" fill="#c62033"/>
<circle cx="398.94" cy="559.05" r="0.65" fill="#c62033"/>
<circle cx="399.62" cy="563.06" r="0.65" fill="#c62033"/>
<circle cx="393.93" cy="564.98" r="0.65" fill="#c62033"/>
<circle cx="388.99" cy="564.23" r="0.65" fill="#c62033"/>
<circle cx="393.34" cy="558.91" r="0.65" fill="#c62033"/>
<circle cx="388.66" cy="559.22" r="0.65" fill="#c62033"/>
<circle cx="389.00" cy="563.30" r="0.65" fill="#c62033"/>
<circle cx="391.96" cy="568.07" r="0.65" fill="#c62033"/>
<circle cx="386.81" cy="569.74" r="0.65" fill="#c62033"/>
<circle cx="384.54" cy="564.43" r="0.65" fill="#c62033"/>
<circle cx="394.92" cy="569.29" r="0.65" fill="#c62033"/>
<circle cx="382.57" cy="562.54" r="0.65" fill="#c62033"/>
<circle cx="397.19" cy="558.63" r="0.65" fill="#c62033"/>
<circle cx="382.53" cy="527.37" r="0.65" fill="#c62033"/>
<circle cx="386.57" cy="527.01" r="0.65" fill="#c62033"/>
<circle cx="399.24" cy="528.07" r="0.65" fill="#c62033"/>
<circle cx="399.96" cy="524.37" r="0.65" fill="#c62033"/>
<circle cx="383.16" cy="522.93" r="0.65" fill="#c62033"/>
<circle cx="399.53" cy="526.65" r="0.65" fill="#c62033"/>
<circle cx="396.06" cy="526.94" r="0.65" fill="#c62033"/>
<circle cx="398.23" cy="527.81" r="0.65" fill="#c62033"/>
<circle cx="398.51" cy="527.63" r="0.65" fill="#c62033"/>
<circle cx="396.17" cy="527.74" r="0.65" fill="#c62033"/>
<circle cx="382.15" cy="522.65" r="0.65" fill="#c62033"/>
<circle cx="382.50" cy="524.42" r="0.65" fill="#c62033"/>
<circle cx="395.28" cy="528.11" r="0.65" fill="#c62033"/>
<circle cx="393.75" cy="528.12" r="0.65" fill="#c62033"/>
<circle cx="384.95" cy="527.32" r="0.65" fill="#c62033"/>
<circle cx="393.34" cy="527.50" r="0.65" fill="#c62033"/>
<circle cx="388.47" cy="525.28" r="0.65" fill="#c62033"/>
<circle cx="400.59" cy="522.43" r="0.65" fill="#c62033"/>
<circle cx="386.36" cy="526.13" r="0.65" fill="#c62033"/>
<circle cx="385.96" cy="527.46" r="0.65" fill="#c62033"/>
<circle cx="395.24" cy="520.16" r="0.65" fill="#c62033"/>
<circle cx="384.83" cy="527.16" r="0.65" fill="#c62033"/>
<circle cx="388.28" cy="527.86" r="0.65" fill="#c62033"/>
<circle cx="395.85" cy="527.15" r="0.65" fill="#c62033"/>
<circle cx="394.74" cy="525.52" r="0.65" fill="#c62033"/>
<circle cx="382.06" cy="527.34" r="0.65" fill="#c62033"/>
<circle cx="392.68" cy="524.23" r="0.65" fill="#c62033"/>
<circle cx="390.25" cy="526.80" r="0.65" fill="#c62033"/>
<circle cx="388.00" cy="525.91" r="0.65" fill="#c62033"/>
<circle cx="389.16" cy="526.11" r="0.65" fill="#c62033"/>
<circle cx="399.33" cy="523.67" r="0.65" fill="#c62033"/>
<circle cx="392.39" cy="526.71" r="0.65" fill="#c62033"/>
<circle cx="388.91" cy="527.49" r="0.65" fill="#c62033"/>
<circle cx="394.94" cy="527.24" r="0.65" fill="#c62033"/>
<circle cx="396.80" cy="523.82" r="0.65" fill="#c62033"/>
<circle cx="391.49" cy="528.36" r="0.65" fill="#c62033"/>
<circle cx="389.52" cy="523.85" r="0.65" fill="#c62033"/>
<circle cx="394.52" cy="528.34" r="0.65" fill="#c62033"/>
<circle cx="389.41" cy="524.70" r="0.65" fill="#c62033"/>
<circle cx="400.21" cy="526.72" r="0.65" fill="#c62033"/>
<circle cx="393.46" cy="522.75" r="0.65" fill="#c62033"/>
<circle cx="387.60" cy="526.85" r="0.65" fill="#c62033"/>
<circle cx="399.11" cy="527.03" r="0.65" fill="#c62033"/>
<circle cx="396.93" cy="527.06" r="0.65" fill="#c62033"/>
<circle cx="400.82" cy="527.36" r="0.65" fill="#c62033"/>
<circle cx="382.30" cy="515.00" r="0.7" fill="#c62033"/>
<circle cx="398.50" cy="518.00" r="0.7" fill="#c62033"/>
<circle cx="384.70" cy="578.00" r="0.7" fill="#c62033"/>
<circle cx="382.00" cy="585.00" r="0.7" fill="#c62033"/>
<circle cx="397.00" cy="580.30" r="0.7" fill="#c62033"/>
<circle cx="400.40" cy="583.50" r="0.7" fill="#c62033"/>
<circle cx="396.50" cy="607.30" r="0.7" fill="#c62033"/>
<circle cx="384.70" cy="616.50" r="0.7" fill="#c62033"/>
<rect x="412.40" y="543.80" width="25.40" height="27.00" fill="none" stroke="#0e5485" stroke-width="0.8"/>
<line x1="412.40" y1="561.20" x2="437.80" y2="561.20" stroke="#0e5485" stroke-width="0.8"/>
<line x1="424.60" y1="538.80" x2="424.60" y2="543.80" stroke="#0e5485" stroke-width="0.8"/>
<line x1="424.60" y1="570.80" x2="424.60" y2="597.40" stroke="#0e5485" stroke-width="0.8"/>
<circle cx="416.50" cy="544.50" r="0.7" fill="#0e5485"/>
<circle cx="417.00" cy="557.70" r="0.7" fill="#0e5485"/>
<circle cx="427.00" cy="560.70" r="0.7" fill="#0e5485"/>
<circle cx="430.80" cy="562.30" r="0.7" fill="#0e5485"/>
<circle cx="421.80" cy="567.60" r="0.7" fill="#0e5485"/>
<circle cx="415.40" cy="571.50" r="0.7" fill="#0e5485"/>
<circle cx="424.60" cy="572.20" r="0.7" fill="#0e5485"/>
<circle cx="415.80" cy="581.20" r="0.7" fill="#0e5485"/>
<circle cx="423.00" cy="597.40" r="0.7" fill="#0e5485"/>
<circle cx="425.30" cy="538.80" r="0.7" fill="#0e5485"/>
<circle cx="428.80" cy="539.70" r="0.7" fill="#0e5485"/>
<circle cx="430.80" cy="538.80" r="0.7" fill="#0e5485"/>
<text x="446.80" y="506.80" textLength="32.90" lengthAdjust="spacingAndGlyphs">Replicate</text>
<circle cx="452.00" cy="512.50" r="0.9" fill="#231f20"/>
<text x="455.80" y="515.00">1</text>
<path d="M465.8 511.3 L467 513.4 L464.6 513.4Z" fill="#231f20"/>
<text x="470.20" y="515.00">2</text>
<text x="446.80" y="527.70" textLength="66.20" lengthAdjust="spacingAndGlyphs">Multivariate analysis</text>
<text x="446.80" y="537.10" textLength="64.50" lengthAdjust="spacingAndGlyphs">sgREL <tspan font-style="italic">p</tspan> = 2.9×10<tspan dy="-2.9" font-size="4.4">−6</tspan></text>
<text x="343.40" y="634.00" textLength="24.00" lengthAdjust="spacingAndGlyphs">sgRNA</text>
<text x="391.00" y="634.00" text-anchor="middle" textLength="16.60" lengthAdjust="spacingAndGlyphs">Non-</text>
<text x="391.00" y="643.60" text-anchor="middle" textLength="32.30" lengthAdjust="spacingAndGlyphs">targeting</text>
<text x="424.60" y="634.00" text-anchor="middle" textLength="22.20" lengthAdjust="spacingAndGlyphs">sgREL</text>
<text x="346.50" y="565.70" font-size="8.6" text-anchor="middle" textLength="65.30" lengthAdjust="spacingAndGlyphs" transform="rotate(-90 346.50 565.70)">log<tspan dy="1.7" font-size="4.4">2</tspan><tspan dy="-1.7">(day 14 / day 1)</text>
<rect x="0.5" y="0.5" width="519" height="653" fill="none" stroke="#231f20" stroke-width="1.2"/>
</svg>
</body></html>
